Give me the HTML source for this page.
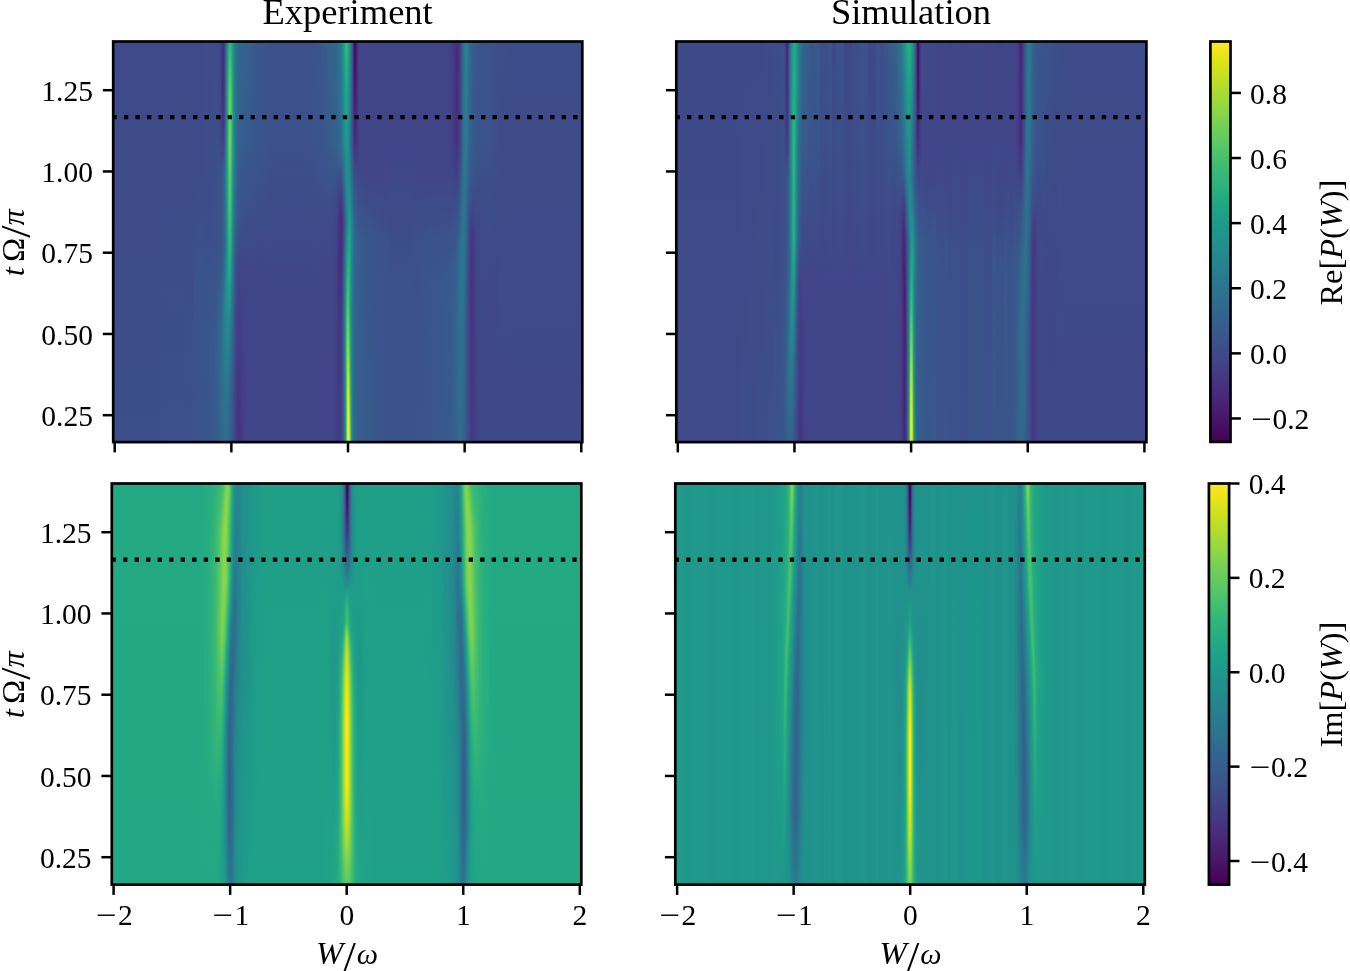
<!DOCTYPE html>
<html lang="en"><head><meta charset="utf-8"><title>P(W) experiment vs simulation</title>
<style>
html,body{margin:0;padding:0;background:#fff;}
body{width:1350px;height:971px;overflow:hidden;}
svg{display:block;}
text{font-family:"Liberation Serif","DejaVu Serif",serif;fill:#000;}
.tk{font-size:29.5px;}
.ti{font-size:36.5px;}
.lb{font-size:31px;}
.it{font-style:italic;}
</style></head>
<body>
<svg width="1350" height="971" viewBox="0 0 1350 971">
<rect width="1350" height="971" fill="#fff"/>
<!-- heat map p1 -->
<defs><linearGradient id="a0" x1="0" y1="0" x2="0" y2="1"><stop offset="0" stop-color="#3e4a89"/><stop offset="1" stop-color="#3c4f8a"/></linearGradient><linearGradient id="a1" x1="0" y1="0" x2="0" y2="1"><stop offset="0" stop-color="#3e4a89"/><stop offset="1" stop-color="#3c4f8a"/></linearGradient><linearGradient id="a2" x1="0" y1="0" x2="0" y2="1"><stop offset="0" stop-color="#3e4a89"/><stop offset="1" stop-color="#3c4f8a"/></linearGradient><linearGradient id="a3" x1="0" y1="0" x2="0" y2="1"><stop offset="0" stop-color="#3e4a89"/><stop offset="1" stop-color="#3c4f8a"/></linearGradient><linearGradient id="a4" x1="0" y1="0" x2="0" y2="1"><stop offset="0" stop-color="#3e4a89"/><stop offset="1" stop-color="#3c4f8a"/></linearGradient><linearGradient id="a5" x1="0" y1="0" x2="0" y2="1"><stop offset="0" stop-color="#3e4a89"/><stop offset="1" stop-color="#3c4f8a"/></linearGradient><linearGradient id="a6" x1="0" y1="0" x2="0" y2="1"><stop offset="0" stop-color="#3e4a89"/><stop offset="1" stop-color="#3c508b"/></linearGradient><linearGradient id="a7" x1="0" y1="0" x2="0" y2="1"><stop offset="0" stop-color="#3e4a89"/><stop offset="1" stop-color="#3c508b"/></linearGradient><linearGradient id="a8" x1="0" y1="0" x2="0" y2="1"><stop offset="0" stop-color="#3e4a89"/><stop offset="1" stop-color="#3c508b"/></linearGradient><linearGradient id="a9" x1="0" y1="0" x2="0" y2="1"><stop offset="0" stop-color="#3e4a89"/><stop offset="1" stop-color="#3b518b"/></linearGradient><linearGradient id="a10" x1="0" y1="0" x2="0" y2="1"><stop offset="0" stop-color="#3e4a89"/><stop offset="0.25" stop-color="#3e4a89"/><stop offset="0.62" stop-color="#3b528b"/><stop offset="1" stop-color="#3a538b"/></linearGradient><linearGradient id="a11" x1="0" y1="0" x2="0" y2="1"><stop offset="0" stop-color="#3e4a89"/><stop offset="0.25" stop-color="#3e4a89"/><stop offset="0.62" stop-color="#3a538b"/><stop offset="1" stop-color="#3a548c"/></linearGradient><linearGradient id="a12" x1="0" y1="0" x2="0" y2="1"><stop offset="0" stop-color="#3e4a89"/><stop offset="0.25" stop-color="#3e4a89"/><stop offset="0.62" stop-color="#3a538b"/><stop offset="1" stop-color="#39558c"/></linearGradient><linearGradient id="a13" x1="0" y1="0" x2="0" y2="1"><stop offset="0" stop-color="#3e4c8a"/><stop offset="0.25" stop-color="#3e4c8a"/><stop offset="0.43" stop-color="#3d4d8a"/><stop offset="0.71" stop-color="#39558c"/><stop offset="1" stop-color="#39568c"/></linearGradient><linearGradient id="a14" x1="0" y1="0" x2="0" y2="1"><stop offset="0" stop-color="#3e4c8a"/><stop offset="0.5" stop-color="#3c4f8a"/><stop offset="0.75" stop-color="#38588c"/><stop offset="1" stop-color="#38588c"/></linearGradient><linearGradient id="a15" x1="0" y1="0" x2="0" y2="1"><stop offset="0" stop-color="#3e4c8a"/><stop offset="0.5" stop-color="#3c4f8a"/><stop offset="0.75" stop-color="#38598c"/><stop offset="1" stop-color="#38598c"/></linearGradient><linearGradient id="a16" x1="0" y1="0" x2="0" y2="1"><stop offset="0" stop-color="#3d4d8a"/><stop offset="0.5" stop-color="#3c4f8a"/><stop offset="0.75" stop-color="#375a8c"/><stop offset="1" stop-color="#375a8c"/></linearGradient><linearGradient id="a17" x1="0" y1="0" x2="0" y2="1"><stop offset="0" stop-color="#3d4d8a"/><stop offset="0.5" stop-color="#3c508b"/><stop offset="0.75" stop-color="#365d8d"/><stop offset="1" stop-color="#365c8d"/></linearGradient><linearGradient id="a18" x1="0" y1="0" x2="0" y2="1"><stop offset="0" stop-color="#3e4c8a"/><stop offset="0.5" stop-color="#3b518b"/><stop offset="0.75" stop-color="#34618d"/><stop offset="1" stop-color="#355f8d"/></linearGradient><linearGradient id="a19" x1="0" y1="0" x2="0" y2="1"><stop offset="0" stop-color="#404688"/><stop offset="0.25" stop-color="#3e4989"/><stop offset="0.34" stop-color="#3b528b"/><stop offset="0.5" stop-color="#3b528b"/><stop offset="0.62" stop-color="#365d8d"/><stop offset="0.71" stop-color="#31678e"/><stop offset="0.85" stop-color="#31688e"/><stop offset="1" stop-color="#33638d"/></linearGradient><linearGradient id="a20" x1="0" y1="0" x2="0" y2="1"><stop offset="0" stop-color="#453882"/><stop offset="0.12" stop-color="#453882"/><stop offset="0.23" stop-color="#424086"/><stop offset="0.32" stop-color="#3b528b"/><stop offset="0.37" stop-color="#39558c"/><stop offset="0.52" stop-color="#38588c"/><stop offset="0.58" stop-color="#365d8d"/><stop offset="0.68" stop-color="#2f6c8e"/><stop offset="0.84" stop-color="#2e6e8e"/><stop offset="1" stop-color="#31678e"/></linearGradient><linearGradient id="a21" x1="0" y1="0" x2="0" y2="1"><stop offset="0" stop-color="#472e7c"/><stop offset="0.12" stop-color="#472e7c"/><stop offset="0.23" stop-color="#443a83"/><stop offset="0.27" stop-color="#414487"/><stop offset="0.31" stop-color="#3b528b"/><stop offset="0.35" stop-color="#375b8d"/><stop offset="0.51" stop-color="#375b8d"/><stop offset="0.57" stop-color="#34608d"/><stop offset="0.67" stop-color="#2d718e"/><stop offset="0.75" stop-color="#2b748e"/><stop offset="1" stop-color="#30698e"/></linearGradient><linearGradient id="a22" x1="0" y1="0" x2="0" y2="1"><stop offset="0" stop-color="#472d7b"/><stop offset="0.12" stop-color="#472f7d"/><stop offset="0.23" stop-color="#433d84"/><stop offset="0.27" stop-color="#3f4889"/><stop offset="0.31" stop-color="#38598c"/><stop offset="0.35" stop-color="#33628d"/><stop offset="0.51" stop-color="#34618d"/><stop offset="0.57" stop-color="#31678e"/><stop offset="0.67" stop-color="#2a788e"/><stop offset="0.75" stop-color="#297a8e"/><stop offset="1" stop-color="#2f6b8e"/></linearGradient><linearGradient id="a23" x1="0" y1="0" x2="0" y2="1"><stop offset="0" stop-color="#423f85"/><stop offset="0.12" stop-color="#414287"/><stop offset="0.23" stop-color="#3d4e8a"/><stop offset="0.32" stop-color="#31688e"/><stop offset="0.36" stop-color="#2f6c8e"/><stop offset="0.44" stop-color="#306a8e"/><stop offset="0.51" stop-color="#30698e"/><stop offset="0.57" stop-color="#2d718e"/><stop offset="0.67" stop-color="#26818e"/><stop offset="0.83" stop-color="#2a788e"/><stop offset="1" stop-color="#2f6c8e"/></linearGradient><linearGradient id="a24" x1="0" y1="0" x2="0" y2="1"><stop offset="0" stop-color="#365c8d"/><stop offset="0.25" stop-color="#2f6c8e"/><stop offset="0.34" stop-color="#287c8e"/><stop offset="0.5" stop-color="#2b748e"/><stop offset="0.62" stop-color="#25848e"/><stop offset="0.66" stop-color="#23898e"/><stop offset="1" stop-color="#2f6c8e"/></linearGradient><linearGradient id="a25" x1="0" y1="0" x2="0" y2="1"><stop offset="0" stop-color="#29798e"/><stop offset="0.12" stop-color="#25848e"/><stop offset="0.34" stop-color="#21918c"/><stop offset="0.5" stop-color="#25858e"/><stop offset="0.62" stop-color="#20928c"/><stop offset="0.71" stop-color="#23898e"/><stop offset="0.85" stop-color="#2a778e"/><stop offset="1" stop-color="#2f6b8e"/></linearGradient><linearGradient id="a26" x1="0" y1="0" x2="0" y2="1"><stop offset="0" stop-color="#20938c"/><stop offset="0.12" stop-color="#20a486"/><stop offset="0.34" stop-color="#23a983"/><stop offset="0.5" stop-color="#1f9a8a"/><stop offset="0.62" stop-color="#1e9b8a"/><stop offset="0.81" stop-color="#287c8e"/><stop offset="1" stop-color="#31688e"/></linearGradient><linearGradient id="a27" x1="0" y1="0" x2="0" y2="1"><stop offset="0" stop-color="#23a983"/><stop offset="0.06" stop-color="#2fb47c"/><stop offset="0.11" stop-color="#3fbc73"/><stop offset="0.16" stop-color="#48c16e"/><stop offset="0.26" stop-color="#4ec36b"/><stop offset="0.35" stop-color="#42be71"/><stop offset="0.51" stop-color="#27ad81"/><stop offset="0.57" stop-color="#22a884"/><stop offset="0.67" stop-color="#20938c"/><stop offset="0.75" stop-color="#26828e"/><stop offset="0.87" stop-color="#2d718e"/><stop offset="1" stop-color="#32658e"/></linearGradient><linearGradient id="a28" x1="0" y1="0" x2="0" y2="1"><stop offset="0" stop-color="#2fb47c"/><stop offset="0.06" stop-color="#46c06f"/><stop offset="0.11" stop-color="#5ec962"/><stop offset="0.14" stop-color="#67cc5c"/><stop offset="0.24" stop-color="#70cf57"/><stop offset="0.28" stop-color="#6ccd5a"/><stop offset="0.37" stop-color="#5ac864"/><stop offset="0.52" stop-color="#2fb47c"/><stop offset="0.58" stop-color="#23a983"/><stop offset="0.63" stop-color="#1e9b8a"/><stop offset="0.72" stop-color="#26828e"/><stop offset="0.86" stop-color="#2e6d8e"/><stop offset="1" stop-color="#33628d"/></linearGradient><linearGradient id="a29" x1="0" y1="0" x2="0" y2="1"><stop offset="0" stop-color="#2fb47c"/><stop offset="0.06" stop-color="#46c06f"/><stop offset="0.11" stop-color="#5cc863"/><stop offset="0.15" stop-color="#65cb5e"/><stop offset="0.25" stop-color="#6ccd5a"/><stop offset="0.34" stop-color="#58c765"/><stop offset="0.5" stop-color="#2eb37c"/><stop offset="0.56" stop-color="#20a486"/><stop offset="0.61" stop-color="#1f978b"/><stop offset="0.7" stop-color="#287d8e"/><stop offset="0.85" stop-color="#31688e"/><stop offset="1" stop-color="#365d8d"/></linearGradient><linearGradient id="a30" x1="0" y1="0" x2="0" y2="1"><stop offset="0" stop-color="#25ab82"/><stop offset="0.06" stop-color="#2fb47c"/><stop offset="0.11" stop-color="#3dbc74"/><stop offset="0.15" stop-color="#42be71"/><stop offset="0.25" stop-color="#46c06f"/><stop offset="0.43" stop-color="#25ac82"/><stop offset="0.5" stop-color="#1fa287"/><stop offset="0.62" stop-color="#24868e"/><stop offset="0.71" stop-color="#2c728e"/><stop offset="0.85" stop-color="#34618d"/><stop offset="1" stop-color="#38598c"/></linearGradient><linearGradient id="a31" x1="0" y1="0" x2="0" y2="1"><stop offset="0" stop-color="#1e9c89"/><stop offset="0.12" stop-color="#23a983"/><stop offset="0.23" stop-color="#23a983"/><stop offset="0.42" stop-color="#1f968b"/><stop offset="0.56" stop-color="#26818e"/><stop offset="0.67" stop-color="#2e6f8e"/><stop offset="0.83" stop-color="#365c8d"/><stop offset="1" stop-color="#3a538b"/></linearGradient><linearGradient id="a32" x1="0" y1="0" x2="0" y2="1"><stop offset="0" stop-color="#228d8d"/><stop offset="0.12" stop-color="#1f948c"/><stop offset="0.23" stop-color="#20938c"/><stop offset="0.42" stop-color="#26828e"/><stop offset="0.71" stop-color="#355e8d"/><stop offset="0.85" stop-color="#3b528b"/><stop offset="1" stop-color="#3d4d8a"/></linearGradient><linearGradient id="a33" x1="0" y1="0" x2="0" y2="1"><stop offset="0" stop-color="#27808e"/><stop offset="0.25" stop-color="#26828e"/><stop offset="0.43" stop-color="#2d718e"/><stop offset="0.57" stop-color="#355f8d"/><stop offset="0.78" stop-color="#3c4f8a"/><stop offset="0.89" stop-color="#3f4889"/><stop offset="1" stop-color="#3f4788"/></linearGradient><linearGradient id="a34" x1="0" y1="0" x2="0" y2="1"><stop offset="0" stop-color="#2a768e"/><stop offset="0.25" stop-color="#2b758e"/><stop offset="0.43" stop-color="#32658e"/><stop offset="0.57" stop-color="#3a538b"/><stop offset="0.78" stop-color="#404688"/><stop offset="0.89" stop-color="#424186"/><stop offset="1" stop-color="#424186"/></linearGradient><linearGradient id="a35" x1="0" y1="0" x2="0" y2="1"><stop offset="0" stop-color="#2d708e"/><stop offset="0.25" stop-color="#2e6d8e"/><stop offset="0.43" stop-color="#355e8d"/><stop offset="0.57" stop-color="#3e4c8a"/><stop offset="0.67" stop-color="#404588"/><stop offset="0.83" stop-color="#443b84"/><stop offset="1" stop-color="#443a83"/></linearGradient><linearGradient id="a36" x1="0" y1="0" x2="0" y2="1"><stop offset="0" stop-color="#2f6b8e"/><stop offset="0.25" stop-color="#31678e"/><stop offset="0.43" stop-color="#38598c"/><stop offset="0.57" stop-color="#3f4788"/><stop offset="0.78" stop-color="#443b84"/><stop offset="0.89" stop-color="#453581"/><stop offset="1" stop-color="#453581"/></linearGradient><linearGradient id="a37" x1="0" y1="0" x2="0" y2="1"><stop offset="0" stop-color="#31688e"/><stop offset="0.25" stop-color="#32648e"/><stop offset="0.43" stop-color="#39558c"/><stop offset="0.57" stop-color="#404688"/><stop offset="0.67" stop-color="#423f85"/><stop offset="0.83" stop-color="#453781"/><stop offset="1" stop-color="#46337f"/></linearGradient><linearGradient id="a38" x1="0" y1="0" x2="0" y2="1"><stop offset="0" stop-color="#32658e"/><stop offset="0.25" stop-color="#33628d"/><stop offset="0.62" stop-color="#424186"/><stop offset="1" stop-color="#46327e"/></linearGradient><linearGradient id="a39" x1="0" y1="0" x2="0" y2="1"><stop offset="0" stop-color="#32648e"/><stop offset="0.25" stop-color="#34608d"/><stop offset="0.62" stop-color="#414287"/><stop offset="1" stop-color="#463480"/></linearGradient><linearGradient id="a40" x1="0" y1="0" x2="0" y2="1"><stop offset="0" stop-color="#33638d"/><stop offset="0.25" stop-color="#355f8d"/><stop offset="0.43" stop-color="#3b518b"/><stop offset="0.57" stop-color="#404688"/><stop offset="1" stop-color="#453882"/></linearGradient><linearGradient id="a41" x1="0" y1="0" x2="0" y2="1"><stop offset="0" stop-color="#33628d"/><stop offset="0.25" stop-color="#355e8d"/><stop offset="0.43" stop-color="#3c508b"/><stop offset="0.57" stop-color="#404688"/><stop offset="1" stop-color="#443b84"/></linearGradient><linearGradient id="a42" x1="0" y1="0" x2="0" y2="1"><stop offset="0" stop-color="#34618d"/><stop offset="0.25" stop-color="#365d8d"/><stop offset="0.43" stop-color="#3c508b"/><stop offset="0.57" stop-color="#404688"/><stop offset="1" stop-color="#424086"/></linearGradient><linearGradient id="a43" x1="0" y1="0" x2="0" y2="1"><stop offset="0" stop-color="#34608d"/><stop offset="0.25" stop-color="#365c8d"/><stop offset="0.43" stop-color="#3c4f8a"/><stop offset="0.57" stop-color="#404688"/><stop offset="1" stop-color="#414487"/></linearGradient><linearGradient id="a44" x1="0" y1="0" x2="0" y2="1"><stop offset="0" stop-color="#355f8d"/><stop offset="0.25" stop-color="#375b8d"/><stop offset="0.43" stop-color="#3c4f8a"/><stop offset="0.57" stop-color="#404688"/><stop offset="1" stop-color="#404588"/></linearGradient><linearGradient id="a45" x1="0" y1="0" x2="0" y2="1"><stop offset="0" stop-color="#365d8d"/><stop offset="0.25" stop-color="#375a8c"/><stop offset="0.43" stop-color="#3d4e8a"/><stop offset="0.57" stop-color="#404688"/><stop offset="1" stop-color="#404588"/></linearGradient><linearGradient id="a46" x1="0" y1="0" x2="0" y2="1"><stop offset="0" stop-color="#365c8d"/><stop offset="0.25" stop-color="#38598c"/><stop offset="0.43" stop-color="#3d4e8a"/><stop offset="0.57" stop-color="#404688"/><stop offset="1" stop-color="#404688"/></linearGradient><linearGradient id="a47" x1="0" y1="0" x2="0" y2="1"><stop offset="0" stop-color="#375a8c"/><stop offset="0.25" stop-color="#38588c"/><stop offset="0.43" stop-color="#3d4e8a"/><stop offset="0.57" stop-color="#404688"/><stop offset="1" stop-color="#404688"/></linearGradient><linearGradient id="a48" x1="0" y1="0" x2="0" y2="1"><stop offset="0" stop-color="#38598c"/><stop offset="0.25" stop-color="#39568c"/><stop offset="0.43" stop-color="#3d4d8a"/><stop offset="0.57" stop-color="#404688"/><stop offset="1" stop-color="#404688"/></linearGradient><linearGradient id="a49" x1="0" y1="0" x2="0" y2="1"><stop offset="0" stop-color="#39568c"/><stop offset="0.25" stop-color="#3a548c"/><stop offset="0.43" stop-color="#3d4d8a"/><stop offset="0.57" stop-color="#404688"/><stop offset="1" stop-color="#404688"/></linearGradient><linearGradient id="a50" x1="0" y1="0" x2="0" y2="1"><stop offset="0" stop-color="#3a548c"/><stop offset="0.25" stop-color="#3a538b"/><stop offset="0.43" stop-color="#3d4d8a"/><stop offset="0.57" stop-color="#404688"/><stop offset="1" stop-color="#404688"/></linearGradient><linearGradient id="a51" x1="0" y1="0" x2="0" y2="1"><stop offset="0" stop-color="#3b528b"/><stop offset="0.25" stop-color="#3b528b"/><stop offset="0.62" stop-color="#404688"/><stop offset="1" stop-color="#404688"/></linearGradient><linearGradient id="a52" x1="0" y1="0" x2="0" y2="1"><stop offset="0" stop-color="#3b518b"/><stop offset="0.25" stop-color="#3b518b"/><stop offset="0.62" stop-color="#404688"/><stop offset="1" stop-color="#404688"/></linearGradient><linearGradient id="a53" x1="0" y1="0" x2="0" y2="1"><stop offset="0" stop-color="#3b518b"/><stop offset="0.25" stop-color="#3c508b"/><stop offset="0.62" stop-color="#404688"/><stop offset="1" stop-color="#404688"/></linearGradient><linearGradient id="a54" x1="0" y1="0" x2="0" y2="1"><stop offset="0" stop-color="#3c508b"/><stop offset="0.25" stop-color="#3c508b"/><stop offset="0.62" stop-color="#404688"/><stop offset="1" stop-color="#404688"/></linearGradient><linearGradient id="a55" x1="0" y1="0" x2="0" y2="1"><stop offset="0" stop-color="#3c508b"/><stop offset="0.25" stop-color="#3c508b"/><stop offset="0.62" stop-color="#404688"/><stop offset="1" stop-color="#404688"/></linearGradient><linearGradient id="a56" x1="0" y1="0" x2="0" y2="1"><stop offset="0" stop-color="#3c508b"/><stop offset="0.25" stop-color="#3c508b"/><stop offset="0.62" stop-color="#404688"/><stop offset="1" stop-color="#404688"/></linearGradient><linearGradient id="a57" x1="0" y1="0" x2="0" y2="1"><stop offset="0" stop-color="#3b518b"/><stop offset="0.25" stop-color="#3b518b"/><stop offset="0.62" stop-color="#404688"/><stop offset="1" stop-color="#404688"/></linearGradient><linearGradient id="a58" x1="0" y1="0" x2="0" y2="1"><stop offset="0" stop-color="#3a538b"/><stop offset="0.25" stop-color="#3b528b"/><stop offset="0.62" stop-color="#404688"/><stop offset="1" stop-color="#404688"/></linearGradient><linearGradient id="a59" x1="0" y1="0" x2="0" y2="1"><stop offset="0" stop-color="#39568c"/><stop offset="0.25" stop-color="#3a548c"/><stop offset="0.43" stop-color="#3e4c8a"/><stop offset="0.57" stop-color="#404688"/><stop offset="1" stop-color="#404688"/></linearGradient><linearGradient id="a60" x1="0" y1="0" x2="0" y2="1"><stop offset="0" stop-color="#375a8c"/><stop offset="0.25" stop-color="#39568c"/><stop offset="0.43" stop-color="#3e4c8a"/><stop offset="0.57" stop-color="#404688"/><stop offset="1" stop-color="#404688"/></linearGradient><linearGradient id="a61" x1="0" y1="0" x2="0" y2="1"><stop offset="0" stop-color="#365d8d"/><stop offset="0.25" stop-color="#38598c"/><stop offset="0.43" stop-color="#3e4c8a"/><stop offset="0.57" stop-color="#404688"/><stop offset="1" stop-color="#404688"/></linearGradient><linearGradient id="a62" x1="0" y1="0" x2="0" y2="1"><stop offset="0" stop-color="#355f8d"/><stop offset="0.25" stop-color="#375a8c"/><stop offset="0.43" stop-color="#3e4c8a"/><stop offset="0.57" stop-color="#404688"/><stop offset="1" stop-color="#404688"/></linearGradient><linearGradient id="a63" x1="0" y1="0" x2="0" y2="1"><stop offset="0" stop-color="#34618d"/><stop offset="0.25" stop-color="#365c8d"/><stop offset="0.43" stop-color="#3e4c8a"/><stop offset="0.57" stop-color="#404688"/><stop offset="1" stop-color="#404688"/></linearGradient><linearGradient id="a64" x1="0" y1="0" x2="0" y2="1"><stop offset="0" stop-color="#33638d"/><stop offset="0.25" stop-color="#365d8d"/><stop offset="0.43" stop-color="#3e4a89"/><stop offset="0.57" stop-color="#404688"/><stop offset="1" stop-color="#404588"/></linearGradient><linearGradient id="a65" x1="0" y1="0" x2="0" y2="1"><stop offset="0" stop-color="#32658e"/><stop offset="0.25" stop-color="#355e8d"/><stop offset="0.43" stop-color="#3e4989"/><stop offset="0.57" stop-color="#414487"/><stop offset="1" stop-color="#414287"/></linearGradient><linearGradient id="a66" x1="0" y1="0" x2="0" y2="1"><stop offset="0" stop-color="#31688e"/><stop offset="0.25" stop-color="#34608d"/><stop offset="0.34" stop-color="#3b518b"/><stop offset="0.42" stop-color="#404688"/><stop offset="0.56" stop-color="#424086"/><stop offset="1" stop-color="#423f85"/></linearGradient><linearGradient id="a67" x1="0" y1="0" x2="0" y2="1"><stop offset="0" stop-color="#2f6c8e"/><stop offset="0.25" stop-color="#33628d"/><stop offset="0.29" stop-color="#365d8d"/><stop offset="0.37" stop-color="#3f4788"/><stop offset="0.52" stop-color="#443a83"/><stop offset="1" stop-color="#443b84"/></linearGradient><linearGradient id="a68" x1="0" y1="0" x2="0" y2="1"><stop offset="0" stop-color="#2e6f8e"/><stop offset="0.25" stop-color="#32648e"/><stop offset="0.29" stop-color="#355e8d"/><stop offset="0.37" stop-color="#414487"/><stop offset="0.44" stop-color="#443983"/><stop offset="0.58" stop-color="#463480"/><stop offset="0.79" stop-color="#443983"/><stop offset="1" stop-color="#443983"/></linearGradient><linearGradient id="a69" x1="0" y1="0" x2="0" y2="1"><stop offset="0" stop-color="#2c738e"/><stop offset="0.25" stop-color="#31678e"/><stop offset="0.29" stop-color="#34618d"/><stop offset="0.37" stop-color="#424086"/><stop offset="0.44" stop-color="#46327e"/><stop offset="0.58" stop-color="#472f7d"/><stop offset="0.79" stop-color="#453781"/><stop offset="1" stop-color="#443983"/></linearGradient><linearGradient id="a70" x1="0" y1="0" x2="0" y2="1"><stop offset="0" stop-color="#297a8e"/><stop offset="0.25" stop-color="#2f6b8e"/><stop offset="0.29" stop-color="#32648e"/><stop offset="0.37" stop-color="#424086"/><stop offset="0.44" stop-color="#472e7c"/><stop offset="0.51" stop-color="#472a7a"/><stop offset="0.75" stop-color="#453781"/><stop offset="1" stop-color="#433d84"/></linearGradient><linearGradient id="a71" x1="0" y1="0" x2="0" y2="1"><stop offset="0" stop-color="#26828e"/><stop offset="0.25" stop-color="#2c718e"/><stop offset="0.29" stop-color="#306a8e"/><stop offset="0.37" stop-color="#404588"/><stop offset="0.44" stop-color="#46307e"/><stop offset="0.49" stop-color="#472d7b"/><stop offset="0.74" stop-color="#433e85"/><stop offset="1" stop-color="#404588"/></linearGradient><linearGradient id="a72" x1="0" y1="0" x2="0" y2="1"><stop offset="0" stop-color="#218e8d"/><stop offset="0.25" stop-color="#29798e"/><stop offset="0.29" stop-color="#2d718e"/><stop offset="0.37" stop-color="#3c4f8a"/><stop offset="0.44" stop-color="#443983"/><stop offset="0.47" stop-color="#453781"/><stop offset="0.6" stop-color="#414487"/><stop offset="0.7" stop-color="#3e4c8a"/><stop offset="1" stop-color="#3c508b"/></linearGradient><linearGradient id="a73" x1="0" y1="0" x2="0" y2="1"><stop offset="0" stop-color="#1e9b8a"/><stop offset="0.25" stop-color="#26828e"/><stop offset="0.29" stop-color="#297a8e"/><stop offset="0.37" stop-color="#365d8d"/><stop offset="0.44" stop-color="#3f4788"/><stop offset="0.48" stop-color="#3f4788"/><stop offset="0.61" stop-color="#375a8c"/><stop offset="0.7" stop-color="#34608d"/><stop offset="1" stop-color="#34608d"/></linearGradient><linearGradient id="a74" x1="0" y1="0" x2="0" y2="1"><stop offset="0" stop-color="#22a884"/><stop offset="0.12" stop-color="#1f9a8a"/><stop offset="0.23" stop-color="#218f8d"/><stop offset="0.27" stop-color="#23898e"/><stop offset="0.45" stop-color="#39558c"/><stop offset="0.58" stop-color="#2f6c8e"/><stop offset="0.68" stop-color="#297a8e"/><stop offset="1" stop-color="#2a788e"/></linearGradient><linearGradient id="a75" x1="0" y1="0" x2="0" y2="1"><stop offset="0" stop-color="#2eb37c"/><stop offset="0.12" stop-color="#20a386"/><stop offset="0.23" stop-color="#1f968b"/><stop offset="0.32" stop-color="#23888e"/><stop offset="0.4" stop-color="#2c738e"/><stop offset="0.45" stop-color="#31678e"/><stop offset="0.58" stop-color="#25858e"/><stop offset="0.63" stop-color="#20928c"/><stop offset="0.72" stop-color="#1e9c89"/><stop offset="1" stop-color="#1e9c89"/></linearGradient><linearGradient id="a76" x1="0" y1="0" x2="0" y2="1"><stop offset="0" stop-color="#34b679"/><stop offset="0.12" stop-color="#22a785"/><stop offset="0.23" stop-color="#1f9a8a"/><stop offset="0.32" stop-color="#20928c"/><stop offset="0.4" stop-color="#25838e"/><stop offset="0.45" stop-color="#29798e"/><stop offset="0.58" stop-color="#1f9f88"/><stop offset="0.63" stop-color="#26ad81"/><stop offset="0.72" stop-color="#40bd72"/><stop offset="0.79" stop-color="#52c569"/><stop offset="0.89" stop-color="#5ec962"/><stop offset="1" stop-color="#60ca60"/></linearGradient><linearGradient id="a77" x1="0" y1="0" x2="0" y2="1"><stop offset="0" stop-color="#2eb37c"/><stop offset="0.12" stop-color="#20a386"/><stop offset="0.23" stop-color="#1f968b"/><stop offset="0.42" stop-color="#218e8d"/><stop offset="0.45" stop-color="#238a8d"/><stop offset="0.51" stop-color="#1f9e89"/><stop offset="0.57" stop-color="#28ae80"/><stop offset="0.62" stop-color="#3dbc74"/><stop offset="0.71" stop-color="#6ece58"/><stop offset="0.85" stop-color="#bddf26"/><stop offset="0.92" stop-color="#d5e21a"/><stop offset="1" stop-color="#e7e419"/></linearGradient><linearGradient id="a78" x1="0" y1="0" x2="0" y2="1"><stop offset="0" stop-color="#22a785"/><stop offset="0.12" stop-color="#1f998a"/><stop offset="0.23" stop-color="#228d8d"/><stop offset="0.42" stop-color="#1f978b"/><stop offset="0.46" stop-color="#1e9b8a"/><stop offset="0.52" stop-color="#24aa83"/><stop offset="0.64" stop-color="#48c16e"/><stop offset="0.68" stop-color="#5ac864"/><stop offset="0.76" stop-color="#8bd646"/><stop offset="0.82" stop-color="#b8de29"/><stop offset="0.86" stop-color="#d5e21a"/><stop offset="0.9" stop-color="#eae51a"/><stop offset="0.94" stop-color="#fde725"/><stop offset="1" stop-color="#fde725"/></linearGradient><linearGradient id="a79" x1="0" y1="0" x2="0" y2="1"><stop offset="0" stop-color="#1f958b"/><stop offset="0.25" stop-color="#277e8e"/><stop offset="0.34" stop-color="#24878e"/><stop offset="0.42" stop-color="#1f978b"/><stop offset="0.56" stop-color="#26ad81"/><stop offset="0.61" stop-color="#2ab07f"/><stop offset="0.65" stop-color="#2cb17e"/><stop offset="0.73" stop-color="#42be71"/><stop offset="0.79" stop-color="#5ec962"/><stop offset="0.89" stop-color="#98d83e"/><stop offset="0.94" stop-color="#b8de29"/><stop offset="1" stop-color="#dde318"/></linearGradient><linearGradient id="a80" x1="0" y1="0" x2="0" y2="1"><stop offset="0" stop-color="#26818e"/><stop offset="0.25" stop-color="#2d708e"/><stop offset="0.34" stop-color="#297b8e"/><stop offset="0.41" stop-color="#228c8d"/><stop offset="0.46" stop-color="#1f998a"/><stop offset="0.59" stop-color="#1e9d89"/><stop offset="0.64" stop-color="#1f9a8a"/><stop offset="0.73" stop-color="#1fa188"/><stop offset="0.79" stop-color="#23a983"/><stop offset="0.89" stop-color="#37b878"/><stop offset="1" stop-color="#5ac864"/></linearGradient><linearGradient id="a81" x1="0" y1="0" x2="0" y2="1"><stop offset="0" stop-color="#306a8e"/><stop offset="0.25" stop-color="#34608d"/><stop offset="0.34" stop-color="#2e6f8e"/><stop offset="0.41" stop-color="#277f8e"/><stop offset="0.46" stop-color="#228c8d"/><stop offset="0.59" stop-color="#23898e"/><stop offset="0.64" stop-color="#25858e"/><stop offset="0.82" stop-color="#218e8d"/><stop offset="1" stop-color="#1fa088"/></linearGradient><linearGradient id="a82" x1="0" y1="0" x2="0" y2="1"><stop offset="0" stop-color="#3d4d8a"/><stop offset="0.25" stop-color="#3c508b"/><stop offset="0.34" stop-color="#32648e"/><stop offset="0.42" stop-color="#2b758e"/><stop offset="0.45" stop-color="#277f8e"/><stop offset="0.58" stop-color="#297b8e"/><stop offset="0.68" stop-color="#2b758e"/><stop offset="1" stop-color="#26828e"/></linearGradient><linearGradient id="a83" x1="0" y1="0" x2="0" y2="1"><stop offset="0" stop-color="#482979"/><stop offset="0.12" stop-color="#46327e"/><stop offset="0.23" stop-color="#433d84"/><stop offset="0.27" stop-color="#404588"/><stop offset="0.31" stop-color="#3b528b"/><stop offset="0.39" stop-color="#33628d"/><stop offset="0.46" stop-color="#2c718e"/><stop offset="0.73" stop-color="#2f6c8e"/><stop offset="1" stop-color="#2c718e"/></linearGradient><linearGradient id="a84" x1="0" y1="0" x2="0" y2="1"><stop offset="0" stop-color="#460b5e"/><stop offset="0.25" stop-color="#46307e"/><stop offset="0.34" stop-color="#3a548c"/><stop offset="0.42" stop-color="#34618d"/><stop offset="0.48" stop-color="#30698e"/><stop offset="0.74" stop-color="#32658e"/><stop offset="1" stop-color="#30698e"/></linearGradient><linearGradient id="a85" x1="0" y1="0" x2="0" y2="1"><stop offset="0" stop-color="#460a5d"/><stop offset="0.25" stop-color="#472d7b"/><stop offset="0.34" stop-color="#3c508b"/><stop offset="0.42" stop-color="#375b8d"/><stop offset="0.49" stop-color="#32648e"/><stop offset="1" stop-color="#33638d"/></linearGradient><linearGradient id="a86" x1="0" y1="0" x2="0" y2="1"><stop offset="0" stop-color="#481d6f"/><stop offset="0.25" stop-color="#46327e"/><stop offset="0.34" stop-color="#3d4d8a"/><stop offset="0.5" stop-color="#34618d"/><stop offset="1" stop-color="#34618d"/></linearGradient><linearGradient id="a87" x1="0" y1="0" x2="0" y2="1"><stop offset="0" stop-color="#46307e"/><stop offset="0.25" stop-color="#443983"/><stop offset="0.34" stop-color="#3e4a89"/><stop offset="0.5" stop-color="#355e8d"/><stop offset="1" stop-color="#355f8d"/></linearGradient><linearGradient id="a88" x1="0" y1="0" x2="0" y2="1"><stop offset="0" stop-color="#433d84"/><stop offset="0.25" stop-color="#423f85"/><stop offset="0.43" stop-color="#3a538b"/><stop offset="0.5" stop-color="#365d8d"/><stop offset="1" stop-color="#355e8d"/></linearGradient><linearGradient id="a89" x1="0" y1="0" x2="0" y2="1"><stop offset="0" stop-color="#414487"/><stop offset="0.25" stop-color="#414487"/><stop offset="0.34" stop-color="#3f4889"/><stop offset="0.5" stop-color="#375b8d"/><stop offset="1" stop-color="#365d8d"/></linearGradient><linearGradient id="a90" x1="0" y1="0" x2="0" y2="1"><stop offset="0" stop-color="#404688"/><stop offset="0.25" stop-color="#404588"/><stop offset="0.34" stop-color="#3f4788"/><stop offset="0.5" stop-color="#375a8c"/><stop offset="1" stop-color="#365d8d"/></linearGradient><linearGradient id="a91" x1="0" y1="0" x2="0" y2="1"><stop offset="0" stop-color="#404688"/><stop offset="0.25" stop-color="#404588"/><stop offset="0.34" stop-color="#404688"/><stop offset="0.5" stop-color="#38598c"/><stop offset="1" stop-color="#365c8d"/></linearGradient><linearGradient id="a92" x1="0" y1="0" x2="0" y2="1"><stop offset="0" stop-color="#404688"/><stop offset="0.25" stop-color="#404588"/><stop offset="0.34" stop-color="#404688"/><stop offset="0.5" stop-color="#38588c"/><stop offset="1" stop-color="#375b8d"/></linearGradient><linearGradient id="a93" x1="0" y1="0" x2="0" y2="1"><stop offset="0" stop-color="#404688"/><stop offset="0.25" stop-color="#404588"/><stop offset="0.34" stop-color="#404688"/><stop offset="0.5" stop-color="#38588c"/><stop offset="1" stop-color="#375b8d"/></linearGradient><linearGradient id="a94" x1="0" y1="0" x2="0" y2="1"><stop offset="0" stop-color="#404588"/><stop offset="0.25" stop-color="#404588"/><stop offset="0.34" stop-color="#404688"/><stop offset="0.5" stop-color="#39568c"/><stop offset="1" stop-color="#375a8c"/></linearGradient><linearGradient id="a95" x1="0" y1="0" x2="0" y2="1"><stop offset="0" stop-color="#404588"/><stop offset="0.25" stop-color="#404588"/><stop offset="0.34" stop-color="#404688"/><stop offset="0.5" stop-color="#39558c"/><stop offset="1" stop-color="#38598c"/></linearGradient><linearGradient id="a96" x1="0" y1="0" x2="0" y2="1"><stop offset="0" stop-color="#404588"/><stop offset="0.25" stop-color="#404588"/><stop offset="0.34" stop-color="#404688"/><stop offset="0.5" stop-color="#3a548c"/><stop offset="1" stop-color="#38588c"/></linearGradient><linearGradient id="a97" x1="0" y1="0" x2="0" y2="1"><stop offset="0" stop-color="#404588"/><stop offset="0.25" stop-color="#404588"/><stop offset="0.34" stop-color="#404688"/><stop offset="0.5" stop-color="#3a538b"/><stop offset="1" stop-color="#39558c"/></linearGradient><linearGradient id="a98" x1="0" y1="0" x2="0" y2="1"><stop offset="0" stop-color="#404588"/><stop offset="0.25" stop-color="#404588"/><stop offset="0.34" stop-color="#404688"/><stop offset="0.5" stop-color="#3b518b"/><stop offset="1" stop-color="#3a548c"/></linearGradient><linearGradient id="a99" x1="0" y1="0" x2="0" y2="1"><stop offset="0" stop-color="#404588"/><stop offset="0.25" stop-color="#404588"/><stop offset="0.34" stop-color="#404688"/><stop offset="0.5" stop-color="#3b518b"/><stop offset="1" stop-color="#3a538b"/></linearGradient><linearGradient id="a100" x1="0" y1="0" x2="0" y2="1"><stop offset="0" stop-color="#404588"/><stop offset="0.25" stop-color="#404588"/><stop offset="0.62" stop-color="#3b528b"/><stop offset="1" stop-color="#3b528b"/></linearGradient><linearGradient id="a101" x1="0" y1="0" x2="0" y2="1"><stop offset="0" stop-color="#404588"/><stop offset="0.25" stop-color="#404588"/><stop offset="0.62" stop-color="#3b528b"/><stop offset="1" stop-color="#3b528b"/></linearGradient><linearGradient id="a102" x1="0" y1="0" x2="0" y2="1"><stop offset="0" stop-color="#404588"/><stop offset="0.25" stop-color="#404588"/><stop offset="0.62" stop-color="#3b528b"/><stop offset="1" stop-color="#3b528b"/></linearGradient><linearGradient id="a103" x1="0" y1="0" x2="0" y2="1"><stop offset="0" stop-color="#404588"/><stop offset="0.25" stop-color="#404588"/><stop offset="0.34" stop-color="#404688"/><stop offset="0.5" stop-color="#3c508b"/><stop offset="1" stop-color="#3a538b"/></linearGradient><linearGradient id="a104" x1="0" y1="0" x2="0" y2="1"><stop offset="0" stop-color="#404588"/><stop offset="0.25" stop-color="#404588"/><stop offset="0.34" stop-color="#404688"/><stop offset="0.5" stop-color="#3b518b"/><stop offset="1" stop-color="#3a548c"/></linearGradient><linearGradient id="a105" x1="0" y1="0" x2="0" y2="1"><stop offset="0" stop-color="#404588"/><stop offset="0.25" stop-color="#404588"/><stop offset="0.34" stop-color="#404688"/><stop offset="0.5" stop-color="#3b528b"/><stop offset="0.62" stop-color="#39568c"/><stop offset="1" stop-color="#39568c"/></linearGradient><linearGradient id="a106" x1="0" y1="0" x2="0" y2="1"><stop offset="0" stop-color="#404588"/><stop offset="0.25" stop-color="#404588"/><stop offset="0.34" stop-color="#404688"/><stop offset="0.5" stop-color="#3b528b"/><stop offset="0.62" stop-color="#38588c"/><stop offset="1" stop-color="#38588c"/></linearGradient><linearGradient id="a107" x1="0" y1="0" x2="0" y2="1"><stop offset="0" stop-color="#404588"/><stop offset="0.25" stop-color="#404588"/><stop offset="0.34" stop-color="#404688"/><stop offset="0.5" stop-color="#3b528b"/><stop offset="0.62" stop-color="#38588c"/><stop offset="1" stop-color="#38588c"/></linearGradient><linearGradient id="a108" x1="0" y1="0" x2="0" y2="1"><stop offset="0" stop-color="#404588"/><stop offset="0.25" stop-color="#404588"/><stop offset="0.34" stop-color="#404688"/><stop offset="0.5" stop-color="#3a538b"/><stop offset="0.62" stop-color="#38598c"/><stop offset="1" stop-color="#38598c"/></linearGradient><linearGradient id="a109" x1="0" y1="0" x2="0" y2="1"><stop offset="0" stop-color="#404588"/><stop offset="0.25" stop-color="#404588"/><stop offset="0.34" stop-color="#404688"/><stop offset="0.5" stop-color="#3a538b"/><stop offset="0.62" stop-color="#38598c"/><stop offset="1" stop-color="#38598c"/></linearGradient><linearGradient id="a110" x1="0" y1="0" x2="0" y2="1"><stop offset="0" stop-color="#414487"/><stop offset="0.25" stop-color="#404588"/><stop offset="0.34" stop-color="#404688"/><stop offset="0.5" stop-color="#3a538b"/><stop offset="0.62" stop-color="#38598c"/><stop offset="1" stop-color="#38598c"/></linearGradient><linearGradient id="a111" x1="0" y1="0" x2="0" y2="1"><stop offset="0" stop-color="#414487"/><stop offset="0.25" stop-color="#414487"/><stop offset="0.43" stop-color="#3e4c8a"/><stop offset="0.57" stop-color="#38598c"/><stop offset="1" stop-color="#375a8c"/></linearGradient><linearGradient id="a112" x1="0" y1="0" x2="0" y2="1"><stop offset="0" stop-color="#424186"/><stop offset="0.25" stop-color="#414287"/><stop offset="0.43" stop-color="#3e4c8a"/><stop offset="0.57" stop-color="#375a8c"/><stop offset="1" stop-color="#375b8d"/></linearGradient><linearGradient id="a113" x1="0" y1="0" x2="0" y2="1"><stop offset="0" stop-color="#433d84"/><stop offset="0.25" stop-color="#423f85"/><stop offset="0.43" stop-color="#3d4d8a"/><stop offset="0.57" stop-color="#375b8d"/><stop offset="1" stop-color="#365d8d"/></linearGradient><linearGradient id="a114" x1="0" y1="0" x2="0" y2="1"><stop offset="0" stop-color="#463480"/><stop offset="0.25" stop-color="#453882"/><stop offset="0.43" stop-color="#3d4e8a"/><stop offset="0.57" stop-color="#365d8d"/><stop offset="0.78" stop-color="#34618d"/><stop offset="1" stop-color="#34608d"/></linearGradient><linearGradient id="a115" x1="0" y1="0" x2="0" y2="1"><stop offset="0" stop-color="#472e7c"/><stop offset="0.25" stop-color="#46337f"/><stop offset="0.43" stop-color="#3c4f8a"/><stop offset="0.57" stop-color="#34608d"/><stop offset="0.78" stop-color="#32658e"/><stop offset="1" stop-color="#33638d"/></linearGradient><linearGradient id="a116" x1="0" y1="0" x2="0" y2="1"><stop offset="0" stop-color="#472a7a"/><stop offset="0.25" stop-color="#46307e"/><stop offset="0.43" stop-color="#3b518b"/><stop offset="0.57" stop-color="#33638d"/><stop offset="0.78" stop-color="#31688e"/><stop offset="1" stop-color="#32658e"/></linearGradient><linearGradient id="a117" x1="0" y1="0" x2="0" y2="1"><stop offset="0" stop-color="#472c7a"/><stop offset="0.25" stop-color="#46327e"/><stop offset="0.43" stop-color="#3a548c"/><stop offset="0.57" stop-color="#31678e"/><stop offset="0.78" stop-color="#2f6c8e"/><stop offset="1" stop-color="#31678e"/></linearGradient><linearGradient id="a118" x1="0" y1="0" x2="0" y2="1"><stop offset="0" stop-color="#46307e"/><stop offset="0.25" stop-color="#453781"/><stop offset="0.43" stop-color="#38588c"/><stop offset="0.57" stop-color="#2f6b8e"/><stop offset="0.78" stop-color="#2e6f8e"/><stop offset="1" stop-color="#30698e"/></linearGradient><linearGradient id="a119" x1="0" y1="0" x2="0" y2="1"><stop offset="0" stop-color="#443983"/><stop offset="0.25" stop-color="#423f85"/><stop offset="0.43" stop-color="#365d8d"/><stop offset="0.57" stop-color="#2d718e"/><stop offset="0.78" stop-color="#2d718e"/><stop offset="1" stop-color="#2f6b8e"/></linearGradient><linearGradient id="a120" x1="0" y1="0" x2="0" y2="1"><stop offset="0" stop-color="#404588"/><stop offset="0.25" stop-color="#3e4989"/><stop offset="0.43" stop-color="#32648e"/><stop offset="0.57" stop-color="#2b748e"/><stop offset="1" stop-color="#2f6b8e"/></linearGradient><linearGradient id="a121" x1="0" y1="0" x2="0" y2="1"><stop offset="0" stop-color="#3b528b"/><stop offset="0.25" stop-color="#39568c"/><stop offset="0.43" stop-color="#2f6c8e"/><stop offset="0.57" stop-color="#2a788e"/><stop offset="1" stop-color="#306a8e"/></linearGradient><linearGradient id="a122" x1="0" y1="0" x2="0" y2="1"><stop offset="0" stop-color="#34608d"/><stop offset="0.25" stop-color="#33638d"/><stop offset="0.43" stop-color="#2c718e"/><stop offset="0.5" stop-color="#2a788e"/><stop offset="1" stop-color="#31678e"/></linearGradient><linearGradient id="a123" x1="0" y1="0" x2="0" y2="1"><stop offset="0" stop-color="#2e6e8e"/><stop offset="0.25" stop-color="#2d708e"/><stop offset="0.43" stop-color="#2b758e"/><stop offset="0.57" stop-color="#2b758e"/><stop offset="0.78" stop-color="#30698e"/><stop offset="1" stop-color="#33638d"/></linearGradient><linearGradient id="a124" x1="0" y1="0" x2="0" y2="1"><stop offset="0" stop-color="#297a8e"/><stop offset="0.5" stop-color="#2c738e"/><stop offset="0.75" stop-color="#32658e"/><stop offset="1" stop-color="#355f8d"/></linearGradient><linearGradient id="a125" x1="0" y1="0" x2="0" y2="1"><stop offset="0" stop-color="#26828e"/><stop offset="0.25" stop-color="#287c8e"/><stop offset="0.62" stop-color="#32648e"/><stop offset="0.81" stop-color="#365d8d"/><stop offset="1" stop-color="#375b8d"/></linearGradient><linearGradient id="a126" x1="0" y1="0" x2="0" y2="1"><stop offset="0" stop-color="#26828e"/><stop offset="0.25" stop-color="#297a8e"/><stop offset="0.43" stop-color="#31678e"/><stop offset="0.71" stop-color="#38588c"/><stop offset="1" stop-color="#39558c"/></linearGradient><linearGradient id="a127" x1="0" y1="0" x2="0" y2="1"><stop offset="0" stop-color="#287d8e"/><stop offset="0.25" stop-color="#2c738e"/><stop offset="0.43" stop-color="#355e8d"/><stop offset="0.57" stop-color="#3a538b"/><stop offset="0.78" stop-color="#3c4f8a"/><stop offset="1" stop-color="#3c508b"/></linearGradient><linearGradient id="a128" x1="0" y1="0" x2="0" y2="1"><stop offset="0" stop-color="#2b758e"/><stop offset="0.25" stop-color="#2f6c8e"/><stop offset="0.34" stop-color="#33638d"/><stop offset="0.5" stop-color="#3e4c8a"/><stop offset="0.62" stop-color="#3f4788"/><stop offset="1" stop-color="#3e4a89"/></linearGradient><linearGradient id="a129" x1="0" y1="0" x2="0" y2="1"><stop offset="0" stop-color="#2e6d8e"/><stop offset="0.25" stop-color="#32658e"/><stop offset="0.34" stop-color="#365d8d"/><stop offset="0.42" stop-color="#3c508b"/><stop offset="0.49" stop-color="#414287"/><stop offset="0.61" stop-color="#433e85"/><stop offset="1" stop-color="#404588"/></linearGradient><linearGradient id="a130" x1="0" y1="0" x2="0" y2="1"><stop offset="0" stop-color="#31668e"/><stop offset="0.25" stop-color="#34608d"/><stop offset="0.34" stop-color="#38598c"/><stop offset="0.41" stop-color="#3d4d8a"/><stop offset="0.48" stop-color="#443b84"/><stop offset="0.54" stop-color="#453781"/><stop offset="0.77" stop-color="#453882"/><stop offset="1" stop-color="#423f85"/></linearGradient><linearGradient id="a131" x1="0" y1="0" x2="0" y2="1"><stop offset="0" stop-color="#34618d"/><stop offset="0.25" stop-color="#365c8d"/><stop offset="0.34" stop-color="#39558c"/><stop offset="0.4" stop-color="#3d4d8a"/><stop offset="0.47" stop-color="#443a83"/><stop offset="0.52" stop-color="#46337f"/><stop offset="0.76" stop-color="#463480"/><stop offset="1" stop-color="#443b84"/></linearGradient><linearGradient id="a132" x1="0" y1="0" x2="0" y2="1"><stop offset="0" stop-color="#355e8d"/><stop offset="0.25" stop-color="#375a8c"/><stop offset="0.34" stop-color="#3a548c"/><stop offset="0.4" stop-color="#3e4a89"/><stop offset="0.47" stop-color="#443a83"/><stop offset="0.52" stop-color="#46337f"/><stop offset="1" stop-color="#443a83"/></linearGradient><linearGradient id="a133" x1="0" y1="0" x2="0" y2="1"><stop offset="0" stop-color="#375b8d"/><stop offset="0.25" stop-color="#38588c"/><stop offset="0.34" stop-color="#3b528b"/><stop offset="0.4" stop-color="#3e4a89"/><stop offset="0.47" stop-color="#433d84"/><stop offset="0.52" stop-color="#453781"/><stop offset="1" stop-color="#443b84"/></linearGradient><linearGradient id="a134" x1="0" y1="0" x2="0" y2="1"><stop offset="0" stop-color="#375a8c"/><stop offset="0.25" stop-color="#39568c"/><stop offset="0.34" stop-color="#3b528b"/><stop offset="0.5" stop-color="#443b84"/><stop offset="1" stop-color="#423f85"/></linearGradient><linearGradient id="a135" x1="0" y1="0" x2="0" y2="1"><stop offset="0" stop-color="#38598c"/><stop offset="0.25" stop-color="#39568c"/><stop offset="0.34" stop-color="#3b518b"/><stop offset="0.5" stop-color="#424086"/><stop offset="1" stop-color="#414287"/></linearGradient><linearGradient id="a136" x1="0" y1="0" x2="0" y2="1"><stop offset="0" stop-color="#38588c"/><stop offset="0.25" stop-color="#39558c"/><stop offset="0.43" stop-color="#3e4989"/><stop offset="0.57" stop-color="#404588"/><stop offset="1" stop-color="#404588"/></linearGradient><linearGradient id="a137" x1="0" y1="0" x2="0" y2="1"><stop offset="0" stop-color="#39568c"/><stop offset="0.25" stop-color="#3a548c"/><stop offset="0.43" stop-color="#3e4989"/><stop offset="1" stop-color="#3f4788"/></linearGradient><linearGradient id="a138" x1="0" y1="0" x2="0" y2="1"><stop offset="0" stop-color="#39568c"/><stop offset="0.25" stop-color="#3a548c"/><stop offset="0.43" stop-color="#3e4a89"/><stop offset="1" stop-color="#3f4889"/></linearGradient><linearGradient id="a139" x1="0" y1="0" x2="0" y2="1"><stop offset="0" stop-color="#39558c"/><stop offset="0.25" stop-color="#3a538b"/><stop offset="0.43" stop-color="#3e4a89"/><stop offset="1" stop-color="#3f4889"/></linearGradient><linearGradient id="a140" x1="0" y1="0" x2="0" y2="1"><stop offset="0" stop-color="#3a548c"/><stop offset="0.25" stop-color="#3a538b"/><stop offset="0.43" stop-color="#3e4a89"/><stop offset="1" stop-color="#3f4889"/></linearGradient><linearGradient id="a141" x1="0" y1="0" x2="0" y2="1"><stop offset="0" stop-color="#3a538b"/><stop offset="0.25" stop-color="#3b528b"/><stop offset="0.43" stop-color="#3e4a89"/><stop offset="1" stop-color="#3f4889"/></linearGradient><linearGradient id="a142" x1="0" y1="0" x2="0" y2="1"><stop offset="0" stop-color="#3b528b"/><stop offset="0.25" stop-color="#3b518b"/><stop offset="0.62" stop-color="#3f4889"/><stop offset="1" stop-color="#3f4889"/></linearGradient><linearGradient id="a143" x1="0" y1="0" x2="0" y2="1"><stop offset="0" stop-color="#3b518b"/><stop offset="0.25" stop-color="#3c508b"/><stop offset="0.62" stop-color="#3f4889"/><stop offset="1" stop-color="#3f4889"/></linearGradient><linearGradient id="a144" x1="0" y1="0" x2="0" y2="1"><stop offset="0" stop-color="#3c4f8a"/><stop offset="0.25" stop-color="#3c4f8a"/><stop offset="0.62" stop-color="#3f4889"/><stop offset="1" stop-color="#3f4889"/></linearGradient><linearGradient id="a145" x1="0" y1="0" x2="0" y2="1"><stop offset="0" stop-color="#3d4e8a"/><stop offset="1" stop-color="#3f4889"/></linearGradient><linearGradient id="a146" x1="0" y1="0" x2="0" y2="1"><stop offset="0" stop-color="#3d4e8a"/><stop offset="1" stop-color="#3f4889"/></linearGradient><linearGradient id="a147" x1="0" y1="0" x2="0" y2="1"><stop offset="0" stop-color="#3d4d8a"/><stop offset="1" stop-color="#3f4889"/></linearGradient><linearGradient id="a148" x1="0" y1="0" x2="0" y2="1"><stop offset="0" stop-color="#3d4d8a"/><stop offset="1" stop-color="#3f4889"/></linearGradient><linearGradient id="a149" x1="0" y1="0" x2="0" y2="1"><stop offset="0" stop-color="#3d4d8a"/><stop offset="1" stop-color="#3f4889"/></linearGradient><linearGradient id="a150" x1="0" y1="0" x2="0" y2="1"><stop offset="0" stop-color="#3d4d8a"/><stop offset="1" stop-color="#3f4889"/></linearGradient><linearGradient id="a151" x1="0" y1="0" x2="0" y2="1"><stop offset="0" stop-color="#3d4d8a"/><stop offset="1" stop-color="#3f4889"/></linearGradient><linearGradient id="a152" x1="0" y1="0" x2="0" y2="1"><stop offset="0" stop-color="#3d4d8a"/><stop offset="1" stop-color="#3f4889"/></linearGradient><linearGradient id="a153" x1="0" y1="0" x2="0" y2="1"><stop offset="0" stop-color="#3d4d8a"/><stop offset="1" stop-color="#3f4889"/></linearGradient><linearGradient id="a154" x1="0" y1="0" x2="0" y2="1"><stop offset="0" stop-color="#3d4d8a"/><stop offset="1" stop-color="#3f4889"/></linearGradient><linearGradient id="a155" x1="0" y1="0" x2="0" y2="1"><stop offset="0" stop-color="#3d4d8a"/><stop offset="1" stop-color="#3f4889"/></linearGradient><linearGradient id="a156" x1="0" y1="0" x2="0" y2="1"><stop offset="0" stop-color="#3d4d8a"/><stop offset="1" stop-color="#3f4889"/></linearGradient></defs>
<g shape-rendering="crispEdges"><rect x="113.20" y="41.50" width="8.60" height="400.60" fill="url(#a0)"/><rect x="121.20" y="41.50" width="8.60" height="400.60" fill="url(#a1)"/><rect x="129.20" y="41.50" width="8.60" height="400.60" fill="url(#a2)"/><rect x="137.20" y="41.50" width="8.60" height="400.60" fill="url(#a3)"/><rect x="145.20" y="41.50" width="8.60" height="400.60" fill="url(#a4)"/><rect x="153.20" y="41.50" width="8.60" height="400.60" fill="url(#a5)"/><rect x="161.20" y="41.50" width="8.60" height="400.60" fill="url(#a6)"/><rect x="169.20" y="41.50" width="8.60" height="400.60" fill="url(#a7)"/><rect x="177.20" y="41.50" width="8.60" height="400.60" fill="url(#a8)"/><rect x="185.20" y="41.50" width="8.60" height="400.60" fill="url(#a9)"/><rect x="193.20" y="41.50" width="4.60" height="400.60" fill="url(#a10)"/><rect x="197.20" y="41.50" width="4.60" height="400.60" fill="url(#a11)"/><rect x="201.20" y="41.50" width="4.60" height="400.60" fill="url(#a12)"/><rect x="205.20" y="41.50" width="4.60" height="400.60" fill="url(#a13)"/><rect x="209.20" y="41.50" width="2.60" height="400.60" fill="url(#a14)"/><rect x="211.20" y="41.50" width="2.60" height="400.60" fill="url(#a15)"/><rect x="213.20" y="41.50" width="2.60" height="400.60" fill="url(#a16)"/><rect x="215.20" y="41.50" width="2.60" height="400.60" fill="url(#a17)"/><rect x="217.20" y="41.50" width="2.60" height="400.60" fill="url(#a18)"/><rect x="219.20" y="41.50" width="2.60" height="400.60" fill="url(#a19)"/><rect x="221.20" y="41.50" width="1.60" height="400.60" fill="url(#a20)"/><rect x="222.20" y="41.50" width="1.60" height="400.60" fill="url(#a21)"/><rect x="223.20" y="41.50" width="1.60" height="400.60" fill="url(#a22)"/><rect x="224.20" y="41.50" width="1.60" height="400.60" fill="url(#a23)"/><rect x="225.20" y="41.50" width="1.60" height="400.60" fill="url(#a24)"/><rect x="226.20" y="41.50" width="1.60" height="400.60" fill="url(#a25)"/><rect x="227.20" y="41.50" width="1.60" height="400.60" fill="url(#a26)"/><rect x="228.20" y="41.50" width="1.60" height="400.60" fill="url(#a27)"/><rect x="229.20" y="41.50" width="1.60" height="400.60" fill="url(#a28)"/><rect x="230.20" y="41.50" width="1.60" height="400.60" fill="url(#a29)"/><rect x="231.20" y="41.50" width="1.60" height="400.60" fill="url(#a30)"/><rect x="232.20" y="41.50" width="1.60" height="400.60" fill="url(#a31)"/><rect x="233.20" y="41.50" width="1.60" height="400.60" fill="url(#a32)"/><rect x="234.20" y="41.50" width="1.60" height="400.60" fill="url(#a33)"/><rect x="235.20" y="41.50" width="1.60" height="400.60" fill="url(#a34)"/><rect x="236.20" y="41.50" width="1.60" height="400.60" fill="url(#a35)"/><rect x="237.20" y="41.50" width="1.60" height="400.60" fill="url(#a36)"/><rect x="238.20" y="41.50" width="1.60" height="400.60" fill="url(#a37)"/><rect x="239.20" y="41.50" width="1.60" height="400.60" fill="url(#a38)"/><rect x="240.20" y="41.50" width="1.60" height="400.60" fill="url(#a39)"/><rect x="241.20" y="41.50" width="1.60" height="400.60" fill="url(#a40)"/><rect x="242.20" y="41.50" width="1.60" height="400.60" fill="url(#a41)"/><rect x="243.20" y="41.50" width="2.60" height="400.60" fill="url(#a42)"/><rect x="245.20" y="41.50" width="2.60" height="400.60" fill="url(#a43)"/><rect x="247.20" y="41.50" width="2.60" height="400.60" fill="url(#a44)"/><rect x="249.20" y="41.50" width="2.60" height="400.60" fill="url(#a45)"/><rect x="251.20" y="41.50" width="2.60" height="400.60" fill="url(#a46)"/><rect x="253.20" y="41.50" width="2.60" height="400.60" fill="url(#a47)"/><rect x="255.20" y="41.50" width="2.60" height="400.60" fill="url(#a48)"/><rect x="257.20" y="41.50" width="4.60" height="400.60" fill="url(#a49)"/><rect x="261.20" y="41.50" width="4.60" height="400.60" fill="url(#a50)"/><rect x="265.20" y="41.50" width="4.60" height="400.60" fill="url(#a51)"/><rect x="269.20" y="41.50" width="4.60" height="400.60" fill="url(#a52)"/><rect x="273.20" y="41.50" width="8.60" height="400.60" fill="url(#a53)"/><rect x="281.20" y="41.50" width="8.60" height="400.60" fill="url(#a54)"/><rect x="289.20" y="41.50" width="8.60" height="400.60" fill="url(#a55)"/><rect x="297.20" y="41.50" width="8.60" height="400.60" fill="url(#a56)"/><rect x="305.20" y="41.50" width="8.60" height="400.60" fill="url(#a57)"/><rect x="313.20" y="41.50" width="4.60" height="400.60" fill="url(#a58)"/><rect x="317.20" y="41.50" width="4.60" height="400.60" fill="url(#a59)"/><rect x="321.20" y="41.50" width="4.60" height="400.60" fill="url(#a60)"/><rect x="325.20" y="41.50" width="2.60" height="400.60" fill="url(#a61)"/><rect x="327.20" y="41.50" width="2.60" height="400.60" fill="url(#a62)"/><rect x="329.20" y="41.50" width="2.60" height="400.60" fill="url(#a63)"/><rect x="331.20" y="41.50" width="2.60" height="400.60" fill="url(#a64)"/><rect x="333.20" y="41.50" width="2.60" height="400.60" fill="url(#a65)"/><rect x="335.20" y="41.50" width="2.60" height="400.60" fill="url(#a66)"/><rect x="337.20" y="41.50" width="1.60" height="400.60" fill="url(#a67)"/><rect x="338.20" y="41.50" width="1.60" height="400.60" fill="url(#a68)"/><rect x="339.20" y="41.50" width="1.60" height="400.60" fill="url(#a69)"/><rect x="340.20" y="41.50" width="1.60" height="400.60" fill="url(#a70)"/><rect x="341.20" y="41.50" width="1.60" height="400.60" fill="url(#a71)"/><rect x="342.20" y="41.50" width="1.60" height="400.60" fill="url(#a72)"/><rect x="343.20" y="41.50" width="1.60" height="400.60" fill="url(#a73)"/><rect x="344.20" y="41.50" width="1.60" height="400.60" fill="url(#a74)"/><rect x="345.20" y="41.50" width="1.60" height="400.60" fill="url(#a75)"/><rect x="346.20" y="41.50" width="1.60" height="400.60" fill="url(#a76)"/><rect x="347.20" y="41.50" width="1.60" height="400.60" fill="url(#a77)"/><rect x="348.20" y="41.50" width="1.60" height="400.60" fill="url(#a78)"/><rect x="349.20" y="41.50" width="1.60" height="400.60" fill="url(#a79)"/><rect x="350.20" y="41.50" width="1.60" height="400.60" fill="url(#a80)"/><rect x="351.20" y="41.50" width="1.60" height="400.60" fill="url(#a81)"/><rect x="352.20" y="41.50" width="1.60" height="400.60" fill="url(#a82)"/><rect x="353.20" y="41.50" width="1.60" height="400.60" fill="url(#a83)"/><rect x="354.20" y="41.50" width="1.60" height="400.60" fill="url(#a84)"/><rect x="355.20" y="41.50" width="1.60" height="400.60" fill="url(#a85)"/><rect x="356.20" y="41.50" width="1.60" height="400.60" fill="url(#a86)"/><rect x="357.20" y="41.50" width="1.60" height="400.60" fill="url(#a87)"/><rect x="358.20" y="41.50" width="1.60" height="400.60" fill="url(#a88)"/><rect x="359.20" y="41.50" width="2.60" height="400.60" fill="url(#a89)"/><rect x="361.20" y="41.50" width="2.60" height="400.60" fill="url(#a90)"/><rect x="363.20" y="41.50" width="2.60" height="400.60" fill="url(#a91)"/><rect x="365.20" y="41.50" width="2.60" height="400.60" fill="url(#a92)"/><rect x="367.20" y="41.50" width="2.60" height="400.60" fill="url(#a93)"/><rect x="369.20" y="41.50" width="2.60" height="400.60" fill="url(#a94)"/><rect x="371.20" y="41.50" width="2.60" height="400.60" fill="url(#a95)"/><rect x="373.20" y="41.50" width="4.60" height="400.60" fill="url(#a96)"/><rect x="377.20" y="41.50" width="4.60" height="400.60" fill="url(#a97)"/><rect x="381.20" y="41.50" width="4.60" height="400.60" fill="url(#a98)"/><rect x="385.20" y="41.50" width="4.60" height="400.60" fill="url(#a99)"/><rect x="389.20" y="41.50" width="8.60" height="400.60" fill="url(#a100)"/><rect x="397.20" y="41.50" width="8.60" height="400.60" fill="url(#a101)"/><rect x="405.20" y="41.50" width="8.60" height="400.60" fill="url(#a102)"/><rect x="413.20" y="41.50" width="8.60" height="400.60" fill="url(#a103)"/><rect x="421.20" y="41.50" width="8.60" height="400.60" fill="url(#a104)"/><rect x="429.20" y="41.50" width="4.60" height="400.60" fill="url(#a105)"/><rect x="433.20" y="41.50" width="4.60" height="400.60" fill="url(#a106)"/><rect x="437.20" y="41.50" width="4.60" height="400.60" fill="url(#a107)"/><rect x="441.20" y="41.50" width="2.60" height="400.60" fill="url(#a108)"/><rect x="443.20" y="41.50" width="2.60" height="400.60" fill="url(#a109)"/><rect x="445.20" y="41.50" width="2.60" height="400.60" fill="url(#a110)"/><rect x="447.20" y="41.50" width="2.60" height="400.60" fill="url(#a111)"/><rect x="449.20" y="41.50" width="2.60" height="400.60" fill="url(#a112)"/><rect x="451.20" y="41.50" width="2.60" height="400.60" fill="url(#a113)"/><rect x="453.20" y="41.50" width="2.60" height="400.60" fill="url(#a114)"/><rect x="455.20" y="41.50" width="1.60" height="400.60" fill="url(#a115)"/><rect x="456.20" y="41.50" width="1.60" height="400.60" fill="url(#a116)"/><rect x="457.20" y="41.50" width="1.60" height="400.60" fill="url(#a117)"/><rect x="458.20" y="41.50" width="1.60" height="400.60" fill="url(#a118)"/><rect x="459.20" y="41.50" width="1.60" height="400.60" fill="url(#a119)"/><rect x="460.20" y="41.50" width="1.60" height="400.60" fill="url(#a120)"/><rect x="461.20" y="41.50" width="1.60" height="400.60" fill="url(#a121)"/><rect x="462.20" y="41.50" width="1.60" height="400.60" fill="url(#a122)"/><rect x="463.20" y="41.50" width="1.60" height="400.60" fill="url(#a123)"/><rect x="464.20" y="41.50" width="1.60" height="400.60" fill="url(#a124)"/><rect x="465.20" y="41.50" width="1.60" height="400.60" fill="url(#a125)"/><rect x="466.20" y="41.50" width="1.60" height="400.60" fill="url(#a126)"/><rect x="467.20" y="41.50" width="1.60" height="400.60" fill="url(#a127)"/><rect x="468.20" y="41.50" width="1.60" height="400.60" fill="url(#a128)"/><rect x="469.20" y="41.50" width="1.60" height="400.60" fill="url(#a129)"/><rect x="470.20" y="41.50" width="1.60" height="400.60" fill="url(#a130)"/><rect x="471.20" y="41.50" width="1.60" height="400.60" fill="url(#a131)"/><rect x="472.20" y="41.50" width="1.60" height="400.60" fill="url(#a132)"/><rect x="473.20" y="41.50" width="1.60" height="400.60" fill="url(#a133)"/><rect x="474.20" y="41.50" width="1.60" height="400.60" fill="url(#a134)"/><rect x="475.20" y="41.50" width="1.60" height="400.60" fill="url(#a135)"/><rect x="476.20" y="41.50" width="2.60" height="400.60" fill="url(#a136)"/><rect x="478.20" y="41.50" width="2.60" height="400.60" fill="url(#a137)"/><rect x="480.20" y="41.50" width="2.60" height="400.60" fill="url(#a138)"/><rect x="482.20" y="41.50" width="2.60" height="400.60" fill="url(#a139)"/><rect x="484.20" y="41.50" width="2.60" height="400.60" fill="url(#a140)"/><rect x="486.20" y="41.50" width="2.60" height="400.60" fill="url(#a141)"/><rect x="488.20" y="41.50" width="2.60" height="400.60" fill="url(#a142)"/><rect x="490.20" y="41.50" width="4.60" height="400.60" fill="url(#a143)"/><rect x="494.20" y="41.50" width="4.60" height="400.60" fill="url(#a144)"/><rect x="498.20" y="41.50" width="4.60" height="400.60" fill="url(#a145)"/><rect x="502.20" y="41.50" width="4.60" height="400.60" fill="url(#a146)"/><rect x="506.20" y="41.50" width="8.60" height="400.60" fill="url(#a147)"/><rect x="514.20" y="41.50" width="8.60" height="400.60" fill="url(#a148)"/><rect x="522.20" y="41.50" width="8.60" height="400.60" fill="url(#a149)"/><rect x="530.20" y="41.50" width="8.60" height="400.60" fill="url(#a150)"/><rect x="538.20" y="41.50" width="8.60" height="400.60" fill="url(#a151)"/><rect x="546.20" y="41.50" width="8.60" height="400.60" fill="url(#a152)"/><rect x="554.20" y="41.50" width="8.60" height="400.60" fill="url(#a153)"/><rect x="562.20" y="41.50" width="8.60" height="400.60" fill="url(#a154)"/><rect x="570.20" y="41.50" width="8.60" height="400.60" fill="url(#a155)"/><rect x="578.20" y="41.50" width="4.10" height="400.60" fill="url(#a156)"/></g>
<!-- heat map p2 -->
<defs><linearGradient id="b0" x1="0" y1="0" x2="0" y2="1"><stop offset="0" stop-color="#3e4989"/><stop offset="1" stop-color="#3e4a89"/></linearGradient><linearGradient id="b1" x1="0" y1="0" x2="0" y2="1"><stop offset="0" stop-color="#3e4989"/><stop offset="1" stop-color="#3e4a89"/></linearGradient><linearGradient id="b2" x1="0" y1="0" x2="0" y2="1"><stop offset="0" stop-color="#3e4989"/><stop offset="1" stop-color="#3e4a89"/></linearGradient><linearGradient id="b3" x1="0" y1="0" x2="0" y2="1"><stop offset="0" stop-color="#3e4989"/><stop offset="1" stop-color="#3e4a89"/></linearGradient><linearGradient id="b4" x1="0" y1="0" x2="0" y2="1"><stop offset="0" stop-color="#3e4989"/><stop offset="1" stop-color="#3e4a89"/></linearGradient><linearGradient id="b5" x1="0" y1="0" x2="0" y2="1"><stop offset="0" stop-color="#3e4989"/><stop offset="1" stop-color="#3e4a89"/></linearGradient><linearGradient id="b6" x1="0" y1="0" x2="0" y2="1"><stop offset="0" stop-color="#3e4989"/><stop offset="1" stop-color="#3e4a89"/></linearGradient><linearGradient id="b7" x1="0" y1="0" x2="0" y2="1"><stop offset="0" stop-color="#3e4989"/><stop offset="1" stop-color="#3e4a89"/></linearGradient><linearGradient id="b8" x1="0" y1="0" x2="0" y2="1"><stop offset="0" stop-color="#3e4989"/><stop offset="1" stop-color="#3e4c8a"/></linearGradient><linearGradient id="b9" x1="0" y1="0" x2="0" y2="1"><stop offset="0" stop-color="#3e4989"/><stop offset="1" stop-color="#3d4d8a"/></linearGradient><linearGradient id="b10" x1="0" y1="0" x2="0" y2="1"><stop offset="0" stop-color="#3e4989"/><stop offset="1" stop-color="#3d4e8a"/></linearGradient><linearGradient id="b11" x1="0" y1="0" x2="0" y2="1"><stop offset="0" stop-color="#3e4989"/><stop offset="1" stop-color="#3d4e8a"/></linearGradient><linearGradient id="b12" x1="0" y1="0" x2="0" y2="1"><stop offset="0" stop-color="#3e4a89"/><stop offset="1" stop-color="#3c4f8a"/></linearGradient><linearGradient id="b13" x1="0" y1="0" x2="0" y2="1"><stop offset="0" stop-color="#3e4a89"/><stop offset="1" stop-color="#3c508b"/></linearGradient><linearGradient id="b14" x1="0" y1="0" x2="0" y2="1"><stop offset="0" stop-color="#3e4a89"/><stop offset="1" stop-color="#3c508b"/></linearGradient><linearGradient id="b15" x1="0" y1="0" x2="0" y2="1"><stop offset="0" stop-color="#3e4c8a"/><stop offset="0.5" stop-color="#3e4a89"/><stop offset="0.75" stop-color="#3c508b"/><stop offset="1" stop-color="#3c508b"/></linearGradient><linearGradient id="b16" x1="0" y1="0" x2="0" y2="1"><stop offset="0" stop-color="#3d4d8a"/><stop offset="0.5" stop-color="#3e4a89"/><stop offset="0.75" stop-color="#3c508b"/><stop offset="1" stop-color="#3b518b"/></linearGradient><linearGradient id="b17" x1="0" y1="0" x2="0" y2="1"><stop offset="0" stop-color="#3d4e8a"/><stop offset="0.5" stop-color="#3e4c8a"/><stop offset="1" stop-color="#3b528b"/></linearGradient><linearGradient id="b18" x1="0" y1="0" x2="0" y2="1"><stop offset="0" stop-color="#3c4f8a"/><stop offset="0.5" stop-color="#3e4c8a"/><stop offset="0.75" stop-color="#3b528b"/><stop offset="1" stop-color="#3a538b"/></linearGradient><linearGradient id="b19" x1="0" y1="0" x2="0" y2="1"><stop offset="0" stop-color="#3c4f8a"/><stop offset="0.5" stop-color="#3d4d8a"/><stop offset="0.75" stop-color="#3a548c"/><stop offset="1" stop-color="#39558c"/></linearGradient><linearGradient id="b20" x1="0" y1="0" x2="0" y2="1"><stop offset="0" stop-color="#3e4989"/><stop offset="0.25" stop-color="#3e4989"/><stop offset="0.34" stop-color="#3c4f8a"/><stop offset="0.5" stop-color="#3d4e8a"/><stop offset="0.75" stop-color="#38588c"/><stop offset="1" stop-color="#38598c"/></linearGradient><linearGradient id="b21" x1="0" y1="0" x2="0" y2="1"><stop offset="0" stop-color="#423f85"/><stop offset="0.12" stop-color="#423f85"/><stop offset="0.23" stop-color="#414487"/><stop offset="0.32" stop-color="#3d4e8a"/><stop offset="0.4" stop-color="#3b528b"/><stop offset="0.55" stop-color="#3b518b"/><stop offset="0.77" stop-color="#365d8d"/><stop offset="1" stop-color="#365c8d"/></linearGradient><linearGradient id="b22" x1="0" y1="0" x2="0" y2="1"><stop offset="0" stop-color="#472e7c"/><stop offset="0.12" stop-color="#46307e"/><stop offset="0.23" stop-color="#443b84"/><stop offset="0.27" stop-color="#423f85"/><stop offset="0.36" stop-color="#39568c"/><stop offset="0.52" stop-color="#3a538b"/><stop offset="0.76" stop-color="#33628d"/><stop offset="0.88" stop-color="#32648e"/><stop offset="1" stop-color="#355e8d"/></linearGradient><linearGradient id="b23" x1="0" y1="0" x2="0" y2="1"><stop offset="0" stop-color="#472a7a"/><stop offset="0.12" stop-color="#472f7d"/><stop offset="0.17" stop-color="#46337f"/><stop offset="0.27" stop-color="#424186"/><stop offset="0.36" stop-color="#365c8d"/><stop offset="0.52" stop-color="#38598c"/><stop offset="0.64" stop-color="#34608d"/><stop offset="0.82" stop-color="#2f6b8e"/><stop offset="1" stop-color="#34618d"/></linearGradient><linearGradient id="b24" x1="0" y1="0" x2="0" y2="1"><stop offset="0" stop-color="#414287"/><stop offset="0.12" stop-color="#404588"/><stop offset="0.23" stop-color="#3d4e8a"/><stop offset="0.27" stop-color="#3b518b"/><stop offset="0.31" stop-color="#375b8d"/><stop offset="0.36" stop-color="#32648e"/><stop offset="0.52" stop-color="#34608d"/><stop offset="0.58" stop-color="#33628d"/><stop offset="0.68" stop-color="#2e6d8e"/><stop offset="0.76" stop-color="#2c728e"/><stop offset="0.88" stop-color="#2e6e8e"/><stop offset="1" stop-color="#33638d"/></linearGradient><linearGradient id="b25" x1="0" y1="0" x2="0" y2="1"><stop offset="0" stop-color="#33638d"/><stop offset="0.12" stop-color="#33628d"/><stop offset="0.23" stop-color="#31678e"/><stop offset="0.32" stop-color="#2e6e8e"/><stop offset="0.4" stop-color="#2e6f8e"/><stop offset="0.55" stop-color="#2e6d8e"/><stop offset="0.6" stop-color="#2e6e8e"/><stop offset="0.7" stop-color="#297a8e"/><stop offset="0.77" stop-color="#297b8e"/><stop offset="1" stop-color="#32648e"/></linearGradient><linearGradient id="b26" x1="0" y1="0" x2="0" y2="1"><stop offset="0" stop-color="#297b8e"/><stop offset="0.25" stop-color="#27808e"/><stop offset="0.43" stop-color="#277f8e"/><stop offset="0.57" stop-color="#287d8e"/><stop offset="0.67" stop-color="#25858e"/><stop offset="0.75" stop-color="#25848e"/><stop offset="1" stop-color="#32648e"/></linearGradient><linearGradient id="b27" x1="0" y1="0" x2="0" y2="1"><stop offset="0" stop-color="#218e8d"/><stop offset="0.12" stop-color="#218f8d"/><stop offset="0.23" stop-color="#1f958b"/><stop offset="0.61" stop-color="#21908d"/><stop offset="0.7" stop-color="#218e8d"/><stop offset="0.85" stop-color="#2b758e"/><stop offset="1" stop-color="#33628d"/></linearGradient><linearGradient id="b28" x1="0" y1="0" x2="0" y2="1"><stop offset="0" stop-color="#1e9c89"/><stop offset="0.12" stop-color="#1fa088"/><stop offset="0.23" stop-color="#24aa83"/><stop offset="0.42" stop-color="#22a785"/><stop offset="0.56" stop-color="#1fa088"/><stop offset="0.67" stop-color="#20938c"/><stop offset="0.83" stop-color="#2b748e"/><stop offset="1" stop-color="#355e8d"/></linearGradient><linearGradient id="b29" x1="0" y1="0" x2="0" y2="1"><stop offset="0" stop-color="#21a585"/><stop offset="0.12" stop-color="#25ab82"/><stop offset="0.23" stop-color="#2fb47c"/><stop offset="0.32" stop-color="#2fb47c"/><stop offset="0.49" stop-color="#28ae80"/><stop offset="0.61" stop-color="#1f9a8a"/><stop offset="0.8" stop-color="#2c728e"/><stop offset="0.9" stop-color="#33638d"/><stop offset="1" stop-color="#375a8c"/></linearGradient><linearGradient id="b30" x1="0" y1="0" x2="0" y2="1"><stop offset="0" stop-color="#22a785"/><stop offset="0.25" stop-color="#2cb17e"/><stop offset="0.43" stop-color="#25ac82"/><stop offset="0.5" stop-color="#22a884"/><stop offset="0.56" stop-color="#1f998a"/><stop offset="0.67" stop-color="#277f8e"/><stop offset="0.83" stop-color="#32648e"/><stop offset="1" stop-color="#3a548c"/></linearGradient><linearGradient id="b31" x1="0" y1="0" x2="0" y2="1"><stop offset="0" stop-color="#20a386"/><stop offset="0.12" stop-color="#22a785"/><stop offset="0.34" stop-color="#1f9f88"/><stop offset="0.5" stop-color="#1f958b"/><stop offset="0.62" stop-color="#2a778e"/><stop offset="0.81" stop-color="#365c8d"/><stop offset="1" stop-color="#3c4f8a"/></linearGradient><linearGradient id="b32" x1="0" y1="0" x2="0" y2="1"><stop offset="0" stop-color="#1e9b8a"/><stop offset="0.12" stop-color="#1e9c89"/><stop offset="0.23" stop-color="#20928c"/><stop offset="0.42" stop-color="#25858e"/><stop offset="0.49" stop-color="#26818e"/><stop offset="0.61" stop-color="#31668e"/><stop offset="0.8" stop-color="#3b528b"/><stop offset="1" stop-color="#3f4889"/></linearGradient><linearGradient id="b33" x1="0" y1="0" x2="0" y2="1"><stop offset="0" stop-color="#21908d"/><stop offset="0.12" stop-color="#218e8d"/><stop offset="0.23" stop-color="#26818e"/><stop offset="0.42" stop-color="#2c738e"/><stop offset="0.49" stop-color="#2e6f8e"/><stop offset="0.61" stop-color="#39558c"/><stop offset="0.8" stop-color="#3f4889"/><stop offset="1" stop-color="#424186"/></linearGradient><linearGradient id="b34" x1="0" y1="0" x2="0" y2="1"><stop offset="0" stop-color="#25848e"/><stop offset="0.12" stop-color="#26818e"/><stop offset="0.23" stop-color="#2c738e"/><stop offset="0.42" stop-color="#31678e"/><stop offset="0.49" stop-color="#34618d"/><stop offset="0.61" stop-color="#3f4889"/><stop offset="1" stop-color="#443a83"/></linearGradient><linearGradient id="b35" x1="0" y1="0" x2="0" y2="1"><stop offset="0" stop-color="#297a8e"/><stop offset="0.12" stop-color="#2a768e"/><stop offset="0.23" stop-color="#2f6b8e"/><stop offset="0.42" stop-color="#355e8d"/><stop offset="0.49" stop-color="#38588c"/><stop offset="0.61" stop-color="#424186"/><stop offset="1" stop-color="#453581"/></linearGradient><linearGradient id="b36" x1="0" y1="0" x2="0" y2="1"><stop offset="0" stop-color="#2c728e"/><stop offset="0.12" stop-color="#2e6e8e"/><stop offset="0.34" stop-color="#355e8d"/><stop offset="0.5" stop-color="#3b518b"/><stop offset="0.62" stop-color="#423f85"/><stop offset="1" stop-color="#46337f"/></linearGradient><linearGradient id="b37" x1="0" y1="0" x2="0" y2="1"><stop offset="0" stop-color="#2f6c8e"/><stop offset="0.25" stop-color="#355f8d"/><stop offset="0.43" stop-color="#3a538b"/><stop offset="0.57" stop-color="#404588"/><stop offset="0.67" stop-color="#423f85"/><stop offset="1" stop-color="#453581"/></linearGradient><linearGradient id="b38" x1="0" y1="0" x2="0" y2="1"><stop offset="0" stop-color="#31688e"/><stop offset="0.25" stop-color="#365c8d"/><stop offset="0.62" stop-color="#414287"/><stop offset="1" stop-color="#443983"/></linearGradient><linearGradient id="b39" x1="0" y1="0" x2="0" y2="1"><stop offset="0" stop-color="#32648e"/><stop offset="0.25" stop-color="#375b8d"/><stop offset="0.62" stop-color="#414487"/><stop offset="1" stop-color="#433d84"/></linearGradient><linearGradient id="b40" x1="0" y1="0" x2="0" y2="1"><stop offset="0" stop-color="#33628d"/><stop offset="0.25" stop-color="#375a8c"/><stop offset="0.62" stop-color="#404588"/><stop offset="1" stop-color="#424086"/></linearGradient><linearGradient id="b41" x1="0" y1="0" x2="0" y2="1"><stop offset="0" stop-color="#34618d"/><stop offset="0.25" stop-color="#375a8c"/><stop offset="0.43" stop-color="#3c4f8a"/><stop offset="0.57" stop-color="#404688"/><stop offset="1" stop-color="#414287"/></linearGradient><linearGradient id="b42" x1="0" y1="0" x2="0" y2="1"><stop offset="0" stop-color="#355e8d"/><stop offset="0.25" stop-color="#38598c"/><stop offset="0.43" stop-color="#3d4e8a"/><stop offset="0.57" stop-color="#404688"/><stop offset="1" stop-color="#404588"/></linearGradient><linearGradient id="b43" x1="0" y1="0" x2="0" y2="1"><stop offset="0" stop-color="#375b8d"/><stop offset="0.25" stop-color="#39568c"/><stop offset="0.43" stop-color="#3d4d8a"/><stop offset="0.57" stop-color="#404688"/><stop offset="1" stop-color="#404588"/></linearGradient><linearGradient id="b44" x1="0" y1="0" x2="0" y2="1"><stop offset="0" stop-color="#38588c"/><stop offset="0.25" stop-color="#3a548c"/><stop offset="0.43" stop-color="#3e4c8a"/><stop offset="0.57" stop-color="#404688"/><stop offset="1" stop-color="#404588"/></linearGradient><linearGradient id="b45" x1="0" y1="0" x2="0" y2="1"><stop offset="0" stop-color="#39568c"/><stop offset="0.25" stop-color="#3a548c"/><stop offset="0.43" stop-color="#3e4c8a"/><stop offset="0.57" stop-color="#404688"/><stop offset="1" stop-color="#404688"/></linearGradient><linearGradient id="b46" x1="0" y1="0" x2="0" y2="1"><stop offset="0" stop-color="#38598c"/><stop offset="0.25" stop-color="#39558c"/><stop offset="0.43" stop-color="#3d4d8a"/><stop offset="0.57" stop-color="#404688"/><stop offset="1" stop-color="#404688"/></linearGradient><linearGradient id="b47" x1="0" y1="0" x2="0" y2="1"><stop offset="0" stop-color="#375a8c"/><stop offset="0.25" stop-color="#39558c"/><stop offset="0.43" stop-color="#3d4d8a"/><stop offset="0.57" stop-color="#3f4788"/><stop offset="1" stop-color="#3f4788"/></linearGradient><linearGradient id="b48" x1="0" y1="0" x2="0" y2="1"><stop offset="0" stop-color="#38588c"/><stop offset="0.25" stop-color="#3a548c"/><stop offset="0.43" stop-color="#3d4d8a"/><stop offset="0.57" stop-color="#3f4788"/><stop offset="1" stop-color="#3f4788"/></linearGradient><linearGradient id="b49" x1="0" y1="0" x2="0" y2="1"><stop offset="0" stop-color="#3d4e8a"/><stop offset="0.25" stop-color="#3c4f8a"/><stop offset="0.62" stop-color="#404588"/><stop offset="1" stop-color="#404588"/></linearGradient><linearGradient id="b50" x1="0" y1="0" x2="0" y2="1"><stop offset="0" stop-color="#3c4f8a"/><stop offset="0.25" stop-color="#3c4f8a"/><stop offset="0.62" stop-color="#404688"/><stop offset="1" stop-color="#404688"/></linearGradient><linearGradient id="b51" x1="0" y1="0" x2="0" y2="1"><stop offset="0" stop-color="#3a548c"/><stop offset="0.25" stop-color="#3b518b"/><stop offset="0.62" stop-color="#3f4788"/><stop offset="1" stop-color="#3f4788"/></linearGradient><linearGradient id="b52" x1="0" y1="0" x2="0" y2="1"><stop offset="0" stop-color="#3e4989"/><stop offset="0.25" stop-color="#3e4c8a"/><stop offset="0.62" stop-color="#404588"/><stop offset="1" stop-color="#404588"/></linearGradient><linearGradient id="b53" x1="0" y1="0" x2="0" y2="1"><stop offset="0" stop-color="#3b528b"/><stop offset="0.25" stop-color="#3c508b"/><stop offset="0.62" stop-color="#3f4788"/><stop offset="1" stop-color="#3f4788"/></linearGradient><linearGradient id="b54" x1="0" y1="0" x2="0" y2="1"><stop offset="0" stop-color="#3f4788"/><stop offset="0.25" stop-color="#3e4a89"/><stop offset="0.62" stop-color="#404588"/><stop offset="1" stop-color="#404588"/></linearGradient><linearGradient id="b55" x1="0" y1="0" x2="0" y2="1"><stop offset="0" stop-color="#3d4e8a"/><stop offset="0.25" stop-color="#3d4e8a"/><stop offset="0.62" stop-color="#404688"/><stop offset="1" stop-color="#404688"/></linearGradient><linearGradient id="b56" x1="0" y1="0" x2="0" y2="1"><stop offset="0" stop-color="#3b528b"/><stop offset="0.25" stop-color="#3c508b"/><stop offset="0.62" stop-color="#3f4788"/><stop offset="1" stop-color="#3f4788"/></linearGradient><linearGradient id="b57" x1="0" y1="0" x2="0" y2="1"><stop offset="0" stop-color="#3f4889"/><stop offset="0.25" stop-color="#3e4a89"/><stop offset="0.62" stop-color="#404588"/><stop offset="1" stop-color="#404588"/></linearGradient><linearGradient id="b58" x1="0" y1="0" x2="0" y2="1"><stop offset="0" stop-color="#39558c"/><stop offset="0.25" stop-color="#3b518b"/><stop offset="0.62" stop-color="#3f4788"/><stop offset="1" stop-color="#3f4788"/></linearGradient><linearGradient id="b59" x1="0" y1="0" x2="0" y2="1"><stop offset="0" stop-color="#3d4d8a"/><stop offset="0.25" stop-color="#3d4d8a"/><stop offset="0.62" stop-color="#404588"/><stop offset="1" stop-color="#404588"/></linearGradient><linearGradient id="b60" x1="0" y1="0" x2="0" y2="1"><stop offset="0" stop-color="#3a538b"/><stop offset="0.25" stop-color="#3b518b"/><stop offset="0.62" stop-color="#404688"/><stop offset="1" stop-color="#404688"/></linearGradient><linearGradient id="b61" x1="0" y1="0" x2="0" y2="1"><stop offset="0" stop-color="#365c8d"/><stop offset="0.25" stop-color="#39558c"/><stop offset="0.43" stop-color="#3e4c8a"/><stop offset="0.71" stop-color="#3f4788"/><stop offset="1" stop-color="#3f4788"/></linearGradient><linearGradient id="b62" x1="0" y1="0" x2="0" y2="1"><stop offset="0" stop-color="#365d8d"/><stop offset="0.5" stop-color="#3f4889"/><stop offset="1" stop-color="#3f4788"/></linearGradient><linearGradient id="b63" x1="0" y1="0" x2="0" y2="1"><stop offset="0" stop-color="#365d8d"/><stop offset="0.25" stop-color="#3a548c"/><stop offset="0.43" stop-color="#3e4989"/><stop offset="1" stop-color="#404688"/></linearGradient><linearGradient id="b64" x1="0" y1="0" x2="0" y2="1"><stop offset="0" stop-color="#355f8d"/><stop offset="0.25" stop-color="#39558c"/><stop offset="0.43" stop-color="#3e4989"/><stop offset="1" stop-color="#404688"/></linearGradient><linearGradient id="b65" x1="0" y1="0" x2="0" y2="1"><stop offset="0" stop-color="#32658e"/><stop offset="0.5" stop-color="#3f4788"/><stop offset="1" stop-color="#404688"/></linearGradient><linearGradient id="b66" x1="0" y1="0" x2="0" y2="1"><stop offset="0" stop-color="#2e6e8e"/><stop offset="0.25" stop-color="#365d8d"/><stop offset="0.43" stop-color="#3f4889"/><stop offset="0.57" stop-color="#414487"/><stop offset="1" stop-color="#404588"/></linearGradient><linearGradient id="b67" x1="0" y1="0" x2="0" y2="1"><stop offset="0" stop-color="#2b758e"/><stop offset="0.12" stop-color="#30698e"/><stop offset="0.23" stop-color="#33628d"/><stop offset="0.32" stop-color="#38598c"/><stop offset="0.4" stop-color="#3f4889"/><stop offset="0.47" stop-color="#424086"/><stop offset="1" stop-color="#424186"/></linearGradient><linearGradient id="b68" x1="0" y1="0" x2="0" y2="1"><stop offset="0" stop-color="#287c8e"/><stop offset="0.25" stop-color="#32648e"/><stop offset="0.34" stop-color="#39558c"/><stop offset="0.42" stop-color="#424186"/><stop offset="0.48" stop-color="#443983"/><stop offset="1" stop-color="#433d84"/></linearGradient><linearGradient id="b69" x1="0" y1="0" x2="0" y2="1"><stop offset="0" stop-color="#26828e"/><stop offset="0.12" stop-color="#2c738e"/><stop offset="0.23" stop-color="#2f6b8e"/><stop offset="0.32" stop-color="#355e8d"/><stop offset="0.4" stop-color="#414287"/><stop offset="0.47" stop-color="#46307e"/><stop offset="0.73" stop-color="#46327e"/><stop offset="1" stop-color="#463480"/></linearGradient><linearGradient id="b70" x1="0" y1="0" x2="0" y2="1"><stop offset="0" stop-color="#228b8d"/><stop offset="0.12" stop-color="#297a8e"/><stop offset="0.23" stop-color="#2d718e"/><stop offset="0.32" stop-color="#32648e"/><stop offset="0.4" stop-color="#414287"/><stop offset="0.46" stop-color="#472d7b"/><stop offset="0.52" stop-color="#482576"/><stop offset="1" stop-color="#472c7a"/></linearGradient><linearGradient id="b71" x1="0" y1="0" x2="0" y2="1"><stop offset="0" stop-color="#1f948c"/><stop offset="0.12" stop-color="#26828e"/><stop offset="0.23" stop-color="#29798e"/><stop offset="0.32" stop-color="#2f6b8e"/><stop offset="0.4" stop-color="#3e4989"/><stop offset="0.47" stop-color="#472f7d"/><stop offset="0.53" stop-color="#482677"/><stop offset="0.64" stop-color="#481f70"/><stop offset="1" stop-color="#482677"/></linearGradient><linearGradient id="b72" x1="0" y1="0" x2="0" y2="1"><stop offset="0" stop-color="#1f9e89"/><stop offset="0.12" stop-color="#228c8d"/><stop offset="0.23" stop-color="#26828e"/><stop offset="0.32" stop-color="#2b748e"/><stop offset="0.4" stop-color="#39568c"/><stop offset="0.47" stop-color="#433e85"/><stop offset="0.53" stop-color="#46327e"/><stop offset="0.64" stop-color="#482878"/><stop offset="1" stop-color="#46307e"/></linearGradient><linearGradient id="b73" x1="0" y1="0" x2="0" y2="1"><stop offset="0" stop-color="#21a685"/><stop offset="0.12" stop-color="#1f948c"/><stop offset="0.23" stop-color="#238a8d"/><stop offset="0.32" stop-color="#277e8e"/><stop offset="0.49" stop-color="#3f4889"/><stop offset="0.61" stop-color="#423f85"/><stop offset="0.8" stop-color="#424086"/><stop offset="1" stop-color="#3f4788"/></linearGradient><linearGradient id="b74" x1="0" y1="0" x2="0" y2="1"><stop offset="0" stop-color="#26ad81"/><stop offset="0.12" stop-color="#1e9b8a"/><stop offset="0.23" stop-color="#20928c"/><stop offset="0.32" stop-color="#24868e"/><stop offset="0.4" stop-color="#2b758e"/><stop offset="0.47" stop-color="#34608d"/><stop offset="0.51" stop-color="#39558c"/><stop offset="0.75" stop-color="#375b8d"/><stop offset="1" stop-color="#31668e"/></linearGradient><linearGradient id="b75" x1="0" y1="0" x2="0" y2="1"><stop offset="0" stop-color="#29af7f"/><stop offset="0.12" stop-color="#1f9f88"/><stop offset="0.34" stop-color="#24878e"/><stop offset="0.42" stop-color="#277f8e"/><stop offset="0.49" stop-color="#30698e"/><stop offset="0.54" stop-color="#30698e"/><stop offset="0.77" stop-color="#287d8e"/><stop offset="1" stop-color="#218e8d"/></linearGradient><linearGradient id="b76" x1="0" y1="0" x2="0" y2="1"><stop offset="0" stop-color="#28ae80"/><stop offset="0.12" stop-color="#1f9e89"/><stop offset="0.34" stop-color="#23888e"/><stop offset="0.42" stop-color="#23898e"/><stop offset="0.48" stop-color="#277e8e"/><stop offset="0.51" stop-color="#2a788e"/><stop offset="0.63" stop-color="#21908d"/><stop offset="0.72" stop-color="#1fa088"/><stop offset="0.79" stop-color="#25ab82"/><stop offset="1" stop-color="#4ec36b"/></linearGradient><linearGradient id="b77" x1="0" y1="0" x2="0" y2="1"><stop offset="0" stop-color="#23a983"/><stop offset="0.12" stop-color="#1f998a"/><stop offset="0.34" stop-color="#26828e"/><stop offset="0.42" stop-color="#218e8d"/><stop offset="0.48" stop-color="#218e8d"/><stop offset="0.5" stop-color="#23898e"/><stop offset="0.56" stop-color="#1f988b"/><stop offset="0.61" stop-color="#21a685"/><stop offset="0.65" stop-color="#2cb17e"/><stop offset="0.73" stop-color="#52c569"/><stop offset="0.86" stop-color="#a5db36"/><stop offset="0.93" stop-color="#c5e021"/><stop offset="1" stop-color="#e5e419"/></linearGradient><linearGradient id="b78" x1="0" y1="0" x2="0" y2="1"><stop offset="0" stop-color="#1fa188"/><stop offset="0.25" stop-color="#27808e"/><stop offset="0.34" stop-color="#29798e"/><stop offset="0.42" stop-color="#228b8d"/><stop offset="0.49" stop-color="#1f978b"/><stop offset="0.55" stop-color="#20a486"/><stop offset="0.6" stop-color="#2ab07f"/><stop offset="0.65" stop-color="#3bbb75"/><stop offset="0.73" stop-color="#70cf57"/><stop offset="0.79" stop-color="#a0da39"/><stop offset="0.84" stop-color="#c8e020"/><stop offset="0.89" stop-color="#e5e419"/><stop offset="0.94" stop-color="#fbe723"/><stop offset="1" stop-color="#fde725"/></linearGradient><linearGradient id="b79" x1="0" y1="0" x2="0" y2="1"><stop offset="0" stop-color="#1f948c"/><stop offset="0.25" stop-color="#2b748e"/><stop offset="0.34" stop-color="#2d708e"/><stop offset="0.39" stop-color="#2a788e"/><stop offset="0.46" stop-color="#21908d"/><stop offset="0.52" stop-color="#1fa088"/><stop offset="0.64" stop-color="#26ad81"/><stop offset="0.68" stop-color="#2fb47c"/><stop offset="0.76" stop-color="#50c46a"/><stop offset="0.88" stop-color="#8bd646"/><stop offset="1" stop-color="#bade28"/></linearGradient><linearGradient id="b80" x1="0" y1="0" x2="0" y2="1"><stop offset="0" stop-color="#24868e"/><stop offset="0.25" stop-color="#30698e"/><stop offset="0.34" stop-color="#31668e"/><stop offset="0.41" stop-color="#2c738e"/><stop offset="0.48" stop-color="#228c8d"/><stop offset="0.53" stop-color="#1f958b"/><stop offset="0.64" stop-color="#20938c"/><stop offset="0.82" stop-color="#22a785"/><stop offset="1" stop-color="#37b878"/></linearGradient><linearGradient id="b81" x1="0" y1="0" x2="0" y2="1"><stop offset="0" stop-color="#2b758e"/><stop offset="0.25" stop-color="#365d8d"/><stop offset="0.34" stop-color="#365d8d"/><stop offset="0.42" stop-color="#2f6c8e"/><stop offset="0.49" stop-color="#26818e"/><stop offset="0.53" stop-color="#25858e"/><stop offset="0.64" stop-color="#287d8e"/><stop offset="1" stop-color="#218f8d"/></linearGradient><linearGradient id="b82" x1="0" y1="0" x2="0" y2="1"><stop offset="0" stop-color="#365d8d"/><stop offset="0.25" stop-color="#3d4e8a"/><stop offset="0.34" stop-color="#39558c"/><stop offset="0.42" stop-color="#33638d"/><stop offset="0.49" stop-color="#2c738e"/><stop offset="0.55" stop-color="#2b758e"/><stop offset="0.66" stop-color="#2e6d8e"/><stop offset="1" stop-color="#2a768e"/></linearGradient><linearGradient id="b83" x1="0" y1="0" x2="0" y2="1"><stop offset="0" stop-color="#453781"/><stop offset="0.12" stop-color="#453781"/><stop offset="0.23" stop-color="#443b84"/><stop offset="0.42" stop-color="#365d8d"/><stop offset="0.49" stop-color="#306a8e"/><stop offset="0.74" stop-color="#32648e"/><stop offset="1" stop-color="#30698e"/></linearGradient><linearGradient id="b84" x1="0" y1="0" x2="0" y2="1"><stop offset="0" stop-color="#470e61"/><stop offset="0.12" stop-color="#481a6c"/><stop offset="0.23" stop-color="#472a7a"/><stop offset="0.32" stop-color="#404588"/><stop offset="0.36" stop-color="#3c508b"/><stop offset="0.52" stop-color="#32648e"/><stop offset="0.76" stop-color="#355f8d"/><stop offset="1" stop-color="#33628d"/></linearGradient><linearGradient id="b85" x1="0" y1="0" x2="0" y2="1"><stop offset="0" stop-color="#460a5d"/><stop offset="0.12" stop-color="#481769"/><stop offset="0.23" stop-color="#482979"/><stop offset="0.32" stop-color="#414487"/><stop offset="0.37" stop-color="#3d4e8a"/><stop offset="0.52" stop-color="#355f8d"/><stop offset="1" stop-color="#355e8d"/></linearGradient><linearGradient id="b86" x1="0" y1="0" x2="0" y2="1"><stop offset="0" stop-color="#482576"/><stop offset="0.12" stop-color="#472a7a"/><stop offset="0.23" stop-color="#463480"/><stop offset="0.32" stop-color="#404588"/><stop offset="0.49" stop-color="#375b8d"/><stop offset="1" stop-color="#365d8d"/></linearGradient><linearGradient id="b87" x1="0" y1="0" x2="0" y2="1"><stop offset="0" stop-color="#443b84"/><stop offset="0.25" stop-color="#423f85"/><stop offset="0.43" stop-color="#3b528b"/><stop offset="0.5" stop-color="#375b8d"/><stop offset="1" stop-color="#365c8d"/></linearGradient><linearGradient id="b88" x1="0" y1="0" x2="0" y2="1"><stop offset="0" stop-color="#3f4788"/><stop offset="0.25" stop-color="#414487"/><stop offset="0.43" stop-color="#3b518b"/><stop offset="0.5" stop-color="#375a8c"/><stop offset="1" stop-color="#375b8d"/></linearGradient><linearGradient id="b89" x1="0" y1="0" x2="0" y2="1"><stop offset="0" stop-color="#3e4c8a"/><stop offset="0.25" stop-color="#3f4788"/><stop offset="0.34" stop-color="#3f4889"/><stop offset="0.5" stop-color="#38598c"/><stop offset="1" stop-color="#375b8d"/></linearGradient><linearGradient id="b90" x1="0" y1="0" x2="0" y2="1"><stop offset="0" stop-color="#3e4a89"/><stop offset="0.25" stop-color="#3f4788"/><stop offset="0.34" stop-color="#3f4788"/><stop offset="0.5" stop-color="#38588c"/><stop offset="1" stop-color="#375a8c"/></linearGradient><linearGradient id="b91" x1="0" y1="0" x2="0" y2="1"><stop offset="0" stop-color="#3f4889"/><stop offset="0.25" stop-color="#404688"/><stop offset="0.34" stop-color="#404688"/><stop offset="0.5" stop-color="#39558c"/><stop offset="1" stop-color="#38598c"/></linearGradient><linearGradient id="b92" x1="0" y1="0" x2="0" y2="1"><stop offset="0" stop-color="#3f4788"/><stop offset="0.25" stop-color="#404688"/><stop offset="0.34" stop-color="#404688"/><stop offset="0.5" stop-color="#3a548c"/><stop offset="1" stop-color="#38588c"/></linearGradient><linearGradient id="b93" x1="0" y1="0" x2="0" y2="1"><stop offset="0" stop-color="#3f4788"/><stop offset="0.25" stop-color="#404688"/><stop offset="0.34" stop-color="#3f4788"/><stop offset="0.5" stop-color="#39558c"/><stop offset="1" stop-color="#38588c"/></linearGradient><linearGradient id="b94" x1="0" y1="0" x2="0" y2="1"><stop offset="0" stop-color="#3f4889"/><stop offset="0.25" stop-color="#3f4788"/><stop offset="0.34" stop-color="#3f4788"/><stop offset="0.5" stop-color="#39568c"/><stop offset="1" stop-color="#375a8c"/></linearGradient><linearGradient id="b95" x1="0" y1="0" x2="0" y2="1"><stop offset="0" stop-color="#3f4889"/><stop offset="0.25" stop-color="#3f4788"/><stop offset="0.34" stop-color="#3f4788"/><stop offset="0.5" stop-color="#39568c"/><stop offset="1" stop-color="#38598c"/></linearGradient><linearGradient id="b96" x1="0" y1="0" x2="0" y2="1"><stop offset="0" stop-color="#404588"/><stop offset="0.25" stop-color="#404588"/><stop offset="0.43" stop-color="#3e4c8a"/><stop offset="0.57" stop-color="#3a538b"/><stop offset="1" stop-color="#3a538b"/></linearGradient><linearGradient id="b97" x1="0" y1="0" x2="0" y2="1"><stop offset="0" stop-color="#404588"/><stop offset="0.25" stop-color="#404588"/><stop offset="0.43" stop-color="#3e4c8a"/><stop offset="0.57" stop-color="#3b518b"/><stop offset="1" stop-color="#3b528b"/></linearGradient><linearGradient id="b98" x1="0" y1="0" x2="0" y2="1"><stop offset="0" stop-color="#3f4788"/><stop offset="0.25" stop-color="#3f4788"/><stop offset="0.34" stop-color="#3f4788"/><stop offset="0.5" stop-color="#3a538b"/><stop offset="1" stop-color="#39558c"/></linearGradient><linearGradient id="b99" x1="0" y1="0" x2="0" y2="1"><stop offset="0" stop-color="#404588"/><stop offset="0.25" stop-color="#404588"/><stop offset="0.62" stop-color="#3c508b"/><stop offset="1" stop-color="#3c508b"/></linearGradient><linearGradient id="b100" x1="0" y1="0" x2="0" y2="1"><stop offset="0" stop-color="#3f4788"/><stop offset="0.25" stop-color="#404688"/><stop offset="0.62" stop-color="#3a538b"/><stop offset="1" stop-color="#3a538b"/></linearGradient><linearGradient id="b101" x1="0" y1="0" x2="0" y2="1"><stop offset="0" stop-color="#414487"/><stop offset="0.25" stop-color="#404588"/><stop offset="0.62" stop-color="#3d4d8a"/><stop offset="1" stop-color="#3d4e8a"/></linearGradient><linearGradient id="b102" x1="0" y1="0" x2="0" y2="1"><stop offset="0" stop-color="#3f4788"/><stop offset="0.25" stop-color="#404688"/><stop offset="0.62" stop-color="#3a538b"/><stop offset="1" stop-color="#3a538b"/></linearGradient><linearGradient id="b103" x1="0" y1="0" x2="0" y2="1"><stop offset="0" stop-color="#3f4788"/><stop offset="0.25" stop-color="#404688"/><stop offset="0.62" stop-color="#3a538b"/><stop offset="1" stop-color="#3a538b"/></linearGradient><linearGradient id="b104" x1="0" y1="0" x2="0" y2="1"><stop offset="0" stop-color="#414487"/><stop offset="0.25" stop-color="#404588"/><stop offset="0.62" stop-color="#3c4f8a"/><stop offset="1" stop-color="#3c508b"/></linearGradient><linearGradient id="b105" x1="0" y1="0" x2="0" y2="1"><stop offset="0" stop-color="#3f4788"/><stop offset="0.25" stop-color="#3f4788"/><stop offset="0.43" stop-color="#3d4d8a"/><stop offset="0.57" stop-color="#38588c"/><stop offset="1" stop-color="#38588c"/></linearGradient><linearGradient id="b106" x1="0" y1="0" x2="0" y2="1"><stop offset="0" stop-color="#404588"/><stop offset="0.25" stop-color="#404588"/><stop offset="0.43" stop-color="#3e4a89"/><stop offset="0.57" stop-color="#3b528b"/><stop offset="1" stop-color="#3a538b"/></linearGradient><linearGradient id="b107" x1="0" y1="0" x2="0" y2="1"><stop offset="0" stop-color="#404588"/><stop offset="0.25" stop-color="#404588"/><stop offset="0.43" stop-color="#3e4a89"/><stop offset="0.57" stop-color="#3a538b"/><stop offset="1" stop-color="#3a548c"/></linearGradient><linearGradient id="b108" x1="0" y1="0" x2="0" y2="1"><stop offset="0" stop-color="#3f4788"/><stop offset="0.25" stop-color="#3f4788"/><stop offset="0.34" stop-color="#3f4788"/><stop offset="0.5" stop-color="#3a538b"/><stop offset="0.62" stop-color="#38598c"/><stop offset="1" stop-color="#38588c"/></linearGradient><linearGradient id="b109" x1="0" y1="0" x2="0" y2="1"><stop offset="0" stop-color="#3f4788"/><stop offset="0.25" stop-color="#3f4788"/><stop offset="0.34" stop-color="#3f4788"/><stop offset="0.5" stop-color="#3a538b"/><stop offset="0.75" stop-color="#38598c"/><stop offset="1" stop-color="#38588c"/></linearGradient><linearGradient id="b110" x1="0" y1="0" x2="0" y2="1"><stop offset="0" stop-color="#404688"/><stop offset="0.25" stop-color="#404688"/><stop offset="0.43" stop-color="#3e4c8a"/><stop offset="0.57" stop-color="#39558c"/><stop offset="1" stop-color="#39568c"/></linearGradient><linearGradient id="b111" x1="0" y1="0" x2="0" y2="1"><stop offset="0" stop-color="#404588"/><stop offset="0.25" stop-color="#404588"/><stop offset="0.43" stop-color="#3e4a89"/><stop offset="0.57" stop-color="#3a548c"/><stop offset="1" stop-color="#39568c"/></linearGradient><linearGradient id="b112" x1="0" y1="0" x2="0" y2="1"><stop offset="0" stop-color="#404588"/><stop offset="0.25" stop-color="#404588"/><stop offset="0.43" stop-color="#3e4c8a"/><stop offset="0.57" stop-color="#39558c"/><stop offset="1" stop-color="#38588c"/></linearGradient><linearGradient id="b113" x1="0" y1="0" x2="0" y2="1"><stop offset="0" stop-color="#404588"/><stop offset="0.25" stop-color="#404588"/><stop offset="0.43" stop-color="#3d4d8a"/><stop offset="0.57" stop-color="#38588c"/><stop offset="1" stop-color="#365c8d"/></linearGradient><linearGradient id="b114" x1="0" y1="0" x2="0" y2="1"><stop offset="0" stop-color="#424086"/><stop offset="0.25" stop-color="#424186"/><stop offset="0.62" stop-color="#365d8d"/><stop offset="1" stop-color="#34608d"/></linearGradient><linearGradient id="b115" x1="0" y1="0" x2="0" y2="1"><stop offset="0" stop-color="#453781"/><stop offset="0.25" stop-color="#443983"/><stop offset="0.43" stop-color="#3c4f8a"/><stop offset="0.57" stop-color="#355e8d"/><stop offset="0.78" stop-color="#32648e"/><stop offset="1" stop-color="#33638d"/></linearGradient><linearGradient id="b116" x1="0" y1="0" x2="0" y2="1"><stop offset="0" stop-color="#472d7b"/><stop offset="0.25" stop-color="#46327e"/><stop offset="0.43" stop-color="#3c508b"/><stop offset="0.57" stop-color="#34618d"/><stop offset="0.78" stop-color="#31678e"/><stop offset="1" stop-color="#32658e"/></linearGradient><linearGradient id="b117" x1="0" y1="0" x2="0" y2="1"><stop offset="0" stop-color="#482677"/><stop offset="0.25" stop-color="#472d7b"/><stop offset="0.34" stop-color="#424186"/><stop offset="0.42" stop-color="#3b528b"/><stop offset="0.56" stop-color="#33638d"/><stop offset="0.67" stop-color="#306a8e"/><stop offset="1" stop-color="#31678e"/></linearGradient><linearGradient id="b118" x1="0" y1="0" x2="0" y2="1"><stop offset="0" stop-color="#472a7a"/><stop offset="0.25" stop-color="#46307e"/><stop offset="0.34" stop-color="#414487"/><stop offset="0.42" stop-color="#39558c"/><stop offset="0.56" stop-color="#31688e"/><stop offset="0.67" stop-color="#2e6d8e"/><stop offset="1" stop-color="#31688e"/></linearGradient><linearGradient id="b119" x1="0" y1="0" x2="0" y2="1"><stop offset="0" stop-color="#453581"/><stop offset="0.25" stop-color="#443b84"/><stop offset="0.43" stop-color="#375b8d"/><stop offset="0.57" stop-color="#2e6d8e"/><stop offset="0.78" stop-color="#2e6d8e"/><stop offset="1" stop-color="#31678e"/></linearGradient><linearGradient id="b120" x1="0" y1="0" x2="0" y2="1"><stop offset="0" stop-color="#414487"/><stop offset="0.25" stop-color="#3f4889"/><stop offset="0.43" stop-color="#34618d"/><stop offset="0.57" stop-color="#2d718e"/><stop offset="1" stop-color="#32658e"/></linearGradient><linearGradient id="b121" x1="0" y1="0" x2="0" y2="1"><stop offset="0" stop-color="#3b518b"/><stop offset="0.25" stop-color="#39558c"/><stop offset="0.43" stop-color="#31688e"/><stop offset="0.57" stop-color="#2c728e"/><stop offset="1" stop-color="#33628d"/></linearGradient><linearGradient id="b122" x1="0" y1="0" x2="0" y2="1"><stop offset="0" stop-color="#355e8d"/><stop offset="0.25" stop-color="#33628d"/><stop offset="0.43" stop-color="#2e6e8e"/><stop offset="0.5" stop-color="#2c728e"/><stop offset="1" stop-color="#355e8d"/></linearGradient><linearGradient id="b123" x1="0" y1="0" x2="0" y2="1"><stop offset="0" stop-color="#306a8e"/><stop offset="0.5" stop-color="#2c728e"/><stop offset="0.75" stop-color="#33628d"/><stop offset="1" stop-color="#375a8c"/></linearGradient><linearGradient id="b124" x1="0" y1="0" x2="0" y2="1"><stop offset="0" stop-color="#2b748e"/><stop offset="0.25" stop-color="#2b758e"/><stop offset="0.43" stop-color="#2d708e"/><stop offset="0.57" stop-color="#30698e"/><stop offset="0.78" stop-color="#375b8d"/><stop offset="1" stop-color="#39558c"/></linearGradient><linearGradient id="b125" x1="0" y1="0" x2="0" y2="1"><stop offset="0" stop-color="#297b8e"/><stop offset="0.25" stop-color="#2a778e"/><stop offset="0.62" stop-color="#365d8d"/><stop offset="0.81" stop-color="#3a538b"/><stop offset="1" stop-color="#3b518b"/></linearGradient><linearGradient id="b126" x1="0" y1="0" x2="0" y2="1"><stop offset="0" stop-color="#297b8e"/><stop offset="0.25" stop-color="#2b748e"/><stop offset="0.62" stop-color="#3a548c"/><stop offset="0.81" stop-color="#3d4d8a"/><stop offset="1" stop-color="#3e4c8a"/></linearGradient><linearGradient id="b127" x1="0" y1="0" x2="0" y2="1"><stop offset="0" stop-color="#2b758e"/><stop offset="0.25" stop-color="#2e6e8e"/><stop offset="0.62" stop-color="#3e4a89"/><stop offset="1" stop-color="#404688"/></linearGradient><linearGradient id="b128" x1="0" y1="0" x2="0" y2="1"><stop offset="0" stop-color="#2e6e8e"/><stop offset="0.25" stop-color="#31668e"/><stop offset="0.34" stop-color="#355f8d"/><stop offset="0.5" stop-color="#3f4788"/><stop offset="0.75" stop-color="#433e85"/><stop offset="1" stop-color="#424086"/></linearGradient><linearGradient id="b129" x1="0" y1="0" x2="0" y2="1"><stop offset="0" stop-color="#31668e"/><stop offset="0.25" stop-color="#355f8d"/><stop offset="0.34" stop-color="#375a8c"/><stop offset="0.41" stop-color="#3c4f8a"/><stop offset="0.48" stop-color="#424186"/><stop offset="0.54" stop-color="#443b84"/><stop offset="0.77" stop-color="#453882"/><stop offset="1" stop-color="#443b84"/></linearGradient><linearGradient id="b130" x1="0" y1="0" x2="0" y2="1"><stop offset="0" stop-color="#34608d"/><stop offset="0.25" stop-color="#375b8d"/><stop offset="0.34" stop-color="#39558c"/><stop offset="0.4" stop-color="#3d4e8a"/><stop offset="0.47" stop-color="#433e85"/><stop offset="0.53" stop-color="#453781"/><stop offset="1" stop-color="#443a83"/></linearGradient><linearGradient id="b131" x1="0" y1="0" x2="0" y2="1"><stop offset="0" stop-color="#365c8d"/><stop offset="0.25" stop-color="#38588c"/><stop offset="0.34" stop-color="#3a538b"/><stop offset="0.4" stop-color="#3e4c8a"/><stop offset="0.47" stop-color="#433e85"/><stop offset="0.53" stop-color="#453882"/><stop offset="1" stop-color="#433d84"/></linearGradient><linearGradient id="b132" x1="0" y1="0" x2="0" y2="1"><stop offset="0" stop-color="#38598c"/><stop offset="0.25" stop-color="#39558c"/><stop offset="0.34" stop-color="#3b518b"/><stop offset="0.5" stop-color="#433d84"/><stop offset="1" stop-color="#424086"/></linearGradient><linearGradient id="b133" x1="0" y1="0" x2="0" y2="1"><stop offset="0" stop-color="#38588c"/><stop offset="0.25" stop-color="#3a548c"/><stop offset="0.34" stop-color="#3c508b"/><stop offset="0.5" stop-color="#424186"/><stop offset="1" stop-color="#414487"/></linearGradient><linearGradient id="b134" x1="0" y1="0" x2="0" y2="1"><stop offset="0" stop-color="#39568c"/><stop offset="0.25" stop-color="#3a538b"/><stop offset="0.43" stop-color="#3e4989"/><stop offset="0.57" stop-color="#404588"/><stop offset="1" stop-color="#404688"/></linearGradient><linearGradient id="b135" x1="0" y1="0" x2="0" y2="1"><stop offset="0" stop-color="#39558c"/><stop offset="0.25" stop-color="#3a538b"/><stop offset="0.43" stop-color="#3e4989"/><stop offset="1" stop-color="#3f4788"/></linearGradient><linearGradient id="b136" x1="0" y1="0" x2="0" y2="1"><stop offset="0" stop-color="#3a548c"/><stop offset="0.25" stop-color="#3b528b"/><stop offset="0.43" stop-color="#3e4a89"/><stop offset="1" stop-color="#3f4889"/></linearGradient><linearGradient id="b137" x1="0" y1="0" x2="0" y2="1"><stop offset="0" stop-color="#3a548c"/><stop offset="0.25" stop-color="#3b528b"/><stop offset="0.43" stop-color="#3e4a89"/><stop offset="1" stop-color="#3f4889"/></linearGradient><linearGradient id="b138" x1="0" y1="0" x2="0" y2="1"><stop offset="0" stop-color="#3a538b"/><stop offset="0.25" stop-color="#3b518b"/><stop offset="0.62" stop-color="#3f4889"/><stop offset="1" stop-color="#3f4889"/></linearGradient><linearGradient id="b139" x1="0" y1="0" x2="0" y2="1"><stop offset="0" stop-color="#3a538b"/><stop offset="0.5" stop-color="#3e4989"/><stop offset="1" stop-color="#3f4889"/></linearGradient><linearGradient id="b140" x1="0" y1="0" x2="0" y2="1"><stop offset="0" stop-color="#3b528b"/><stop offset="0.5" stop-color="#3e4989"/><stop offset="1" stop-color="#3f4889"/></linearGradient><linearGradient id="b141" x1="0" y1="0" x2="0" y2="1"><stop offset="0" stop-color="#3b518b"/><stop offset="0.5" stop-color="#3e4989"/><stop offset="1" stop-color="#3f4889"/></linearGradient><linearGradient id="b142" x1="0" y1="0" x2="0" y2="1"><stop offset="0" stop-color="#3c508b"/><stop offset="0.5" stop-color="#3e4989"/><stop offset="1" stop-color="#3f4889"/></linearGradient><linearGradient id="b143" x1="0" y1="0" x2="0" y2="1"><stop offset="0" stop-color="#3c4f8a"/><stop offset="0.5" stop-color="#3e4989"/><stop offset="1" stop-color="#3f4889"/></linearGradient><linearGradient id="b144" x1="0" y1="0" x2="0" y2="1"><stop offset="0" stop-color="#3d4e8a"/><stop offset="1" stop-color="#3f4889"/></linearGradient><linearGradient id="b145" x1="0" y1="0" x2="0" y2="1"><stop offset="0" stop-color="#3d4d8a"/><stop offset="1" stop-color="#3f4889"/></linearGradient><linearGradient id="b146" x1="0" y1="0" x2="0" y2="1"><stop offset="0" stop-color="#3e4c8a"/><stop offset="1" stop-color="#3f4889"/></linearGradient><linearGradient id="b147" x1="0" y1="0" x2="0" y2="1"><stop offset="0" stop-color="#3e4c8a"/><stop offset="1" stop-color="#3f4889"/></linearGradient><linearGradient id="b148" x1="0" y1="0" x2="0" y2="1"><stop offset="0" stop-color="#3e4c8a"/><stop offset="1" stop-color="#3f4889"/></linearGradient><linearGradient id="b149" x1="0" y1="0" x2="0" y2="1"><stop offset="0" stop-color="#3e4c8a"/><stop offset="1" stop-color="#3f4889"/></linearGradient><linearGradient id="b150" x1="0" y1="0" x2="0" y2="1"><stop offset="0" stop-color="#3e4c8a"/><stop offset="1" stop-color="#3f4889"/></linearGradient><linearGradient id="b151" x1="0" y1="0" x2="0" y2="1"><stop offset="0" stop-color="#3e4c8a"/><stop offset="1" stop-color="#3f4889"/></linearGradient><linearGradient id="b152" x1="0" y1="0" x2="0" y2="1"><stop offset="0" stop-color="#3e4c8a"/><stop offset="1" stop-color="#3f4889"/></linearGradient><linearGradient id="b153" x1="0" y1="0" x2="0" y2="1"><stop offset="0" stop-color="#3e4c8a"/><stop offset="1" stop-color="#3f4889"/></linearGradient><linearGradient id="b154" x1="0" y1="0" x2="0" y2="1"><stop offset="0" stop-color="#3e4c8a"/><stop offset="1" stop-color="#3f4889"/></linearGradient><linearGradient id="b155" x1="0" y1="0" x2="0" y2="1"><stop offset="0" stop-color="#3e4c8a"/><stop offset="1" stop-color="#3f4889"/></linearGradient><linearGradient id="b156" x1="0" y1="0" x2="0" y2="1"><stop offset="0" stop-color="#3e4c8a"/><stop offset="1" stop-color="#3f4889"/></linearGradient></defs>
<g shape-rendering="crispEdges"><rect x="676.30" y="41.50" width="8.60" height="400.60" fill="url(#b0)"/><rect x="684.30" y="41.50" width="8.60" height="400.60" fill="url(#b1)"/><rect x="692.30" y="41.50" width="8.60" height="400.60" fill="url(#b2)"/><rect x="700.30" y="41.50" width="8.60" height="400.60" fill="url(#b3)"/><rect x="708.30" y="41.50" width="8.60" height="400.60" fill="url(#b4)"/><rect x="716.30" y="41.50" width="8.60" height="400.60" fill="url(#b5)"/><rect x="724.30" y="41.50" width="8.60" height="400.60" fill="url(#b6)"/><rect x="732.30" y="41.50" width="8.60" height="400.60" fill="url(#b7)"/><rect x="740.30" y="41.50" width="8.60" height="400.60" fill="url(#b8)"/><rect x="748.30" y="41.50" width="8.60" height="400.60" fill="url(#b9)"/><rect x="756.30" y="41.50" width="4.60" height="400.60" fill="url(#b10)"/><rect x="760.30" y="41.50" width="4.60" height="400.60" fill="url(#b11)"/><rect x="764.30" y="41.50" width="4.60" height="400.60" fill="url(#b12)"/><rect x="768.30" y="41.50" width="4.60" height="400.60" fill="url(#b13)"/><rect x="772.30" y="41.50" width="2.60" height="400.60" fill="url(#b14)"/><rect x="774.30" y="41.50" width="2.60" height="400.60" fill="url(#b15)"/><rect x="776.30" y="41.50" width="2.60" height="400.60" fill="url(#b16)"/><rect x="778.30" y="41.50" width="2.60" height="400.60" fill="url(#b17)"/><rect x="780.30" y="41.50" width="2.60" height="400.60" fill="url(#b18)"/><rect x="782.30" y="41.50" width="2.60" height="400.60" fill="url(#b19)"/><rect x="784.30" y="41.50" width="1.60" height="400.60" fill="url(#b20)"/><rect x="785.30" y="41.50" width="1.60" height="400.60" fill="url(#b21)"/><rect x="786.30" y="41.50" width="1.60" height="400.60" fill="url(#b22)"/><rect x="787.30" y="41.50" width="1.60" height="400.60" fill="url(#b23)"/><rect x="788.30" y="41.50" width="1.60" height="400.60" fill="url(#b24)"/><rect x="789.30" y="41.50" width="1.60" height="400.60" fill="url(#b25)"/><rect x="790.30" y="41.50" width="1.60" height="400.60" fill="url(#b26)"/><rect x="791.30" y="41.50" width="1.60" height="400.60" fill="url(#b27)"/><rect x="792.30" y="41.50" width="1.60" height="400.60" fill="url(#b28)"/><rect x="793.30" y="41.50" width="1.60" height="400.60" fill="url(#b29)"/><rect x="794.30" y="41.50" width="1.60" height="400.60" fill="url(#b30)"/><rect x="795.30" y="41.50" width="1.60" height="400.60" fill="url(#b31)"/><rect x="796.30" y="41.50" width="1.60" height="400.60" fill="url(#b32)"/><rect x="797.30" y="41.50" width="1.60" height="400.60" fill="url(#b33)"/><rect x="798.30" y="41.50" width="1.60" height="400.60" fill="url(#b34)"/><rect x="799.30" y="41.50" width="1.60" height="400.60" fill="url(#b35)"/><rect x="800.30" y="41.50" width="1.60" height="400.60" fill="url(#b36)"/><rect x="801.30" y="41.50" width="1.60" height="400.60" fill="url(#b37)"/><rect x="802.30" y="41.50" width="1.60" height="400.60" fill="url(#b38)"/><rect x="803.30" y="41.50" width="1.60" height="400.60" fill="url(#b39)"/><rect x="804.30" y="41.50" width="1.60" height="400.60" fill="url(#b40)"/><rect x="805.30" y="41.50" width="1.60" height="400.60" fill="url(#b41)"/><rect x="806.30" y="41.50" width="2.60" height="400.60" fill="url(#b42)"/><rect x="808.30" y="41.50" width="2.60" height="400.60" fill="url(#b43)"/><rect x="810.30" y="41.50" width="2.60" height="400.60" fill="url(#b44)"/><rect x="812.30" y="41.50" width="2.60" height="400.60" fill="url(#b45)"/><rect x="814.30" y="41.50" width="2.60" height="400.60" fill="url(#b46)"/><rect x="816.30" y="41.50" width="2.60" height="400.60" fill="url(#b47)"/><rect x="818.30" y="41.50" width="2.60" height="400.60" fill="url(#b48)"/><rect x="820.30" y="41.50" width="4.60" height="400.60" fill="url(#b49)"/><rect x="824.30" y="41.50" width="4.60" height="400.60" fill="url(#b50)"/><rect x="828.30" y="41.50" width="4.60" height="400.60" fill="url(#b51)"/><rect x="832.30" y="41.50" width="4.60" height="400.60" fill="url(#b52)"/><rect x="836.30" y="41.50" width="8.60" height="400.60" fill="url(#b53)"/><rect x="844.30" y="41.50" width="8.60" height="400.60" fill="url(#b54)"/><rect x="852.30" y="41.50" width="8.60" height="400.60" fill="url(#b55)"/><rect x="860.30" y="41.50" width="8.60" height="400.60" fill="url(#b56)"/><rect x="868.30" y="41.50" width="8.60" height="400.60" fill="url(#b57)"/><rect x="876.30" y="41.50" width="4.60" height="400.60" fill="url(#b58)"/><rect x="880.30" y="41.50" width="4.60" height="400.60" fill="url(#b59)"/><rect x="884.30" y="41.50" width="4.60" height="400.60" fill="url(#b60)"/><rect x="888.30" y="41.50" width="2.60" height="400.60" fill="url(#b61)"/><rect x="890.30" y="41.50" width="2.60" height="400.60" fill="url(#b62)"/><rect x="892.30" y="41.50" width="2.60" height="400.60" fill="url(#b63)"/><rect x="894.30" y="41.50" width="2.60" height="400.60" fill="url(#b64)"/><rect x="896.30" y="41.50" width="2.60" height="400.60" fill="url(#b65)"/><rect x="898.30" y="41.50" width="2.60" height="400.60" fill="url(#b66)"/><rect x="900.30" y="41.50" width="1.60" height="400.60" fill="url(#b67)"/><rect x="901.30" y="41.50" width="1.60" height="400.60" fill="url(#b68)"/><rect x="902.30" y="41.50" width="1.60" height="400.60" fill="url(#b69)"/><rect x="903.30" y="41.50" width="1.60" height="400.60" fill="url(#b70)"/><rect x="904.30" y="41.50" width="1.60" height="400.60" fill="url(#b71)"/><rect x="905.30" y="41.50" width="1.60" height="400.60" fill="url(#b72)"/><rect x="906.30" y="41.50" width="1.60" height="400.60" fill="url(#b73)"/><rect x="907.30" y="41.50" width="1.60" height="400.60" fill="url(#b74)"/><rect x="908.30" y="41.50" width="1.60" height="400.60" fill="url(#b75)"/><rect x="909.30" y="41.50" width="1.60" height="400.60" fill="url(#b76)"/><rect x="910.30" y="41.50" width="1.60" height="400.60" fill="url(#b77)"/><rect x="911.30" y="41.50" width="1.60" height="400.60" fill="url(#b78)"/><rect x="912.30" y="41.50" width="1.60" height="400.60" fill="url(#b79)"/><rect x="913.30" y="41.50" width="1.60" height="400.60" fill="url(#b80)"/><rect x="914.30" y="41.50" width="1.60" height="400.60" fill="url(#b81)"/><rect x="915.30" y="41.50" width="1.60" height="400.60" fill="url(#b82)"/><rect x="916.30" y="41.50" width="1.60" height="400.60" fill="url(#b83)"/><rect x="917.30" y="41.50" width="1.60" height="400.60" fill="url(#b84)"/><rect x="918.30" y="41.50" width="1.60" height="400.60" fill="url(#b85)"/><rect x="919.30" y="41.50" width="1.60" height="400.60" fill="url(#b86)"/><rect x="920.30" y="41.50" width="1.60" height="400.60" fill="url(#b87)"/><rect x="921.30" y="41.50" width="1.60" height="400.60" fill="url(#b88)"/><rect x="922.30" y="41.50" width="2.60" height="400.60" fill="url(#b89)"/><rect x="924.30" y="41.50" width="2.60" height="400.60" fill="url(#b90)"/><rect x="926.30" y="41.50" width="2.60" height="400.60" fill="url(#b91)"/><rect x="928.30" y="41.50" width="2.60" height="400.60" fill="url(#b92)"/><rect x="930.30" y="41.50" width="2.60" height="400.60" fill="url(#b93)"/><rect x="932.30" y="41.50" width="2.60" height="400.60" fill="url(#b94)"/><rect x="934.30" y="41.50" width="2.60" height="400.60" fill="url(#b95)"/><rect x="936.30" y="41.50" width="4.60" height="400.60" fill="url(#b96)"/><rect x="940.30" y="41.50" width="4.60" height="400.60" fill="url(#b97)"/><rect x="944.30" y="41.50" width="4.60" height="400.60" fill="url(#b98)"/><rect x="948.30" y="41.50" width="4.60" height="400.60" fill="url(#b99)"/><rect x="952.30" y="41.50" width="8.60" height="400.60" fill="url(#b100)"/><rect x="960.30" y="41.50" width="8.60" height="400.60" fill="url(#b101)"/><rect x="968.30" y="41.50" width="8.60" height="400.60" fill="url(#b102)"/><rect x="976.30" y="41.50" width="8.60" height="400.60" fill="url(#b103)"/><rect x="984.30" y="41.50" width="8.60" height="400.60" fill="url(#b104)"/><rect x="992.30" y="41.50" width="4.60" height="400.60" fill="url(#b105)"/><rect x="996.30" y="41.50" width="4.60" height="400.60" fill="url(#b106)"/><rect x="1000.30" y="41.50" width="4.60" height="400.60" fill="url(#b107)"/><rect x="1004.30" y="41.50" width="2.60" height="400.60" fill="url(#b108)"/><rect x="1006.30" y="41.50" width="2.60" height="400.60" fill="url(#b109)"/><rect x="1008.30" y="41.50" width="2.60" height="400.60" fill="url(#b110)"/><rect x="1010.30" y="41.50" width="2.60" height="400.60" fill="url(#b111)"/><rect x="1012.30" y="41.50" width="2.60" height="400.60" fill="url(#b112)"/><rect x="1014.30" y="41.50" width="2.60" height="400.60" fill="url(#b113)"/><rect x="1016.30" y="41.50" width="2.60" height="400.60" fill="url(#b114)"/><rect x="1018.30" y="41.50" width="1.60" height="400.60" fill="url(#b115)"/><rect x="1019.30" y="41.50" width="1.60" height="400.60" fill="url(#b116)"/><rect x="1020.30" y="41.50" width="1.60" height="400.60" fill="url(#b117)"/><rect x="1021.30" y="41.50" width="1.60" height="400.60" fill="url(#b118)"/><rect x="1022.30" y="41.50" width="1.60" height="400.60" fill="url(#b119)"/><rect x="1023.30" y="41.50" width="1.60" height="400.60" fill="url(#b120)"/><rect x="1024.30" y="41.50" width="1.60" height="400.60" fill="url(#b121)"/><rect x="1025.30" y="41.50" width="1.60" height="400.60" fill="url(#b122)"/><rect x="1026.30" y="41.50" width="1.60" height="400.60" fill="url(#b123)"/><rect x="1027.30" y="41.50" width="1.60" height="400.60" fill="url(#b124)"/><rect x="1028.30" y="41.50" width="1.60" height="400.60" fill="url(#b125)"/><rect x="1029.30" y="41.50" width="1.60" height="400.60" fill="url(#b126)"/><rect x="1030.30" y="41.50" width="1.60" height="400.60" fill="url(#b127)"/><rect x="1031.30" y="41.50" width="1.60" height="400.60" fill="url(#b128)"/><rect x="1032.30" y="41.50" width="1.60" height="400.60" fill="url(#b129)"/><rect x="1033.30" y="41.50" width="1.60" height="400.60" fill="url(#b130)"/><rect x="1034.30" y="41.50" width="1.60" height="400.60" fill="url(#b131)"/><rect x="1035.30" y="41.50" width="1.60" height="400.60" fill="url(#b132)"/><rect x="1036.30" y="41.50" width="1.60" height="400.60" fill="url(#b133)"/><rect x="1037.30" y="41.50" width="1.60" height="400.60" fill="url(#b134)"/><rect x="1038.30" y="41.50" width="1.60" height="400.60" fill="url(#b135)"/><rect x="1039.30" y="41.50" width="2.60" height="400.60" fill="url(#b136)"/><rect x="1041.30" y="41.50" width="2.60" height="400.60" fill="url(#b137)"/><rect x="1043.30" y="41.50" width="2.60" height="400.60" fill="url(#b138)"/><rect x="1045.30" y="41.50" width="2.60" height="400.60" fill="url(#b139)"/><rect x="1047.30" y="41.50" width="2.60" height="400.60" fill="url(#b140)"/><rect x="1049.30" y="41.50" width="2.60" height="400.60" fill="url(#b141)"/><rect x="1051.30" y="41.50" width="2.60" height="400.60" fill="url(#b142)"/><rect x="1053.30" y="41.50" width="4.60" height="400.60" fill="url(#b143)"/><rect x="1057.30" y="41.50" width="4.60" height="400.60" fill="url(#b144)"/><rect x="1061.30" y="41.50" width="4.60" height="400.60" fill="url(#b145)"/><rect x="1065.30" y="41.50" width="4.60" height="400.60" fill="url(#b146)"/><rect x="1069.30" y="41.50" width="8.60" height="400.60" fill="url(#b147)"/><rect x="1077.30" y="41.50" width="8.60" height="400.60" fill="url(#b148)"/><rect x="1085.30" y="41.50" width="8.60" height="400.60" fill="url(#b149)"/><rect x="1093.30" y="41.50" width="8.60" height="400.60" fill="url(#b150)"/><rect x="1101.30" y="41.50" width="8.60" height="400.60" fill="url(#b151)"/><rect x="1109.30" y="41.50" width="8.60" height="400.60" fill="url(#b152)"/><rect x="1117.30" y="41.50" width="8.60" height="400.60" fill="url(#b153)"/><rect x="1125.30" y="41.50" width="8.60" height="400.60" fill="url(#b154)"/><rect x="1133.30" y="41.50" width="8.60" height="400.60" fill="url(#b155)"/><rect x="1141.30" y="41.50" width="5.10" height="400.60" fill="url(#b156)"/></g>
<!-- heat map p3 -->
<defs><linearGradient id="c0" x1="0" y1="0" x2="0" y2="1"><stop offset="0" stop-color="#23a983"/><stop offset="1" stop-color="#22a884"/></linearGradient><linearGradient id="c1" x1="0" y1="0" x2="0" y2="1"><stop offset="0" stop-color="#23a983"/><stop offset="1" stop-color="#22a884"/></linearGradient><linearGradient id="c2" x1="0" y1="0" x2="0" y2="1"><stop offset="0" stop-color="#23a983"/><stop offset="1" stop-color="#22a884"/></linearGradient><linearGradient id="c3" x1="0" y1="0" x2="0" y2="1"><stop offset="0" stop-color="#23a983"/><stop offset="1" stop-color="#22a884"/></linearGradient><linearGradient id="c4" x1="0" y1="0" x2="0" y2="1"><stop offset="0" stop-color="#23a983"/><stop offset="1" stop-color="#22a884"/></linearGradient><linearGradient id="c5" x1="0" y1="0" x2="0" y2="1"><stop offset="0" stop-color="#23a983"/><stop offset="1" stop-color="#22a884"/></linearGradient><linearGradient id="c6" x1="0" y1="0" x2="0" y2="1"><stop offset="0" stop-color="#23a983"/><stop offset="1" stop-color="#22a884"/></linearGradient><linearGradient id="c7" x1="0" y1="0" x2="0" y2="1"><stop offset="0" stop-color="#23a983"/><stop offset="1" stop-color="#22a884"/></linearGradient><linearGradient id="c8" x1="0" y1="0" x2="0" y2="1"><stop offset="0" stop-color="#23a983"/><stop offset="1" stop-color="#22a884"/></linearGradient><linearGradient id="c9" x1="0" y1="0" x2="0" y2="1"><stop offset="0" stop-color="#23a983"/><stop offset="1" stop-color="#22a884"/></linearGradient><linearGradient id="c10" x1="0" y1="0" x2="0" y2="1"><stop offset="0" stop-color="#23a983"/><stop offset="1" stop-color="#22a884"/></linearGradient><linearGradient id="c11" x1="0" y1="0" x2="0" y2="1"><stop offset="0" stop-color="#23a983"/><stop offset="1" stop-color="#22a884"/></linearGradient><linearGradient id="c12" x1="0" y1="0" x2="0" y2="1"><stop offset="0" stop-color="#24aa83"/><stop offset="1" stop-color="#22a884"/></linearGradient><linearGradient id="c13" x1="0" y1="0" x2="0" y2="1"><stop offset="0" stop-color="#25ac82"/><stop offset="0.5" stop-color="#27ad81"/><stop offset="1" stop-color="#22a884"/></linearGradient><linearGradient id="c14" x1="0" y1="0" x2="0" y2="1"><stop offset="0" stop-color="#27ad81"/><stop offset="0.5" stop-color="#29af7f"/><stop offset="1" stop-color="#22a884"/></linearGradient><linearGradient id="c15" x1="0" y1="0" x2="0" y2="1"><stop offset="0" stop-color="#28ae80"/><stop offset="0.25" stop-color="#2db27d"/><stop offset="0.62" stop-color="#2ab07f"/><stop offset="0.81" stop-color="#23a983"/><stop offset="1" stop-color="#22a884"/></linearGradient><linearGradient id="c16" x1="0" y1="0" x2="0" y2="1"><stop offset="0" stop-color="#2ab07f"/><stop offset="0.25" stop-color="#31b57b"/><stop offset="0.62" stop-color="#2eb37c"/><stop offset="0.81" stop-color="#24aa83"/><stop offset="1" stop-color="#22a785"/></linearGradient><linearGradient id="c17" x1="0" y1="0" x2="0" y2="1"><stop offset="0" stop-color="#2db27d"/><stop offset="0.12" stop-color="#35b779"/><stop offset="0.34" stop-color="#3aba76"/><stop offset="0.67" stop-color="#2eb37c"/><stop offset="0.83" stop-color="#23a983"/><stop offset="1" stop-color="#22a785"/></linearGradient><linearGradient id="c18" x1="0" y1="0" x2="0" y2="1"><stop offset="0" stop-color="#2fb47c"/><stop offset="0.12" stop-color="#3dbc74"/><stop offset="0.34" stop-color="#46c06f"/><stop offset="0.42" stop-color="#44bf70"/><stop offset="0.49" stop-color="#3dbc74"/><stop offset="0.61" stop-color="#37b878"/><stop offset="0.8" stop-color="#25ab82"/><stop offset="1" stop-color="#22a785"/></linearGradient><linearGradient id="c19" x1="0" y1="0" x2="0" y2="1"><stop offset="0" stop-color="#34b679"/><stop offset="0.06" stop-color="#3bbb75"/><stop offset="0.11" stop-color="#4ac16d"/><stop offset="0.22" stop-color="#50c46a"/><stop offset="0.31" stop-color="#56c667"/><stop offset="0.37" stop-color="#5ec962"/><stop offset="0.68" stop-color="#2eb37c"/><stop offset="0.76" stop-color="#25ab82"/><stop offset="1" stop-color="#21a685"/></linearGradient><linearGradient id="c20" x1="0" y1="0" x2="0" y2="1"><stop offset="0" stop-color="#37b878"/><stop offset="0.06" stop-color="#46c06f"/><stop offset="0.11" stop-color="#58c765"/><stop offset="0.15" stop-color="#60ca60"/><stop offset="0.25" stop-color="#60ca60"/><stop offset="0.34" stop-color="#6ece58"/><stop offset="0.39" stop-color="#6ece58"/><stop offset="0.46" stop-color="#5ac864"/><stop offset="0.59" stop-color="#3aba76"/><stop offset="0.69" stop-color="#28ae80"/><stop offset="0.84" stop-color="#20a486"/><stop offset="1" stop-color="#20a486"/></linearGradient><linearGradient id="c21" x1="0" y1="0" x2="0" y2="1"><stop offset="0" stop-color="#3aba76"/><stop offset="0.06" stop-color="#50c46a"/><stop offset="0.11" stop-color="#67cc5c"/><stop offset="0.14" stop-color="#6ece58"/><stop offset="0.24" stop-color="#6ece58"/><stop offset="0.33" stop-color="#7ad151"/><stop offset="0.38" stop-color="#7ad151"/><stop offset="0.53" stop-color="#44bf70"/><stop offset="0.58" stop-color="#37b878"/><stop offset="0.68" stop-color="#25ac82"/><stop offset="0.84" stop-color="#1fa187"/><stop offset="1" stop-color="#20a386"/></linearGradient><linearGradient id="c22" x1="0" y1="0" x2="0" y2="1"><stop offset="0" stop-color="#40bd72"/><stop offset="0.06" stop-color="#5cc863"/><stop offset="0.11" stop-color="#75d054"/><stop offset="0.14" stop-color="#7cd250"/><stop offset="0.35" stop-color="#81d34d"/><stop offset="0.39" stop-color="#77d153"/><stop offset="0.46" stop-color="#56c667"/><stop offset="0.52" stop-color="#3fbc73"/><stop offset="0.58" stop-color="#2eb37c"/><stop offset="0.68" stop-color="#21a685"/><stop offset="0.84" stop-color="#1f9e89"/><stop offset="1" stop-color="#1fa188"/></linearGradient><linearGradient id="c23" x1="0" y1="0" x2="0" y2="1"><stop offset="0" stop-color="#4ac16d"/><stop offset="0.06" stop-color="#6ccd5a"/><stop offset="0.11" stop-color="#84d44b"/><stop offset="0.15" stop-color="#89d548"/><stop offset="0.25" stop-color="#86d549"/><stop offset="0.29" stop-color="#86d549"/><stop offset="0.36" stop-color="#7ad151"/><stop offset="0.44" stop-color="#54c568"/><stop offset="0.51" stop-color="#34b679"/><stop offset="0.57" stop-color="#26ad81"/><stop offset="0.67" stop-color="#1fa088"/><stop offset="0.83" stop-color="#1f988b"/><stop offset="1" stop-color="#1f9e89"/></linearGradient><linearGradient id="c24" x1="0" y1="0" x2="0" y2="1"><stop offset="0" stop-color="#58c765"/><stop offset="0.06" stop-color="#7cd250"/><stop offset="0.11" stop-color="#8ed645"/><stop offset="0.22" stop-color="#8bd646"/><stop offset="0.26" stop-color="#89d548"/><stop offset="0.3" stop-color="#81d34d"/><stop offset="0.38" stop-color="#60ca60"/><stop offset="0.45" stop-color="#3bbb75"/><stop offset="0.51" stop-color="#26ad81"/><stop offset="0.63" stop-color="#1f9a8a"/><stop offset="0.72" stop-color="#20928c"/><stop offset="0.86" stop-color="#20928c"/><stop offset="1" stop-color="#1f9a8a"/></linearGradient><linearGradient id="c25" x1="0" y1="0" x2="0" y2="1"><stop offset="0" stop-color="#69cd5b"/><stop offset="0.05" stop-color="#86d549"/><stop offset="0.09" stop-color="#8ed645"/><stop offset="0.2" stop-color="#89d548"/><stop offset="0.25" stop-color="#86d549"/><stop offset="0.29" stop-color="#77d153"/><stop offset="0.37" stop-color="#4ec36b"/><stop offset="0.44" stop-color="#2eb37c"/><stop offset="0.5" stop-color="#1fa287"/><stop offset="0.62" stop-color="#21908d"/><stop offset="0.71" stop-color="#24878e"/><stop offset="0.85" stop-color="#23898e"/><stop offset="1" stop-color="#1f948c"/></linearGradient><linearGradient id="c26" x1="0" y1="0" x2="0" y2="1"><stop offset="0" stop-color="#7cd250"/><stop offset="0.04" stop-color="#8bd646"/><stop offset="0.1" stop-color="#89d548"/><stop offset="0.15" stop-color="#7fd34e"/><stop offset="0.25" stop-color="#77d153"/><stop offset="0.34" stop-color="#46c06f"/><stop offset="0.41" stop-color="#27ad81"/><stop offset="0.48" stop-color="#1f9a8a"/><stop offset="0.61" stop-color="#25838e"/><stop offset="0.7" stop-color="#297b8e"/><stop offset="0.77" stop-color="#297a8e"/><stop offset="0.88" stop-color="#26818e"/><stop offset="1" stop-color="#218e8d"/></linearGradient><linearGradient id="c27" x1="0" y1="0" x2="0" y2="1"><stop offset="0" stop-color="#89d548"/><stop offset="0.06" stop-color="#84d44b"/><stop offset="0.11" stop-color="#73d056"/><stop offset="0.22" stop-color="#65cb5e"/><stop offset="0.26" stop-color="#5cc863"/><stop offset="0.35" stop-color="#2cb17e"/><stop offset="0.41" stop-color="#1fa188"/><stop offset="0.48" stop-color="#228c8d"/><stop offset="0.61" stop-color="#2a768e"/><stop offset="0.7" stop-color="#2e6e8e"/><stop offset="0.77" stop-color="#2e6e8e"/><stop offset="0.88" stop-color="#2b758e"/><stop offset="1" stop-color="#24868e"/></linearGradient><linearGradient id="c28" x1="0" y1="0" x2="0" y2="1"><stop offset="0" stop-color="#81d34d"/><stop offset="0.12" stop-color="#5ac864"/><stop offset="0.23" stop-color="#4cc26c"/><stop offset="0.26" stop-color="#42be71"/><stop offset="0.3" stop-color="#2eb37c"/><stop offset="0.36" stop-color="#1fa188"/><stop offset="0.52" stop-color="#2a768e"/><stop offset="0.64" stop-color="#31668e"/><stop offset="0.73" stop-color="#33628d"/><stop offset="0.86" stop-color="#306a8e"/><stop offset="1" stop-color="#277e8e"/></linearGradient><linearGradient id="c29" x1="0" y1="0" x2="0" y2="1"><stop offset="0" stop-color="#6ccd5a"/><stop offset="0.06" stop-color="#54c568"/><stop offset="0.11" stop-color="#44bf70"/><stop offset="0.22" stop-color="#35b779"/><stop offset="0.26" stop-color="#2db27d"/><stop offset="0.3" stop-color="#21a685"/><stop offset="0.37" stop-color="#218f8d"/><stop offset="0.44" stop-color="#287c8e"/><stop offset="0.51" stop-color="#2e6e8e"/><stop offset="0.63" stop-color="#34618d"/><stop offset="0.72" stop-color="#355e8d"/><stop offset="0.86" stop-color="#33638d"/><stop offset="1" stop-color="#2a788e"/></linearGradient><linearGradient id="c30" x1="0" y1="0" x2="0" y2="1"><stop offset="0" stop-color="#4cc26c"/><stop offset="0.06" stop-color="#3aba76"/><stop offset="0.17" stop-color="#29af7f"/><stop offset="0.22" stop-color="#25ab82"/><stop offset="0.26" stop-color="#20a486"/><stop offset="0.35" stop-color="#24878e"/><stop offset="0.43" stop-color="#2c728e"/><stop offset="0.5" stop-color="#31688e"/><stop offset="0.75" stop-color="#34608d"/><stop offset="0.87" stop-color="#32648e"/><stop offset="1" stop-color="#2b758e"/></linearGradient><linearGradient id="c31" x1="0" y1="0" x2="0" y2="1"><stop offset="0" stop-color="#31b57b"/><stop offset="0.12" stop-color="#22a884"/><stop offset="0.23" stop-color="#1e9d89"/><stop offset="0.32" stop-color="#25838e"/><stop offset="0.4" stop-color="#2d708e"/><stop offset="0.47" stop-color="#31678e"/><stop offset="0.73" stop-color="#31688e"/><stop offset="0.86" stop-color="#30698e"/><stop offset="1" stop-color="#2a778e"/></linearGradient><linearGradient id="c32" x1="0" y1="0" x2="0" y2="1"><stop offset="0" stop-color="#22a785"/><stop offset="0.12" stop-color="#1e9c89"/><stop offset="0.23" stop-color="#218f8d"/><stop offset="0.27" stop-color="#24868e"/><stop offset="0.36" stop-color="#2d708e"/><stop offset="0.44" stop-color="#31688e"/><stop offset="0.72" stop-color="#2c718e"/><stop offset="0.86" stop-color="#2c718e"/><stop offset="1" stop-color="#287c8e"/></linearGradient><linearGradient id="c33" x1="0" y1="0" x2="0" y2="1"><stop offset="0" stop-color="#1e9b8a"/><stop offset="0.12" stop-color="#20928c"/><stop offset="0.23" stop-color="#25838e"/><stop offset="0.32" stop-color="#2c718e"/><stop offset="0.4" stop-color="#30698e"/><stop offset="0.55" stop-color="#2c728e"/><stop offset="0.66" stop-color="#297b8e"/><stop offset="0.83" stop-color="#297a8e"/><stop offset="1" stop-color="#26828e"/></linearGradient><linearGradient id="c34" x1="0" y1="0" x2="0" y2="1"><stop offset="0" stop-color="#21918c"/><stop offset="0.25" stop-color="#29798e"/><stop offset="0.34" stop-color="#2e6d8e"/><stop offset="0.42" stop-color="#2e6e8e"/><stop offset="0.56" stop-color="#297a8e"/><stop offset="0.67" stop-color="#26828e"/><stop offset="0.83" stop-color="#26828e"/><stop offset="1" stop-color="#23888e"/></linearGradient><linearGradient id="c35" x1="0" y1="0" x2="0" y2="1"><stop offset="0" stop-color="#238a8d"/><stop offset="0.25" stop-color="#2a768e"/><stop offset="0.34" stop-color="#2d708e"/><stop offset="0.67" stop-color="#24878e"/><stop offset="1" stop-color="#228d8d"/></linearGradient><linearGradient id="c36" x1="0" y1="0" x2="0" y2="1"><stop offset="0" stop-color="#24878e"/><stop offset="0.25" stop-color="#2a778e"/><stop offset="0.34" stop-color="#2b758e"/><stop offset="0.67" stop-color="#228b8d"/><stop offset="1" stop-color="#21918c"/></linearGradient><linearGradient id="c37" x1="0" y1="0" x2="0" y2="1"><stop offset="0" stop-color="#24868e"/><stop offset="0.25" stop-color="#297b8e"/><stop offset="0.34" stop-color="#297b8e"/><stop offset="0.67" stop-color="#218e8d"/><stop offset="1" stop-color="#20938c"/></linearGradient><linearGradient id="c38" x1="0" y1="0" x2="0" y2="1"><stop offset="0" stop-color="#23888e"/><stop offset="0.25" stop-color="#27808e"/><stop offset="0.34" stop-color="#27808e"/><stop offset="0.67" stop-color="#21908d"/><stop offset="1" stop-color="#1f968b"/></linearGradient><linearGradient id="c39" x1="0" y1="0" x2="0" y2="1"><stop offset="0" stop-color="#238a8d"/><stop offset="0.25" stop-color="#25838e"/><stop offset="0.43" stop-color="#24878e"/><stop offset="0.71" stop-color="#20928c"/><stop offset="1" stop-color="#1f978b"/></linearGradient><linearGradient id="c40" x1="0" y1="0" x2="0" y2="1"><stop offset="0" stop-color="#228c8d"/><stop offset="0.25" stop-color="#24878e"/><stop offset="1" stop-color="#1f988b"/></linearGradient><linearGradient id="c41" x1="0" y1="0" x2="0" y2="1"><stop offset="0" stop-color="#218e8d"/><stop offset="0.25" stop-color="#238a8d"/><stop offset="1" stop-color="#1f998a"/></linearGradient><linearGradient id="c42" x1="0" y1="0" x2="0" y2="1"><stop offset="0" stop-color="#21908d"/><stop offset="0.5" stop-color="#21908d"/><stop offset="1" stop-color="#1e9b8a"/></linearGradient><linearGradient id="c43" x1="0" y1="0" x2="0" y2="1"><stop offset="0" stop-color="#20928c"/><stop offset="0.25" stop-color="#218f8d"/><stop offset="1" stop-color="#1e9c89"/></linearGradient><linearGradient id="c44" x1="0" y1="0" x2="0" y2="1"><stop offset="0" stop-color="#20928c"/><stop offset="0.5" stop-color="#1f948c"/><stop offset="1" stop-color="#1e9d89"/></linearGradient><linearGradient id="c45" x1="0" y1="0" x2="0" y2="1"><stop offset="0" stop-color="#1f948c"/><stop offset="0.25" stop-color="#20928c"/><stop offset="1" stop-color="#1f9e89"/></linearGradient><linearGradient id="c46" x1="0" y1="0" x2="0" y2="1"><stop offset="0" stop-color="#1f968b"/><stop offset="0.5" stop-color="#1f998a"/><stop offset="1" stop-color="#1f9f88"/></linearGradient><linearGradient id="c47" x1="0" y1="0" x2="0" y2="1"><stop offset="0" stop-color="#1f978b"/><stop offset="1" stop-color="#1fa088"/></linearGradient><linearGradient id="c48" x1="0" y1="0" x2="0" y2="1"><stop offset="0" stop-color="#1f998a"/><stop offset="1" stop-color="#1fa188"/></linearGradient><linearGradient id="c49" x1="0" y1="0" x2="0" y2="1"><stop offset="0" stop-color="#1e9b8a"/><stop offset="1" stop-color="#1fa188"/></linearGradient><linearGradient id="c50" x1="0" y1="0" x2="0" y2="1"><stop offset="0" stop-color="#1f9e89"/><stop offset="1" stop-color="#1fa187"/></linearGradient><linearGradient id="c51" x1="0" y1="0" x2="0" y2="1"><stop offset="0" stop-color="#1f9f88"/><stop offset="1" stop-color="#1fa187"/></linearGradient><linearGradient id="c52" x1="0" y1="0" x2="0" y2="1"><stop offset="0" stop-color="#1f9f88"/><stop offset="1" stop-color="#1fa187"/></linearGradient><linearGradient id="c53" x1="0" y1="0" x2="0" y2="1"><stop offset="0" stop-color="#1f9f88"/><stop offset="1" stop-color="#1fa187"/></linearGradient><linearGradient id="c54" x1="0" y1="0" x2="0" y2="1"><stop offset="0" stop-color="#1f9f88"/><stop offset="1" stop-color="#1fa187"/></linearGradient><linearGradient id="c55" x1="0" y1="0" x2="0" y2="1"><stop offset="0" stop-color="#1f9f88"/><stop offset="1" stop-color="#1fa187"/></linearGradient><linearGradient id="c56" x1="0" y1="0" x2="0" y2="1"><stop offset="0" stop-color="#1f9f88"/><stop offset="1" stop-color="#1fa187"/></linearGradient><linearGradient id="c57" x1="0" y1="0" x2="0" y2="1"><stop offset="0" stop-color="#1f9f88"/><stop offset="1" stop-color="#1fa187"/></linearGradient><linearGradient id="c58" x1="0" y1="0" x2="0" y2="1"><stop offset="0" stop-color="#1f9f88"/><stop offset="1" stop-color="#1fa187"/></linearGradient><linearGradient id="c59" x1="0" y1="0" x2="0" y2="1"><stop offset="0" stop-color="#1f9f88"/><stop offset="1" stop-color="#1fa187"/></linearGradient><linearGradient id="c60" x1="0" y1="0" x2="0" y2="1"><stop offset="0" stop-color="#1f9f88"/><stop offset="1" stop-color="#1fa187"/></linearGradient><linearGradient id="c61" x1="0" y1="0" x2="0" y2="1"><stop offset="0" stop-color="#1f9f88"/><stop offset="1" stop-color="#1fa287"/></linearGradient><linearGradient id="c62" x1="0" y1="0" x2="0" y2="1"><stop offset="0" stop-color="#1f9f88"/><stop offset="1" stop-color="#1fa287"/></linearGradient><linearGradient id="c63" x1="0" y1="0" x2="0" y2="1"><stop offset="0" stop-color="#1f9f88"/><stop offset="0.5" stop-color="#1f9e89"/><stop offset="1" stop-color="#1fa287"/></linearGradient><linearGradient id="c64" x1="0" y1="0" x2="0" y2="1"><stop offset="0" stop-color="#1f9f88"/><stop offset="0.5" stop-color="#1e9b8a"/><stop offset="1" stop-color="#20a386"/></linearGradient><linearGradient id="c65" x1="0" y1="0" x2="0" y2="1"><stop offset="0" stop-color="#1f9f88"/><stop offset="0.25" stop-color="#1f9f88"/><stop offset="0.43" stop-color="#1f988b"/><stop offset="0.71" stop-color="#1e9c89"/><stop offset="1" stop-color="#20a486"/></linearGradient><linearGradient id="c66" x1="0" y1="0" x2="0" y2="1"><stop offset="0" stop-color="#1f9f88"/><stop offset="0.25" stop-color="#1f9f88"/><stop offset="0.43" stop-color="#1f988b"/><stop offset="1" stop-color="#21a685"/></linearGradient><linearGradient id="c67" x1="0" y1="0" x2="0" y2="1"><stop offset="0" stop-color="#1f9e89"/><stop offset="0.25" stop-color="#1f9f88"/><stop offset="0.43" stop-color="#1f998a"/><stop offset="1" stop-color="#23a983"/></linearGradient><linearGradient id="c68" x1="0" y1="0" x2="0" y2="1"><stop offset="0" stop-color="#1f9e89"/><stop offset="0.12" stop-color="#1e9c89"/><stop offset="0.34" stop-color="#1e9c89"/><stop offset="0.42" stop-color="#1e9b8a"/><stop offset="0.56" stop-color="#1fa287"/><stop offset="1" stop-color="#25ab82"/></linearGradient><linearGradient id="c69" x1="0" y1="0" x2="0" y2="1"><stop offset="0" stop-color="#1e9d89"/><stop offset="0.12" stop-color="#1f9a8a"/><stop offset="0.23" stop-color="#1e9d89"/><stop offset="0.42" stop-color="#1f9e89"/><stop offset="0.56" stop-color="#22a785"/><stop offset="1" stop-color="#28ae80"/></linearGradient><linearGradient id="c70" x1="0" y1="0" x2="0" y2="1"><stop offset="0" stop-color="#1e9b8a"/><stop offset="0.12" stop-color="#1f988b"/><stop offset="0.23" stop-color="#1e9c89"/><stop offset="0.42" stop-color="#1fa188"/><stop offset="0.56" stop-color="#27ad81"/><stop offset="0.78" stop-color="#2db27d"/><stop offset="0.89" stop-color="#2fb47c"/><stop offset="1" stop-color="#2cb17e"/></linearGradient><linearGradient id="c71" x1="0" y1="0" x2="0" y2="1"><stop offset="0" stop-color="#1f988b"/><stop offset="0.12" stop-color="#1f948c"/><stop offset="0.23" stop-color="#1e9b8a"/><stop offset="0.32" stop-color="#1f9f88"/><stop offset="0.4" stop-color="#1fa287"/><stop offset="0.47" stop-color="#28ae80"/><stop offset="0.6" stop-color="#35b779"/><stop offset="0.8" stop-color="#3aba76"/><stop offset="0.9" stop-color="#3aba76"/><stop offset="1" stop-color="#31b57b"/></linearGradient><linearGradient id="c72" x1="0" y1="0" x2="0" y2="1"><stop offset="0" stop-color="#20938c"/><stop offset="0.12" stop-color="#218e8d"/><stop offset="0.17" stop-color="#21908d"/><stop offset="0.27" stop-color="#1f9f88"/><stop offset="0.36" stop-color="#1fa188"/><stop offset="0.43" stop-color="#29af7f"/><stop offset="0.5" stop-color="#3dbc74"/><stop offset="0.56" stop-color="#46c06f"/><stop offset="0.78" stop-color="#4ec36b"/><stop offset="0.89" stop-color="#4ac16d"/><stop offset="1" stop-color="#38b977"/></linearGradient><linearGradient id="c73" x1="0" y1="0" x2="0" y2="1"><stop offset="0" stop-color="#238a8d"/><stop offset="0.12" stop-color="#25848e"/><stop offset="0.17" stop-color="#23888e"/><stop offset="0.27" stop-color="#1f9e89"/><stop offset="0.36" stop-color="#20a486"/><stop offset="0.41" stop-color="#2eb37c"/><stop offset="0.48" stop-color="#50c46a"/><stop offset="0.54" stop-color="#5ec962"/><stop offset="0.59" stop-color="#67cc5c"/><stop offset="0.69" stop-color="#69cd5b"/><stop offset="0.76" stop-color="#6ccd5a"/><stop offset="0.82" stop-color="#67cc5c"/><stop offset="0.86" stop-color="#63cb5f"/><stop offset="1" stop-color="#40bd72"/></linearGradient><linearGradient id="c74" x1="0" y1="0" x2="0" y2="1"><stop offset="0" stop-color="#297b8e"/><stop offset="0.12" stop-color="#2a778e"/><stop offset="0.16" stop-color="#297b8e"/><stop offset="0.26" stop-color="#1e9b8a"/><stop offset="0.3" stop-color="#20a386"/><stop offset="0.35" stop-color="#21a585"/><stop offset="0.41" stop-color="#42be71"/><stop offset="0.45" stop-color="#60ca60"/><stop offset="0.5" stop-color="#7ad151"/><stop offset="0.56" stop-color="#8bd646"/><stop offset="0.61" stop-color="#90d743"/><stop offset="0.7" stop-color="#93d741"/><stop offset="0.77" stop-color="#90d743"/><stop offset="0.82" stop-color="#86d549"/><stop offset="0.86" stop-color="#7fd34e"/><stop offset="1" stop-color="#48c16e"/></linearGradient><linearGradient id="c75" x1="0" y1="0" x2="0" y2="1"><stop offset="0" stop-color="#34618d"/><stop offset="0.12" stop-color="#32648e"/><stop offset="0.17" stop-color="#2d718e"/><stop offset="0.27" stop-color="#1f9e89"/><stop offset="0.31" stop-color="#23a983"/><stop offset="0.35" stop-color="#26ad81"/><stop offset="0.37" stop-color="#3bbb75"/><stop offset="0.43" stop-color="#7cd250"/><stop offset="0.49" stop-color="#a5db36"/><stop offset="0.55" stop-color="#b5de2b"/><stop offset="0.59" stop-color="#bddf26"/><stop offset="0.69" stop-color="#bddf26"/><stop offset="0.76" stop-color="#bade28"/><stop offset="0.82" stop-color="#a8db34"/><stop offset="0.86" stop-color="#98d83e"/><stop offset="1" stop-color="#50c46a"/></linearGradient><linearGradient id="c76" x1="0" y1="0" x2="0" y2="1"><stop offset="0" stop-color="#453781"/><stop offset="0.12" stop-color="#3d4e8a"/><stop offset="0.17" stop-color="#33638d"/><stop offset="0.22" stop-color="#277f8e"/><stop offset="0.26" stop-color="#1f988b"/><stop offset="0.3" stop-color="#28ae80"/><stop offset="0.35" stop-color="#34b679"/><stop offset="0.38" stop-color="#6ece58"/><stop offset="0.43" stop-color="#aadc32"/><stop offset="0.5" stop-color="#d0e11c"/><stop offset="0.56" stop-color="#dfe318"/><stop offset="0.67" stop-color="#e2e418"/><stop offset="0.75" stop-color="#dfe318"/><stop offset="0.81" stop-color="#c8e020"/><stop offset="0.85" stop-color="#b5de2b"/><stop offset="0.92" stop-color="#86d549"/><stop offset="1" stop-color="#56c667"/></linearGradient><linearGradient id="c77" x1="0" y1="0" x2="0" y2="1"><stop offset="0" stop-color="#460b5e"/><stop offset="0.06" stop-color="#481f70"/><stop offset="0.11" stop-color="#453781"/><stop offset="0.16" stop-color="#3b528b"/><stop offset="0.21" stop-color="#2c728e"/><stop offset="0.25" stop-color="#21908d"/><stop offset="0.27" stop-color="#1fa088"/><stop offset="0.3" stop-color="#2fb47c"/><stop offset="0.35" stop-color="#46c06f"/><stop offset="0.37" stop-color="#7ad151"/><stop offset="0.38" stop-color="#8ed645"/><stop offset="0.42" stop-color="#bddf26"/><stop offset="0.47" stop-color="#dae319"/><stop offset="0.53" stop-color="#ece51b"/><stop offset="0.58" stop-color="#f8e621"/><stop offset="0.68" stop-color="#f4e61e"/><stop offset="0.75" stop-color="#f1e51d"/><stop offset="0.81" stop-color="#d5e21a"/><stop offset="0.85" stop-color="#c2df23"/><stop offset="0.92" stop-color="#8ed645"/><stop offset="0.99" stop-color="#5ec962"/><stop offset="1" stop-color="#5ac864"/></linearGradient><linearGradient id="c78" x1="0" y1="0" x2="0" y2="1"><stop offset="0" stop-color="#440154"/><stop offset="0.06" stop-color="#48186a"/><stop offset="0.11" stop-color="#46327e"/><stop offset="0.16" stop-color="#3c508b"/><stop offset="0.21" stop-color="#2d718e"/><stop offset="0.25" stop-color="#21908d"/><stop offset="0.28" stop-color="#22a785"/><stop offset="0.3" stop-color="#2fb47c"/><stop offset="0.35" stop-color="#42be71"/><stop offset="0.37" stop-color="#75d054"/><stop offset="0.38" stop-color="#89d548"/><stop offset="0.42" stop-color="#bade28"/><stop offset="0.47" stop-color="#d8e219"/><stop offset="0.53" stop-color="#eae51a"/><stop offset="0.58" stop-color="#f6e620"/><stop offset="0.68" stop-color="#f1e51d"/><stop offset="0.75" stop-color="#efe51c"/><stop offset="0.81" stop-color="#d5e21a"/><stop offset="0.85" stop-color="#c2df23"/><stop offset="0.92" stop-color="#8ed645"/><stop offset="0.99" stop-color="#5ec962"/><stop offset="1" stop-color="#5ac864"/></linearGradient><linearGradient id="c79" x1="0" y1="0" x2="0" y2="1"><stop offset="0" stop-color="#482475"/><stop offset="0.06" stop-color="#46327e"/><stop offset="0.11" stop-color="#424186"/><stop offset="0.16" stop-color="#38598c"/><stop offset="0.21" stop-color="#2b758e"/><stop offset="0.25" stop-color="#21918c"/><stop offset="0.28" stop-color="#20a486"/><stop offset="0.32" stop-color="#29af7f"/><stop offset="0.35" stop-color="#31b57b"/><stop offset="0.38" stop-color="#65cb5e"/><stop offset="0.42" stop-color="#98d83e"/><stop offset="0.48" stop-color="#c0df25"/><stop offset="0.54" stop-color="#d2e21b"/><stop offset="0.59" stop-color="#dde318"/><stop offset="0.69" stop-color="#dae319"/><stop offset="0.75" stop-color="#dae319"/><stop offset="0.81" stop-color="#c2df23"/><stop offset="0.85" stop-color="#b2dd2d"/><stop offset="0.92" stop-color="#84d44b"/><stop offset="1" stop-color="#56c667"/></linearGradient><linearGradient id="c80" x1="0" y1="0" x2="0" y2="1"><stop offset="0" stop-color="#3b518b"/><stop offset="0.12" stop-color="#365c8d"/><stop offset="0.16" stop-color="#31678e"/><stop offset="0.26" stop-color="#1f998a"/><stop offset="0.3" stop-color="#21a685"/><stop offset="0.35" stop-color="#25ab82"/><stop offset="0.4" stop-color="#54c568"/><stop offset="0.44" stop-color="#7ad151"/><stop offset="0.49" stop-color="#9bd93c"/><stop offset="0.55" stop-color="#addc30"/><stop offset="0.6" stop-color="#b5de2b"/><stop offset="0.7" stop-color="#b5de2b"/><stop offset="0.76" stop-color="#b2dd2d"/><stop offset="0.82" stop-color="#a2da37"/><stop offset="0.86" stop-color="#93d741"/><stop offset="1" stop-color="#50c46a"/></linearGradient><linearGradient id="c81" x1="0" y1="0" x2="0" y2="1"><stop offset="0" stop-color="#2c718e"/><stop offset="0.12" stop-color="#2d718e"/><stop offset="0.16" stop-color="#2b758e"/><stop offset="0.26" stop-color="#1e9b8a"/><stop offset="0.3" stop-color="#1fa287"/><stop offset="0.36" stop-color="#22a884"/><stop offset="0.41" stop-color="#3dbc74"/><stop offset="0.48" stop-color="#6ccd5a"/><stop offset="0.54" stop-color="#7cd250"/><stop offset="0.59" stop-color="#86d549"/><stop offset="0.69" stop-color="#89d548"/><stop offset="0.76" stop-color="#89d548"/><stop offset="0.82" stop-color="#81d34d"/><stop offset="0.91" stop-color="#67cc5c"/><stop offset="1" stop-color="#46c06f"/></linearGradient><linearGradient id="c82" x1="0" y1="0" x2="0" y2="1"><stop offset="0" stop-color="#25858e"/><stop offset="0.12" stop-color="#27808e"/><stop offset="0.17" stop-color="#25848e"/><stop offset="0.27" stop-color="#1f9e89"/><stop offset="0.36" stop-color="#20a386"/><stop offset="0.41" stop-color="#2cb17e"/><stop offset="0.48" stop-color="#4ac16d"/><stop offset="0.54" stop-color="#58c765"/><stop offset="0.59" stop-color="#60ca60"/><stop offset="0.69" stop-color="#63cb5f"/><stop offset="0.76" stop-color="#65cb5e"/><stop offset="0.82" stop-color="#63cb5f"/><stop offset="0.91" stop-color="#56c667"/><stop offset="1" stop-color="#3fbc73"/></linearGradient><linearGradient id="c83" x1="0" y1="0" x2="0" y2="1"><stop offset="0" stop-color="#21918c"/><stop offset="0.12" stop-color="#228b8d"/><stop offset="0.17" stop-color="#228d8d"/><stop offset="0.27" stop-color="#1f9e89"/><stop offset="0.36" stop-color="#1fa188"/><stop offset="0.44" stop-color="#29af7f"/><stop offset="0.51" stop-color="#3aba76"/><stop offset="0.57" stop-color="#42be71"/><stop offset="0.78" stop-color="#4ac16d"/><stop offset="0.89" stop-color="#46c06f"/><stop offset="1" stop-color="#37b878"/></linearGradient><linearGradient id="c84" x1="0" y1="0" x2="0" y2="1"><stop offset="0" stop-color="#1f968b"/><stop offset="0.12" stop-color="#20928c"/><stop offset="0.17" stop-color="#20938c"/><stop offset="0.27" stop-color="#1f9f88"/><stop offset="0.36" stop-color="#1f9e89"/><stop offset="0.44" stop-color="#22a884"/><stop offset="0.58" stop-color="#31b57b"/><stop offset="0.79" stop-color="#37b878"/><stop offset="0.89" stop-color="#38b977"/><stop offset="1" stop-color="#31b57b"/></linearGradient><linearGradient id="c85" x1="0" y1="0" x2="0" y2="1"><stop offset="0" stop-color="#1f9a8a"/><stop offset="0.12" stop-color="#1f968b"/><stop offset="0.23" stop-color="#1e9c89"/><stop offset="0.42" stop-color="#1fa188"/><stop offset="0.56" stop-color="#26ad81"/><stop offset="0.78" stop-color="#2ab07f"/><stop offset="0.89" stop-color="#2eb37c"/><stop offset="1" stop-color="#2cb17e"/></linearGradient><linearGradient id="c86" x1="0" y1="0" x2="0" y2="1"><stop offset="0" stop-color="#1e9c89"/><stop offset="0.12" stop-color="#1f998a"/><stop offset="0.23" stop-color="#1e9d89"/><stop offset="0.42" stop-color="#1e9d89"/><stop offset="0.56" stop-color="#21a685"/><stop offset="1" stop-color="#27ad81"/></linearGradient><linearGradient id="c87" x1="0" y1="0" x2="0" y2="1"><stop offset="0" stop-color="#1e9d89"/><stop offset="0.25" stop-color="#1f9e89"/><stop offset="0.43" stop-color="#1e9b8a"/><stop offset="0.57" stop-color="#1fa287"/><stop offset="1" stop-color="#25ab82"/></linearGradient><linearGradient id="c88" x1="0" y1="0" x2="0" y2="1"><stop offset="0" stop-color="#1f9e89"/><stop offset="0.25" stop-color="#1f9f88"/><stop offset="0.43" stop-color="#1f998a"/><stop offset="1" stop-color="#22a884"/></linearGradient><linearGradient id="c89" x1="0" y1="0" x2="0" y2="1"><stop offset="0" stop-color="#1f9f88"/><stop offset="0.25" stop-color="#1f9f88"/><stop offset="0.43" stop-color="#1f978b"/><stop offset="1" stop-color="#21a685"/></linearGradient><linearGradient id="c90" x1="0" y1="0" x2="0" y2="1"><stop offset="0" stop-color="#1f9f88"/><stop offset="0.25" stop-color="#1f9f88"/><stop offset="0.43" stop-color="#1f988b"/><stop offset="0.71" stop-color="#1e9c89"/><stop offset="1" stop-color="#20a486"/></linearGradient><linearGradient id="c91" x1="0" y1="0" x2="0" y2="1"><stop offset="0" stop-color="#1f9f88"/><stop offset="0.5" stop-color="#1e9c89"/><stop offset="1" stop-color="#20a386"/></linearGradient><linearGradient id="c92" x1="0" y1="0" x2="0" y2="1"><stop offset="0" stop-color="#1f9f88"/><stop offset="0.5" stop-color="#1f9e89"/><stop offset="1" stop-color="#1fa287"/></linearGradient><linearGradient id="c93" x1="0" y1="0" x2="0" y2="1"><stop offset="0" stop-color="#1f9f88"/><stop offset="1" stop-color="#1fa287"/></linearGradient><linearGradient id="c94" x1="0" y1="0" x2="0" y2="1"><stop offset="0" stop-color="#1f9f88"/><stop offset="1" stop-color="#1fa287"/></linearGradient><linearGradient id="c95" x1="0" y1="0" x2="0" y2="1"><stop offset="0" stop-color="#1f9f88"/><stop offset="1" stop-color="#1fa287"/></linearGradient><linearGradient id="c96" x1="0" y1="0" x2="0" y2="1"><stop offset="0" stop-color="#1f9f88"/><stop offset="1" stop-color="#1fa187"/></linearGradient><linearGradient id="c97" x1="0" y1="0" x2="0" y2="1"><stop offset="0" stop-color="#1f9f88"/><stop offset="1" stop-color="#1fa187"/></linearGradient><linearGradient id="c98" x1="0" y1="0" x2="0" y2="1"><stop offset="0" stop-color="#1f9f88"/><stop offset="1" stop-color="#1fa187"/></linearGradient><linearGradient id="c99" x1="0" y1="0" x2="0" y2="1"><stop offset="0" stop-color="#1f9f88"/><stop offset="1" stop-color="#1fa187"/></linearGradient><linearGradient id="c100" x1="0" y1="0" x2="0" y2="1"><stop offset="0" stop-color="#1f9f88"/><stop offset="1" stop-color="#1fa187"/></linearGradient><linearGradient id="c101" x1="0" y1="0" x2="0" y2="1"><stop offset="0" stop-color="#1f9f88"/><stop offset="1" stop-color="#1fa187"/></linearGradient><linearGradient id="c102" x1="0" y1="0" x2="0" y2="1"><stop offset="0" stop-color="#1f9f88"/><stop offset="1" stop-color="#1fa187"/></linearGradient><linearGradient id="c103" x1="0" y1="0" x2="0" y2="1"><stop offset="0" stop-color="#1f9f88"/><stop offset="1" stop-color="#1fa187"/></linearGradient><linearGradient id="c104" x1="0" y1="0" x2="0" y2="1"><stop offset="0" stop-color="#1f9f88"/><stop offset="1" stop-color="#1fa187"/></linearGradient><linearGradient id="c105" x1="0" y1="0" x2="0" y2="1"><stop offset="0" stop-color="#1f9e89"/><stop offset="1" stop-color="#1fa187"/></linearGradient><linearGradient id="c106" x1="0" y1="0" x2="0" y2="1"><stop offset="0" stop-color="#1e9c89"/><stop offset="1" stop-color="#1fa187"/></linearGradient><linearGradient id="c107" x1="0" y1="0" x2="0" y2="1"><stop offset="0" stop-color="#1f9a8a"/><stop offset="1" stop-color="#1fa188"/></linearGradient><linearGradient id="c108" x1="0" y1="0" x2="0" y2="1"><stop offset="0" stop-color="#1f978b"/><stop offset="1" stop-color="#1fa088"/></linearGradient><linearGradient id="c109" x1="0" y1="0" x2="0" y2="1"><stop offset="0" stop-color="#1f958b"/><stop offset="0.5" stop-color="#1f998a"/><stop offset="1" stop-color="#1f9f88"/></linearGradient><linearGradient id="c110" x1="0" y1="0" x2="0" y2="1"><stop offset="0" stop-color="#1f948c"/><stop offset="0.25" stop-color="#20928c"/><stop offset="1" stop-color="#1f9e89"/></linearGradient><linearGradient id="c111" x1="0" y1="0" x2="0" y2="1"><stop offset="0" stop-color="#20928c"/><stop offset="0.25" stop-color="#21918c"/><stop offset="1" stop-color="#1e9d89"/></linearGradient><linearGradient id="c112" x1="0" y1="0" x2="0" y2="1"><stop offset="0" stop-color="#20928c"/><stop offset="0.25" stop-color="#218f8d"/><stop offset="1" stop-color="#1e9c89"/></linearGradient><linearGradient id="c113" x1="0" y1="0" x2="0" y2="1"><stop offset="0" stop-color="#21908d"/><stop offset="0.25" stop-color="#228c8d"/><stop offset="1" stop-color="#1f9a8a"/></linearGradient><linearGradient id="c114" x1="0" y1="0" x2="0" y2="1"><stop offset="0" stop-color="#228d8d"/><stop offset="0.25" stop-color="#23888e"/><stop offset="1" stop-color="#1f998a"/></linearGradient><linearGradient id="c115" x1="0" y1="0" x2="0" y2="1"><stop offset="0" stop-color="#238a8d"/><stop offset="0.25" stop-color="#25838e"/><stop offset="0.43" stop-color="#24868e"/><stop offset="0.71" stop-color="#20928c"/><stop offset="1" stop-color="#1f978b"/></linearGradient><linearGradient id="c116" x1="0" y1="0" x2="0" y2="1"><stop offset="0" stop-color="#24878e"/><stop offset="0.25" stop-color="#277f8e"/><stop offset="0.43" stop-color="#25838e"/><stop offset="0.71" stop-color="#21918c"/><stop offset="1" stop-color="#1f958b"/></linearGradient><linearGradient id="c117" x1="0" y1="0" x2="0" y2="1"><stop offset="0" stop-color="#24868e"/><stop offset="0.25" stop-color="#297a8e"/><stop offset="0.34" stop-color="#297a8e"/><stop offset="0.67" stop-color="#218e8d"/><stop offset="1" stop-color="#20938c"/></linearGradient><linearGradient id="c118" x1="0" y1="0" x2="0" y2="1"><stop offset="0" stop-color="#24878e"/><stop offset="0.25" stop-color="#2a768e"/><stop offset="0.34" stop-color="#2b748e"/><stop offset="0.67" stop-color="#228b8d"/><stop offset="1" stop-color="#21918c"/></linearGradient><linearGradient id="c119" x1="0" y1="0" x2="0" y2="1"><stop offset="0" stop-color="#228b8d"/><stop offset="0.25" stop-color="#2a768e"/><stop offset="0.34" stop-color="#2e6f8e"/><stop offset="0.67" stop-color="#24868e"/><stop offset="1" stop-color="#228c8d"/></linearGradient><linearGradient id="c120" x1="0" y1="0" x2="0" y2="1"><stop offset="0" stop-color="#20928c"/><stop offset="0.12" stop-color="#238a8d"/><stop offset="0.34" stop-color="#2e6d8e"/><stop offset="0.42" stop-color="#2e6d8e"/><stop offset="0.56" stop-color="#29798e"/><stop offset="0.67" stop-color="#26818e"/><stop offset="0.83" stop-color="#26818e"/><stop offset="1" stop-color="#24878e"/></linearGradient><linearGradient id="c121" x1="0" y1="0" x2="0" y2="1"><stop offset="0" stop-color="#1e9d89"/><stop offset="0.25" stop-color="#25838e"/><stop offset="0.34" stop-color="#2e6f8e"/><stop offset="0.42" stop-color="#30698e"/><stop offset="0.56" stop-color="#2c718e"/><stop offset="0.67" stop-color="#29798e"/><stop offset="0.83" stop-color="#2a788e"/><stop offset="1" stop-color="#26818e"/></linearGradient><linearGradient id="c122" x1="0" y1="0" x2="0" y2="1"><stop offset="0" stop-color="#24aa83"/><stop offset="0.12" stop-color="#1f9f88"/><stop offset="0.23" stop-color="#20928c"/><stop offset="0.32" stop-color="#297a8e"/><stop offset="0.4" stop-color="#2f6b8e"/><stop offset="0.47" stop-color="#31678e"/><stop offset="0.6" stop-color="#2e6d8e"/><stop offset="0.8" stop-color="#2e6f8e"/><stop offset="0.9" stop-color="#2c718e"/><stop offset="1" stop-color="#297b8e"/></linearGradient><linearGradient id="c123" x1="0" y1="0" x2="0" y2="1"><stop offset="0" stop-color="#35b779"/><stop offset="0.12" stop-color="#24aa83"/><stop offset="0.23" stop-color="#1f9f88"/><stop offset="0.27" stop-color="#1f968b"/><stop offset="0.36" stop-color="#297a8e"/><stop offset="0.44" stop-color="#2f6b8e"/><stop offset="0.58" stop-color="#32658e"/><stop offset="0.79" stop-color="#31668e"/><stop offset="0.89" stop-color="#306a8e"/><stop offset="1" stop-color="#2a768e"/></linearGradient><linearGradient id="c124" x1="0" y1="0" x2="0" y2="1"><stop offset="0" stop-color="#52c569"/><stop offset="0.06" stop-color="#3fbc73"/><stop offset="0.11" stop-color="#34b679"/><stop offset="0.22" stop-color="#27ad81"/><stop offset="0.26" stop-color="#22a785"/><stop offset="0.3" stop-color="#1f9a8a"/><stop offset="0.38" stop-color="#26818e"/><stop offset="0.45" stop-color="#2d718e"/><stop offset="0.58" stop-color="#33638d"/><stop offset="0.79" stop-color="#34608d"/><stop offset="0.89" stop-color="#31668e"/><stop offset="1" stop-color="#2b758e"/></linearGradient><linearGradient id="c125" x1="0" y1="0" x2="0" y2="1"><stop offset="0" stop-color="#70cf57"/><stop offset="0.06" stop-color="#58c765"/><stop offset="0.11" stop-color="#4ac16d"/><stop offset="0.22" stop-color="#3aba76"/><stop offset="0.26" stop-color="#31b57b"/><stop offset="0.3" stop-color="#23a983"/><stop offset="0.36" stop-color="#1f948c"/><stop offset="0.44" stop-color="#277f8e"/><stop offset="0.51" stop-color="#2d708e"/><stop offset="0.63" stop-color="#33628d"/><stop offset="0.72" stop-color="#355e8d"/><stop offset="0.86" stop-color="#32648e"/><stop offset="1" stop-color="#29798e"/></linearGradient><linearGradient id="c126" x1="0" y1="0" x2="0" y2="1"><stop offset="0" stop-color="#84d44b"/><stop offset="0.12" stop-color="#5ec962"/><stop offset="0.23" stop-color="#50c46a"/><stop offset="0.25" stop-color="#4ec36b"/><stop offset="0.29" stop-color="#38b977"/><stop offset="0.35" stop-color="#21a685"/><stop offset="0.43" stop-color="#218f8d"/><stop offset="0.5" stop-color="#287c8e"/><stop offset="0.62" stop-color="#2f6b8e"/><stop offset="0.71" stop-color="#32658e"/><stop offset="0.78" stop-color="#31668e"/><stop offset="0.89" stop-color="#2d708e"/><stop offset="1" stop-color="#27808e"/></linearGradient><linearGradient id="c127" x1="0" y1="0" x2="0" y2="1"><stop offset="0" stop-color="#86d549"/><stop offset="0.06" stop-color="#86d549"/><stop offset="0.11" stop-color="#77d153"/><stop offset="0.22" stop-color="#69cd5b"/><stop offset="0.26" stop-color="#60ca60"/><stop offset="0.35" stop-color="#2fb47c"/><stop offset="0.4" stop-color="#21a585"/><stop offset="0.47" stop-color="#20928c"/><stop offset="0.53" stop-color="#25858e"/><stop offset="0.64" stop-color="#2c738e"/><stop offset="0.73" stop-color="#2e6f8e"/><stop offset="0.86" stop-color="#2a768e"/><stop offset="1" stop-color="#24878e"/></linearGradient><linearGradient id="c128" x1="0" y1="0" x2="0" y2="1"><stop offset="0" stop-color="#7ad151"/><stop offset="0.05" stop-color="#8bd646"/><stop offset="0.09" stop-color="#8bd646"/><stop offset="0.2" stop-color="#7fd34e"/><stop offset="0.25" stop-color="#7ad151"/><stop offset="0.34" stop-color="#4cc26c"/><stop offset="0.42" stop-color="#27ad81"/><stop offset="0.49" stop-color="#1f9a8a"/><stop offset="0.61" stop-color="#24868e"/><stop offset="0.7" stop-color="#277e8e"/><stop offset="0.77" stop-color="#287c8e"/><stop offset="1" stop-color="#21908d"/></linearGradient><linearGradient id="c129" x1="0" y1="0" x2="0" y2="1"><stop offset="0" stop-color="#65cb5e"/><stop offset="0.05" stop-color="#84d44b"/><stop offset="0.1" stop-color="#8ed645"/><stop offset="0.21" stop-color="#8bd646"/><stop offset="0.25" stop-color="#89d548"/><stop offset="0.29" stop-color="#7ad151"/><stop offset="0.37" stop-color="#54c568"/><stop offset="0.44" stop-color="#31b57b"/><stop offset="0.51" stop-color="#20a386"/><stop offset="0.63" stop-color="#21918c"/><stop offset="0.72" stop-color="#23898e"/><stop offset="0.86" stop-color="#228b8d"/><stop offset="1" stop-color="#1f968b"/></linearGradient><linearGradient id="c130" x1="0" y1="0" x2="0" y2="1"><stop offset="0" stop-color="#54c568"/><stop offset="0.06" stop-color="#7ad151"/><stop offset="0.11" stop-color="#8bd646"/><stop offset="0.22" stop-color="#8bd646"/><stop offset="0.26" stop-color="#8bd646"/><stop offset="0.3" stop-color="#84d44b"/><stop offset="0.37" stop-color="#69cd5b"/><stop offset="0.44" stop-color="#44bf70"/><stop offset="0.51" stop-color="#29af7f"/><stop offset="0.57" stop-color="#21a585"/><stop offset="0.67" stop-color="#1f988b"/><stop offset="0.83" stop-color="#20928c"/><stop offset="1" stop-color="#1e9b8a"/></linearGradient><linearGradient id="c131" x1="0" y1="0" x2="0" y2="1"><stop offset="0" stop-color="#48c16e"/><stop offset="0.06" stop-color="#67cc5c"/><stop offset="0.11" stop-color="#81d34d"/><stop offset="0.16" stop-color="#86d549"/><stop offset="0.26" stop-color="#86d549"/><stop offset="0.3" stop-color="#86d549"/><stop offset="0.36" stop-color="#7cd250"/><stop offset="0.44" stop-color="#56c667"/><stop offset="0.51" stop-color="#37b878"/><stop offset="0.57" stop-color="#28ae80"/><stop offset="0.67" stop-color="#1fa187"/><stop offset="0.83" stop-color="#1f9a8a"/><stop offset="1" stop-color="#1f9f88"/></linearGradient><linearGradient id="c132" x1="0" y1="0" x2="0" y2="1"><stop offset="0" stop-color="#3fbc73"/><stop offset="0.06" stop-color="#58c765"/><stop offset="0.11" stop-color="#73d056"/><stop offset="0.14" stop-color="#7ad151"/><stop offset="0.24" stop-color="#7ad151"/><stop offset="0.33" stop-color="#81d34d"/><stop offset="0.38" stop-color="#7cd250"/><stop offset="0.53" stop-color="#3dbc74"/><stop offset="0.64" stop-color="#25ac82"/><stop offset="0.82" stop-color="#1f9f88"/><stop offset="1" stop-color="#1fa187"/></linearGradient><linearGradient id="c133" x1="0" y1="0" x2="0" y2="1"><stop offset="0" stop-color="#3aba76"/><stop offset="0.06" stop-color="#4cc26c"/><stop offset="0.11" stop-color="#63cb5f"/><stop offset="0.13" stop-color="#6ccd5a"/><stop offset="0.23" stop-color="#6ccd5a"/><stop offset="0.32" stop-color="#75d054"/><stop offset="0.37" stop-color="#7ad151"/><stop offset="0.52" stop-color="#48c16e"/><stop offset="0.64" stop-color="#2ab07f"/><stop offset="0.82" stop-color="#1fa287"/><stop offset="1" stop-color="#20a386"/></linearGradient><linearGradient id="c134" x1="0" y1="0" x2="0" y2="1"><stop offset="0" stop-color="#37b878"/><stop offset="0.06" stop-color="#44bf70"/><stop offset="0.11" stop-color="#56c667"/><stop offset="0.16" stop-color="#5ec962"/><stop offset="0.26" stop-color="#60ca60"/><stop offset="0.35" stop-color="#6ccd5a"/><stop offset="0.39" stop-color="#6ccd5a"/><stop offset="0.54" stop-color="#46c06f"/><stop offset="0.65" stop-color="#2eb37c"/><stop offset="0.73" stop-color="#25ab82"/><stop offset="0.86" stop-color="#20a486"/><stop offset="1" stop-color="#20a486"/></linearGradient><linearGradient id="c135" x1="0" y1="0" x2="0" y2="1"><stop offset="0" stop-color="#34b679"/><stop offset="0.06" stop-color="#3dbc74"/><stop offset="0.11" stop-color="#4cc26c"/><stop offset="0.15" stop-color="#52c569"/><stop offset="0.25" stop-color="#54c568"/><stop offset="0.34" stop-color="#5ec962"/><stop offset="0.4" stop-color="#5ec962"/><stop offset="0.47" stop-color="#50c46a"/><stop offset="0.6" stop-color="#3aba76"/><stop offset="0.7" stop-color="#2ab07f"/><stop offset="0.85" stop-color="#21a685"/><stop offset="1" stop-color="#21a585"/></linearGradient><linearGradient id="c136" x1="0" y1="0" x2="0" y2="1"><stop offset="0" stop-color="#31b57b"/><stop offset="0.06" stop-color="#37b878"/><stop offset="0.11" stop-color="#40bd72"/><stop offset="0.33" stop-color="#4cc26c"/><stop offset="0.4" stop-color="#4ec36b"/><stop offset="0.47" stop-color="#44bf70"/><stop offset="0.6" stop-color="#3aba76"/><stop offset="0.8" stop-color="#24aa83"/><stop offset="1" stop-color="#21a685"/></linearGradient><linearGradient id="c137" x1="0" y1="0" x2="0" y2="1"><stop offset="0" stop-color="#2eb37c"/><stop offset="0.12" stop-color="#38b977"/><stop offset="0.34" stop-color="#3dbc74"/><stop offset="0.42" stop-color="#3bbb75"/><stop offset="0.56" stop-color="#37b878"/><stop offset="0.78" stop-color="#25ac82"/><stop offset="1" stop-color="#22a785"/></linearGradient><linearGradient id="c138" x1="0" y1="0" x2="0" y2="1"><stop offset="0" stop-color="#2cb17e"/><stop offset="0.25" stop-color="#34b679"/><stop offset="0.43" stop-color="#34b679"/><stop offset="0.71" stop-color="#29af7f"/><stop offset="0.85" stop-color="#23a983"/><stop offset="1" stop-color="#22a785"/></linearGradient><linearGradient id="c139" x1="0" y1="0" x2="0" y2="1"><stop offset="0" stop-color="#29af7f"/><stop offset="0.25" stop-color="#2eb37c"/><stop offset="0.62" stop-color="#2cb17e"/><stop offset="0.81" stop-color="#24aa83"/><stop offset="1" stop-color="#22a884"/></linearGradient><linearGradient id="c140" x1="0" y1="0" x2="0" y2="1"><stop offset="0" stop-color="#27ad81"/><stop offset="0.5" stop-color="#2ab07f"/><stop offset="1" stop-color="#22a884"/></linearGradient><linearGradient id="c141" x1="0" y1="0" x2="0" y2="1"><stop offset="0" stop-color="#26ad81"/><stop offset="0.5" stop-color="#28ae80"/><stop offset="1" stop-color="#22a884"/></linearGradient><linearGradient id="c142" x1="0" y1="0" x2="0" y2="1"><stop offset="0" stop-color="#25ac82"/><stop offset="0.5" stop-color="#26ad81"/><stop offset="1" stop-color="#22a884"/></linearGradient><linearGradient id="c143" x1="0" y1="0" x2="0" y2="1"><stop offset="0" stop-color="#24aa83"/><stop offset="1" stop-color="#22a884"/></linearGradient><linearGradient id="c144" x1="0" y1="0" x2="0" y2="1"><stop offset="0" stop-color="#23a983"/><stop offset="1" stop-color="#22a884"/></linearGradient><linearGradient id="c145" x1="0" y1="0" x2="0" y2="1"><stop offset="0" stop-color="#23a983"/><stop offset="1" stop-color="#22a884"/></linearGradient><linearGradient id="c146" x1="0" y1="0" x2="0" y2="1"><stop offset="0" stop-color="#23a983"/><stop offset="1" stop-color="#22a884"/></linearGradient><linearGradient id="c147" x1="0" y1="0" x2="0" y2="1"><stop offset="0" stop-color="#23a983"/><stop offset="1" stop-color="#22a884"/></linearGradient><linearGradient id="c148" x1="0" y1="0" x2="0" y2="1"><stop offset="0" stop-color="#23a983"/><stop offset="1" stop-color="#22a884"/></linearGradient><linearGradient id="c149" x1="0" y1="0" x2="0" y2="1"><stop offset="0" stop-color="#23a983"/><stop offset="1" stop-color="#22a884"/></linearGradient><linearGradient id="c150" x1="0" y1="0" x2="0" y2="1"><stop offset="0" stop-color="#23a983"/><stop offset="1" stop-color="#22a884"/></linearGradient><linearGradient id="c151" x1="0" y1="0" x2="0" y2="1"><stop offset="0" stop-color="#23a983"/><stop offset="1" stop-color="#22a884"/></linearGradient><linearGradient id="c152" x1="0" y1="0" x2="0" y2="1"><stop offset="0" stop-color="#23a983"/><stop offset="1" stop-color="#22a884"/></linearGradient><linearGradient id="c153" x1="0" y1="0" x2="0" y2="1"><stop offset="0" stop-color="#23a983"/><stop offset="1" stop-color="#22a884"/></linearGradient><linearGradient id="c154" x1="0" y1="0" x2="0" y2="1"><stop offset="0" stop-color="#23a983"/><stop offset="1" stop-color="#22a884"/></linearGradient><linearGradient id="c155" x1="0" y1="0" x2="0" y2="1"><stop offset="0" stop-color="#23a983"/><stop offset="1" stop-color="#22a884"/></linearGradient><linearGradient id="c156" x1="0" y1="0" x2="0" y2="1"><stop offset="0" stop-color="#23a983"/><stop offset="1" stop-color="#22a884"/></linearGradient></defs>
<g shape-rendering="crispEdges"><rect x="111.80" y="483.50" width="8.60" height="401.10" fill="url(#c0)"/><rect x="119.80" y="483.50" width="8.60" height="401.10" fill="url(#c1)"/><rect x="127.80" y="483.50" width="8.60" height="401.10" fill="url(#c2)"/><rect x="135.80" y="483.50" width="8.60" height="401.10" fill="url(#c3)"/><rect x="143.80" y="483.50" width="8.60" height="401.10" fill="url(#c4)"/><rect x="151.80" y="483.50" width="8.60" height="401.10" fill="url(#c5)"/><rect x="159.80" y="483.50" width="8.60" height="401.10" fill="url(#c6)"/><rect x="167.80" y="483.50" width="8.60" height="401.10" fill="url(#c7)"/><rect x="175.80" y="483.50" width="8.60" height="401.10" fill="url(#c8)"/><rect x="183.80" y="483.50" width="8.60" height="401.10" fill="url(#c9)"/><rect x="191.80" y="483.50" width="4.60" height="401.10" fill="url(#c10)"/><rect x="195.80" y="483.50" width="4.60" height="401.10" fill="url(#c11)"/><rect x="199.80" y="483.50" width="4.60" height="401.10" fill="url(#c12)"/><rect x="203.80" y="483.50" width="4.60" height="401.10" fill="url(#c13)"/><rect x="207.80" y="483.50" width="2.60" height="401.10" fill="url(#c14)"/><rect x="209.80" y="483.50" width="2.60" height="401.10" fill="url(#c15)"/><rect x="211.80" y="483.50" width="2.60" height="401.10" fill="url(#c16)"/><rect x="213.80" y="483.50" width="2.60" height="401.10" fill="url(#c17)"/><rect x="215.80" y="483.50" width="2.60" height="401.10" fill="url(#c18)"/><rect x="217.80" y="483.50" width="2.60" height="401.10" fill="url(#c19)"/><rect x="219.80" y="483.50" width="1.60" height="401.10" fill="url(#c20)"/><rect x="220.80" y="483.50" width="1.60" height="401.10" fill="url(#c21)"/><rect x="221.80" y="483.50" width="1.60" height="401.10" fill="url(#c22)"/><rect x="222.80" y="483.50" width="1.60" height="401.10" fill="url(#c23)"/><rect x="223.80" y="483.50" width="1.60" height="401.10" fill="url(#c24)"/><rect x="224.80" y="483.50" width="1.60" height="401.10" fill="url(#c25)"/><rect x="225.80" y="483.50" width="1.60" height="401.10" fill="url(#c26)"/><rect x="226.80" y="483.50" width="1.60" height="401.10" fill="url(#c27)"/><rect x="227.80" y="483.50" width="1.60" height="401.10" fill="url(#c28)"/><rect x="228.80" y="483.50" width="1.60" height="401.10" fill="url(#c29)"/><rect x="229.80" y="483.50" width="1.60" height="401.10" fill="url(#c30)"/><rect x="230.80" y="483.50" width="1.60" height="401.10" fill="url(#c31)"/><rect x="231.80" y="483.50" width="1.60" height="401.10" fill="url(#c32)"/><rect x="232.80" y="483.50" width="1.60" height="401.10" fill="url(#c33)"/><rect x="233.80" y="483.50" width="1.60" height="401.10" fill="url(#c34)"/><rect x="234.80" y="483.50" width="1.60" height="401.10" fill="url(#c35)"/><rect x="235.80" y="483.50" width="1.60" height="401.10" fill="url(#c36)"/><rect x="236.80" y="483.50" width="1.60" height="401.10" fill="url(#c37)"/><rect x="237.80" y="483.50" width="1.60" height="401.10" fill="url(#c38)"/><rect x="238.80" y="483.50" width="1.60" height="401.10" fill="url(#c39)"/><rect x="239.80" y="483.50" width="1.60" height="401.10" fill="url(#c40)"/><rect x="240.80" y="483.50" width="1.60" height="401.10" fill="url(#c41)"/><rect x="241.80" y="483.50" width="2.60" height="401.10" fill="url(#c42)"/><rect x="243.80" y="483.50" width="2.60" height="401.10" fill="url(#c43)"/><rect x="245.80" y="483.50" width="2.60" height="401.10" fill="url(#c44)"/><rect x="247.80" y="483.50" width="2.60" height="401.10" fill="url(#c45)"/><rect x="249.80" y="483.50" width="2.60" height="401.10" fill="url(#c46)"/><rect x="251.80" y="483.50" width="2.60" height="401.10" fill="url(#c47)"/><rect x="253.80" y="483.50" width="2.60" height="401.10" fill="url(#c48)"/><rect x="255.80" y="483.50" width="4.60" height="401.10" fill="url(#c49)"/><rect x="259.80" y="483.50" width="4.60" height="401.10" fill="url(#c50)"/><rect x="263.80" y="483.50" width="4.60" height="401.10" fill="url(#c51)"/><rect x="267.80" y="483.50" width="4.60" height="401.10" fill="url(#c52)"/><rect x="271.80" y="483.50" width="8.60" height="401.10" fill="url(#c53)"/><rect x="279.80" y="483.50" width="8.60" height="401.10" fill="url(#c54)"/><rect x="287.80" y="483.50" width="8.60" height="401.10" fill="url(#c55)"/><rect x="295.80" y="483.50" width="8.60" height="401.10" fill="url(#c56)"/><rect x="303.80" y="483.50" width="8.60" height="401.10" fill="url(#c57)"/><rect x="311.80" y="483.50" width="4.60" height="401.10" fill="url(#c58)"/><rect x="315.80" y="483.50" width="4.60" height="401.10" fill="url(#c59)"/><rect x="319.80" y="483.50" width="4.60" height="401.10" fill="url(#c60)"/><rect x="323.80" y="483.50" width="2.60" height="401.10" fill="url(#c61)"/><rect x="325.80" y="483.50" width="2.60" height="401.10" fill="url(#c62)"/><rect x="327.80" y="483.50" width="2.60" height="401.10" fill="url(#c63)"/><rect x="329.80" y="483.50" width="2.60" height="401.10" fill="url(#c64)"/><rect x="331.80" y="483.50" width="2.60" height="401.10" fill="url(#c65)"/><rect x="333.80" y="483.50" width="2.60" height="401.10" fill="url(#c66)"/><rect x="335.80" y="483.50" width="1.60" height="401.10" fill="url(#c67)"/><rect x="336.80" y="483.50" width="1.60" height="401.10" fill="url(#c68)"/><rect x="337.80" y="483.50" width="1.60" height="401.10" fill="url(#c69)"/><rect x="338.80" y="483.50" width="1.60" height="401.10" fill="url(#c70)"/><rect x="339.80" y="483.50" width="1.60" height="401.10" fill="url(#c71)"/><rect x="340.80" y="483.50" width="1.60" height="401.10" fill="url(#c72)"/><rect x="341.80" y="483.50" width="1.60" height="401.10" fill="url(#c73)"/><rect x="342.80" y="483.50" width="1.60" height="401.10" fill="url(#c74)"/><rect x="343.80" y="483.50" width="1.60" height="401.10" fill="url(#c75)"/><rect x="344.80" y="483.50" width="1.60" height="401.10" fill="url(#c76)"/><rect x="345.80" y="483.50" width="1.60" height="401.10" fill="url(#c77)"/><rect x="346.80" y="483.50" width="1.60" height="401.10" fill="url(#c78)"/><rect x="347.80" y="483.50" width="1.60" height="401.10" fill="url(#c79)"/><rect x="348.80" y="483.50" width="1.60" height="401.10" fill="url(#c80)"/><rect x="349.80" y="483.50" width="1.60" height="401.10" fill="url(#c81)"/><rect x="350.80" y="483.50" width="1.60" height="401.10" fill="url(#c82)"/><rect x="351.80" y="483.50" width="1.60" height="401.10" fill="url(#c83)"/><rect x="352.80" y="483.50" width="1.60" height="401.10" fill="url(#c84)"/><rect x="353.80" y="483.50" width="1.60" height="401.10" fill="url(#c85)"/><rect x="354.80" y="483.50" width="1.60" height="401.10" fill="url(#c86)"/><rect x="355.80" y="483.50" width="1.60" height="401.10" fill="url(#c87)"/><rect x="356.80" y="483.50" width="1.60" height="401.10" fill="url(#c88)"/><rect x="357.80" y="483.50" width="2.60" height="401.10" fill="url(#c89)"/><rect x="359.80" y="483.50" width="2.60" height="401.10" fill="url(#c90)"/><rect x="361.80" y="483.50" width="2.60" height="401.10" fill="url(#c91)"/><rect x="363.80" y="483.50" width="2.60" height="401.10" fill="url(#c92)"/><rect x="365.80" y="483.50" width="2.60" height="401.10" fill="url(#c93)"/><rect x="367.80" y="483.50" width="2.60" height="401.10" fill="url(#c94)"/><rect x="369.80" y="483.50" width="2.60" height="401.10" fill="url(#c95)"/><rect x="371.80" y="483.50" width="4.60" height="401.10" fill="url(#c96)"/><rect x="375.80" y="483.50" width="4.60" height="401.10" fill="url(#c97)"/><rect x="379.80" y="483.50" width="4.60" height="401.10" fill="url(#c98)"/><rect x="383.80" y="483.50" width="4.60" height="401.10" fill="url(#c99)"/><rect x="387.80" y="483.50" width="8.60" height="401.10" fill="url(#c100)"/><rect x="395.80" y="483.50" width="8.60" height="401.10" fill="url(#c101)"/><rect x="403.80" y="483.50" width="8.60" height="401.10" fill="url(#c102)"/><rect x="411.80" y="483.50" width="8.60" height="401.10" fill="url(#c103)"/><rect x="419.80" y="483.50" width="8.60" height="401.10" fill="url(#c104)"/><rect x="427.80" y="483.50" width="4.60" height="401.10" fill="url(#c105)"/><rect x="431.80" y="483.50" width="4.60" height="401.10" fill="url(#c106)"/><rect x="435.80" y="483.50" width="4.60" height="401.10" fill="url(#c107)"/><rect x="439.80" y="483.50" width="2.60" height="401.10" fill="url(#c108)"/><rect x="441.80" y="483.50" width="2.60" height="401.10" fill="url(#c109)"/><rect x="443.80" y="483.50" width="2.60" height="401.10" fill="url(#c110)"/><rect x="445.80" y="483.50" width="2.60" height="401.10" fill="url(#c111)"/><rect x="447.80" y="483.50" width="2.60" height="401.10" fill="url(#c112)"/><rect x="449.80" y="483.50" width="2.60" height="401.10" fill="url(#c113)"/><rect x="451.80" y="483.50" width="2.60" height="401.10" fill="url(#c114)"/><rect x="453.80" y="483.50" width="1.60" height="401.10" fill="url(#c115)"/><rect x="454.80" y="483.50" width="1.60" height="401.10" fill="url(#c116)"/><rect x="455.80" y="483.50" width="1.60" height="401.10" fill="url(#c117)"/><rect x="456.80" y="483.50" width="1.60" height="401.10" fill="url(#c118)"/><rect x="457.80" y="483.50" width="1.60" height="401.10" fill="url(#c119)"/><rect x="458.80" y="483.50" width="1.60" height="401.10" fill="url(#c120)"/><rect x="459.80" y="483.50" width="1.60" height="401.10" fill="url(#c121)"/><rect x="460.80" y="483.50" width="1.60" height="401.10" fill="url(#c122)"/><rect x="461.80" y="483.50" width="1.60" height="401.10" fill="url(#c123)"/><rect x="462.80" y="483.50" width="1.60" height="401.10" fill="url(#c124)"/><rect x="463.80" y="483.50" width="1.60" height="401.10" fill="url(#c125)"/><rect x="464.80" y="483.50" width="1.60" height="401.10" fill="url(#c126)"/><rect x="465.80" y="483.50" width="1.60" height="401.10" fill="url(#c127)"/><rect x="466.80" y="483.50" width="1.60" height="401.10" fill="url(#c128)"/><rect x="467.80" y="483.50" width="1.60" height="401.10" fill="url(#c129)"/><rect x="468.80" y="483.50" width="1.60" height="401.10" fill="url(#c130)"/><rect x="469.80" y="483.50" width="1.60" height="401.10" fill="url(#c131)"/><rect x="470.80" y="483.50" width="1.60" height="401.10" fill="url(#c132)"/><rect x="471.80" y="483.50" width="1.60" height="401.10" fill="url(#c133)"/><rect x="472.80" y="483.50" width="1.60" height="401.10" fill="url(#c134)"/><rect x="473.80" y="483.50" width="1.60" height="401.10" fill="url(#c135)"/><rect x="474.80" y="483.50" width="2.60" height="401.10" fill="url(#c136)"/><rect x="476.80" y="483.50" width="2.60" height="401.10" fill="url(#c137)"/><rect x="478.80" y="483.50" width="2.60" height="401.10" fill="url(#c138)"/><rect x="480.80" y="483.50" width="2.60" height="401.10" fill="url(#c139)"/><rect x="482.80" y="483.50" width="2.60" height="401.10" fill="url(#c140)"/><rect x="484.80" y="483.50" width="2.60" height="401.10" fill="url(#c141)"/><rect x="486.80" y="483.50" width="2.60" height="401.10" fill="url(#c142)"/><rect x="488.80" y="483.50" width="4.60" height="401.10" fill="url(#c143)"/><rect x="492.80" y="483.50" width="4.60" height="401.10" fill="url(#c144)"/><rect x="496.80" y="483.50" width="4.60" height="401.10" fill="url(#c145)"/><rect x="500.80" y="483.50" width="4.60" height="401.10" fill="url(#c146)"/><rect x="504.80" y="483.50" width="8.60" height="401.10" fill="url(#c147)"/><rect x="512.80" y="483.50" width="8.60" height="401.10" fill="url(#c148)"/><rect x="520.80" y="483.50" width="8.60" height="401.10" fill="url(#c149)"/><rect x="528.80" y="483.50" width="8.60" height="401.10" fill="url(#c150)"/><rect x="536.80" y="483.50" width="8.60" height="401.10" fill="url(#c151)"/><rect x="544.80" y="483.50" width="8.60" height="401.10" fill="url(#c152)"/><rect x="552.80" y="483.50" width="8.60" height="401.10" fill="url(#c153)"/><rect x="560.80" y="483.50" width="8.60" height="401.10" fill="url(#c154)"/><rect x="568.80" y="483.50" width="8.60" height="401.10" fill="url(#c155)"/><rect x="576.80" y="483.50" width="4.50" height="401.10" fill="url(#c156)"/></g>
<!-- heat map p4 -->
<defs><linearGradient id="d0" x1="0" y1="0" x2="0" y2="1"><stop offset="0" stop-color="#1f998a"/><stop offset="1" stop-color="#1f998a"/></linearGradient><linearGradient id="d1" x1="0" y1="0" x2="0" y2="1"><stop offset="0" stop-color="#1f988b"/><stop offset="1" stop-color="#1f988b"/></linearGradient><linearGradient id="d2" x1="0" y1="0" x2="0" y2="1"><stop offset="0" stop-color="#1f998a"/><stop offset="1" stop-color="#1f998a"/></linearGradient><linearGradient id="d3" x1="0" y1="0" x2="0" y2="1"><stop offset="0" stop-color="#1f9a8a"/><stop offset="1" stop-color="#1f9a8a"/></linearGradient><linearGradient id="d4" x1="0" y1="0" x2="0" y2="1"><stop offset="0" stop-color="#1f988b"/><stop offset="1" stop-color="#1f988b"/></linearGradient><linearGradient id="d5" x1="0" y1="0" x2="0" y2="1"><stop offset="0" stop-color="#1f998a"/><stop offset="1" stop-color="#1f998a"/></linearGradient><linearGradient id="d6" x1="0" y1="0" x2="0" y2="1"><stop offset="0" stop-color="#1f9a8a"/><stop offset="1" stop-color="#1f9a8a"/></linearGradient><linearGradient id="d7" x1="0" y1="0" x2="0" y2="1"><stop offset="0" stop-color="#1f988b"/><stop offset="1" stop-color="#1f988b"/></linearGradient><linearGradient id="d8" x1="0" y1="0" x2="0" y2="1"><stop offset="0" stop-color="#1f998a"/><stop offset="1" stop-color="#1f998a"/></linearGradient><linearGradient id="d9" x1="0" y1="0" x2="0" y2="1"><stop offset="0" stop-color="#1f9a8a"/><stop offset="1" stop-color="#1f9a8a"/></linearGradient><linearGradient id="d10" x1="0" y1="0" x2="0" y2="1"><stop offset="0" stop-color="#1f988b"/><stop offset="1" stop-color="#1f988b"/></linearGradient><linearGradient id="d11" x1="0" y1="0" x2="0" y2="1"><stop offset="0" stop-color="#1f998a"/><stop offset="1" stop-color="#1f998a"/></linearGradient><linearGradient id="d12" x1="0" y1="0" x2="0" y2="1"><stop offset="0" stop-color="#1f9a8a"/><stop offset="1" stop-color="#1f9a8a"/></linearGradient><linearGradient id="d13" x1="0" y1="0" x2="0" y2="1"><stop offset="0" stop-color="#1f988b"/><stop offset="1" stop-color="#1f988b"/></linearGradient><linearGradient id="d14" x1="0" y1="0" x2="0" y2="1"><stop offset="0" stop-color="#1f998a"/><stop offset="1" stop-color="#1f988b"/></linearGradient><linearGradient id="d15" x1="0" y1="0" x2="0" y2="1"><stop offset="0" stop-color="#1f9a8a"/><stop offset="0.5" stop-color="#1e9d89"/><stop offset="1" stop-color="#1f998a"/></linearGradient><linearGradient id="d16" x1="0" y1="0" x2="0" y2="1"><stop offset="0" stop-color="#1e9b8a"/><stop offset="0.5" stop-color="#1f9f88"/><stop offset="1" stop-color="#1f998a"/></linearGradient><linearGradient id="d17" x1="0" y1="0" x2="0" y2="1"><stop offset="0" stop-color="#1e9c89"/><stop offset="0.5" stop-color="#1fa188"/><stop offset="1" stop-color="#1f998a"/></linearGradient><linearGradient id="d18" x1="0" y1="0" x2="0" y2="1"><stop offset="0" stop-color="#1f9e89"/><stop offset="0.5" stop-color="#1fa287"/><stop offset="1" stop-color="#1f988b"/></linearGradient><linearGradient id="d19" x1="0" y1="0" x2="0" y2="1"><stop offset="0" stop-color="#1fa188"/><stop offset="0.5" stop-color="#21a585"/><stop offset="1" stop-color="#1f988b"/></linearGradient><linearGradient id="d20" x1="0" y1="0" x2="0" y2="1"><stop offset="0" stop-color="#20a386"/><stop offset="0.25" stop-color="#21a685"/><stop offset="0.62" stop-color="#25ac82"/><stop offset="0.81" stop-color="#1fa188"/><stop offset="1" stop-color="#1f978b"/></linearGradient><linearGradient id="d21" x1="0" y1="0" x2="0" y2="1"><stop offset="0" stop-color="#21a585"/><stop offset="0.25" stop-color="#22a884"/><stop offset="0.43" stop-color="#28ae80"/><stop offset="0.5" stop-color="#32b67a"/><stop offset="0.62" stop-color="#2db27d"/><stop offset="0.81" stop-color="#1fa187"/><stop offset="1" stop-color="#1f978b"/></linearGradient><linearGradient id="d22" x1="0" y1="0" x2="0" y2="1"><stop offset="0" stop-color="#22a785"/><stop offset="0.25" stop-color="#25ab82"/><stop offset="0.34" stop-color="#28ae80"/><stop offset="0.42" stop-color="#34b679"/><stop offset="0.49" stop-color="#3bbb75"/><stop offset="0.74" stop-color="#20a386"/><stop offset="0.87" stop-color="#1e9b8a"/><stop offset="1" stop-color="#1f968b"/></linearGradient><linearGradient id="d23" x1="0" y1="0" x2="0" y2="1"><stop offset="0" stop-color="#24aa83"/><stop offset="0.25" stop-color="#28ae80"/><stop offset="0.43" stop-color="#3fbc73"/><stop offset="0.49" stop-color="#32b67a"/><stop offset="0.61" stop-color="#22a884"/><stop offset="0.8" stop-color="#1f988b"/><stop offset="1" stop-color="#1f958b"/></linearGradient><linearGradient id="d24" x1="0" y1="0" x2="0" y2="1"><stop offset="0" stop-color="#27ad81"/><stop offset="0.12" stop-color="#28ae80"/><stop offset="0.23" stop-color="#2fb47c"/><stop offset="0.32" stop-color="#3fbc73"/><stop offset="0.38" stop-color="#40bd72"/><stop offset="0.45" stop-color="#2fb47c"/><stop offset="0.51" stop-color="#22a884"/><stop offset="0.75" stop-color="#1f958b"/><stop offset="1" stop-color="#1f948c"/></linearGradient><linearGradient id="d25" x1="0" y1="0" x2="0" y2="1"><stop offset="0" stop-color="#2eb37c"/><stop offset="0.12" stop-color="#31b57b"/><stop offset="0.17" stop-color="#34b679"/><stop offset="0.27" stop-color="#42be71"/><stop offset="0.31" stop-color="#44bf70"/><stop offset="0.37" stop-color="#38b977"/><stop offset="0.44" stop-color="#25ab82"/><stop offset="0.51" stop-color="#1fa088"/><stop offset="0.75" stop-color="#21908d"/><stop offset="0.87" stop-color="#218f8d"/><stop offset="1" stop-color="#20928c"/></linearGradient><linearGradient id="d26" x1="0" y1="0" x2="0" y2="1"><stop offset="0" stop-color="#3fbc73"/><stop offset="0.12" stop-color="#40bd72"/><stop offset="0.23" stop-color="#4ac16d"/><stop offset="0.27" stop-color="#46c06f"/><stop offset="0.36" stop-color="#2ab07f"/><stop offset="0.44" stop-color="#1fa187"/><stop offset="0.58" stop-color="#20928c"/><stop offset="0.79" stop-color="#23888e"/><stop offset="1" stop-color="#21908d"/></linearGradient><linearGradient id="d27" x1="0" y1="0" x2="0" y2="1"><stop offset="0" stop-color="#5cc863"/><stop offset="0.12" stop-color="#54c568"/><stop offset="0.17" stop-color="#52c569"/><stop offset="0.27" stop-color="#38b977"/><stop offset="0.31" stop-color="#2ab07f"/><stop offset="0.39" stop-color="#1fa188"/><stop offset="0.69" stop-color="#25848e"/><stop offset="0.84" stop-color="#26828e"/><stop offset="1" stop-color="#228c8d"/></linearGradient><linearGradient id="d28" x1="0" y1="0" x2="0" y2="1"><stop offset="0" stop-color="#7fd34e"/><stop offset="0.12" stop-color="#58c765"/><stop offset="0.23" stop-color="#34b679"/><stop offset="0.27" stop-color="#28ae80"/><stop offset="0.36" stop-color="#1f9e89"/><stop offset="0.52" stop-color="#238a8d"/><stop offset="0.64" stop-color="#277f8e"/><stop offset="0.82" stop-color="#29798e"/><stop offset="1" stop-color="#23888e"/></linearGradient><linearGradient id="d29" x1="0" y1="0" x2="0" y2="1"><stop offset="0" stop-color="#81d34d"/><stop offset="0.06" stop-color="#5ec962"/><stop offset="0.11" stop-color="#48c16e"/><stop offset="0.16" stop-color="#37b878"/><stop offset="0.21" stop-color="#28ae80"/><stop offset="0.3" stop-color="#1f9f88"/><stop offset="0.65" stop-color="#2b758e"/><stop offset="0.82" stop-color="#2c718e"/><stop offset="1" stop-color="#25838e"/></linearGradient><linearGradient id="d30" x1="0" y1="0" x2="0" y2="1"><stop offset="0" stop-color="#5ec962"/><stop offset="0.06" stop-color="#3fbc73"/><stop offset="0.11" stop-color="#2fb47c"/><stop offset="0.22" stop-color="#1fa287"/><stop offset="0.41" stop-color="#24878e"/><stop offset="0.55" stop-color="#2a768e"/><stop offset="0.66" stop-color="#2f6c8e"/><stop offset="0.83" stop-color="#2f6b8e"/><stop offset="1" stop-color="#277f8e"/></linearGradient><linearGradient id="d31" x1="0" y1="0" x2="0" y2="1"><stop offset="0" stop-color="#38b977"/><stop offset="0.06" stop-color="#28ae80"/><stop offset="0.17" stop-color="#1fa188"/><stop offset="0.37" stop-color="#25838e"/><stop offset="0.52" stop-color="#2d708e"/><stop offset="0.64" stop-color="#31668e"/><stop offset="0.82" stop-color="#32658e"/><stop offset="1" stop-color="#287c8e"/></linearGradient><linearGradient id="d32" x1="0" y1="0" x2="0" y2="1"><stop offset="0" stop-color="#24aa83"/><stop offset="0.12" stop-color="#1e9d89"/><stop offset="0.23" stop-color="#20928c"/><stop offset="0.42" stop-color="#2c738e"/><stop offset="0.56" stop-color="#31668e"/><stop offset="0.67" stop-color="#34618d"/><stop offset="0.83" stop-color="#32648e"/><stop offset="1" stop-color="#297a8e"/></linearGradient><linearGradient id="d33" x1="0" y1="0" x2="0" y2="1"><stop offset="0" stop-color="#1f9e89"/><stop offset="0.25" stop-color="#24868e"/><stop offset="0.43" stop-color="#2f6b8e"/><stop offset="0.57" stop-color="#33638d"/><stop offset="0.78" stop-color="#33638d"/><stop offset="0.89" stop-color="#2e6e8e"/><stop offset="1" stop-color="#287c8e"/></linearGradient><linearGradient id="d34" x1="0" y1="0" x2="0" y2="1"><stop offset="0" stop-color="#20928c"/><stop offset="0.25" stop-color="#287d8e"/><stop offset="0.34" stop-color="#2d708e"/><stop offset="0.5" stop-color="#32658e"/><stop offset="0.75" stop-color="#31678e"/><stop offset="0.81" stop-color="#30698e"/><stop offset="1" stop-color="#277f8e"/></linearGradient><linearGradient id="d35" x1="0" y1="0" x2="0" y2="1"><stop offset="0" stop-color="#23888e"/><stop offset="0.25" stop-color="#2b758e"/><stop offset="0.43" stop-color="#306a8e"/><stop offset="0.71" stop-color="#2e6d8e"/><stop offset="0.85" stop-color="#2c738e"/><stop offset="1" stop-color="#26828e"/></linearGradient><linearGradient id="d36" x1="0" y1="0" x2="0" y2="1"><stop offset="0" stop-color="#26828e"/><stop offset="0.25" stop-color="#2c728e"/><stop offset="0.62" stop-color="#2c718e"/><stop offset="0.81" stop-color="#2a768e"/><stop offset="1" stop-color="#24868e"/></linearGradient><linearGradient id="d37" x1="0" y1="0" x2="0" y2="1"><stop offset="0" stop-color="#27808e"/><stop offset="0.25" stop-color="#2b758e"/><stop offset="0.62" stop-color="#29798e"/><stop offset="0.81" stop-color="#287d8e"/><stop offset="1" stop-color="#238a8d"/></linearGradient><linearGradient id="d38" x1="0" y1="0" x2="0" y2="1"><stop offset="0" stop-color="#25838e"/><stop offset="0.25" stop-color="#297b8e"/><stop offset="0.62" stop-color="#27808e"/><stop offset="0.81" stop-color="#26828e"/><stop offset="1" stop-color="#228d8d"/></linearGradient><linearGradient id="d39" x1="0" y1="0" x2="0" y2="1"><stop offset="0" stop-color="#23898e"/><stop offset="0.25" stop-color="#26828e"/><stop offset="0.62" stop-color="#25848e"/><stop offset="1" stop-color="#218f8d"/></linearGradient><linearGradient id="d40" x1="0" y1="0" x2="0" y2="1"><stop offset="0" stop-color="#228d8d"/><stop offset="0.25" stop-color="#23888e"/><stop offset="0.62" stop-color="#23888e"/><stop offset="1" stop-color="#21918c"/></linearGradient><linearGradient id="d41" x1="0" y1="0" x2="0" y2="1"><stop offset="0" stop-color="#21918c"/><stop offset="0.5" stop-color="#228c8d"/><stop offset="1" stop-color="#20928c"/></linearGradient><linearGradient id="d42" x1="0" y1="0" x2="0" y2="1"><stop offset="0" stop-color="#20928c"/><stop offset="0.5" stop-color="#218f8d"/><stop offset="1" stop-color="#20928c"/></linearGradient><linearGradient id="d43" x1="0" y1="0" x2="0" y2="1"><stop offset="0" stop-color="#20928c"/><stop offset="1" stop-color="#20928c"/></linearGradient><linearGradient id="d44" x1="0" y1="0" x2="0" y2="1"><stop offset="0" stop-color="#20928c"/><stop offset="1" stop-color="#20928c"/></linearGradient><linearGradient id="d45" x1="0" y1="0" x2="0" y2="1"><stop offset="0" stop-color="#20928c"/><stop offset="1" stop-color="#20928c"/></linearGradient><linearGradient id="d46" x1="0" y1="0" x2="0" y2="1"><stop offset="0" stop-color="#20938c"/><stop offset="1" stop-color="#1f948c"/></linearGradient><linearGradient id="d47" x1="0" y1="0" x2="0" y2="1"><stop offset="0" stop-color="#1f958b"/><stop offset="1" stop-color="#1f958b"/></linearGradient><linearGradient id="d48" x1="0" y1="0" x2="0" y2="1"><stop offset="0" stop-color="#1f958b"/><stop offset="1" stop-color="#1f958b"/></linearGradient><linearGradient id="d49" x1="0" y1="0" x2="0" y2="1"><stop offset="0" stop-color="#20928c"/><stop offset="1" stop-color="#20928c"/></linearGradient><linearGradient id="d50" x1="0" y1="0" x2="0" y2="1"><stop offset="0" stop-color="#20928c"/><stop offset="1" stop-color="#20938c"/></linearGradient><linearGradient id="d51" x1="0" y1="0" x2="0" y2="1"><stop offset="0" stop-color="#1f968b"/><stop offset="1" stop-color="#1f968b"/></linearGradient><linearGradient id="d52" x1="0" y1="0" x2="0" y2="1"><stop offset="0" stop-color="#20928c"/><stop offset="1" stop-color="#20928c"/></linearGradient><linearGradient id="d53" x1="0" y1="0" x2="0" y2="1"><stop offset="0" stop-color="#1f958b"/><stop offset="1" stop-color="#1f958b"/></linearGradient><linearGradient id="d54" x1="0" y1="0" x2="0" y2="1"><stop offset="0" stop-color="#20928c"/><stop offset="1" stop-color="#20928c"/></linearGradient><linearGradient id="d55" x1="0" y1="0" x2="0" y2="1"><stop offset="0" stop-color="#1f948c"/><stop offset="1" stop-color="#1f948c"/></linearGradient><linearGradient id="d56" x1="0" y1="0" x2="0" y2="1"><stop offset="0" stop-color="#1f958b"/><stop offset="1" stop-color="#1f958b"/></linearGradient><linearGradient id="d57" x1="0" y1="0" x2="0" y2="1"><stop offset="0" stop-color="#20928c"/><stop offset="1" stop-color="#20928c"/></linearGradient><linearGradient id="d58" x1="0" y1="0" x2="0" y2="1"><stop offset="0" stop-color="#1f968b"/><stop offset="1" stop-color="#1f968b"/></linearGradient><linearGradient id="d59" x1="0" y1="0" x2="0" y2="1"><stop offset="0" stop-color="#20928c"/><stop offset="1" stop-color="#20928c"/></linearGradient><linearGradient id="d60" x1="0" y1="0" x2="0" y2="1"><stop offset="0" stop-color="#20938c"/><stop offset="1" stop-color="#20938c"/></linearGradient><linearGradient id="d61" x1="0" y1="0" x2="0" y2="1"><stop offset="0" stop-color="#1f958b"/><stop offset="1" stop-color="#1f958b"/></linearGradient><linearGradient id="d62" x1="0" y1="0" x2="0" y2="1"><stop offset="0" stop-color="#1f948c"/><stop offset="1" stop-color="#1f958b"/></linearGradient><linearGradient id="d63" x1="0" y1="0" x2="0" y2="1"><stop offset="0" stop-color="#20938c"/><stop offset="1" stop-color="#20938c"/></linearGradient><linearGradient id="d64" x1="0" y1="0" x2="0" y2="1"><stop offset="0" stop-color="#20928c"/><stop offset="1" stop-color="#20938c"/></linearGradient><linearGradient id="d65" x1="0" y1="0" x2="0" y2="1"><stop offset="0" stop-color="#20928c"/><stop offset="0.25" stop-color="#20938c"/><stop offset="0.43" stop-color="#218f8d"/><stop offset="1" stop-color="#20938c"/></linearGradient><linearGradient id="d66" x1="0" y1="0" x2="0" y2="1"><stop offset="0" stop-color="#20938c"/><stop offset="0.25" stop-color="#20938c"/><stop offset="0.43" stop-color="#228d8d"/><stop offset="0.71" stop-color="#218e8d"/><stop offset="1" stop-color="#1f948c"/></linearGradient><linearGradient id="d67" x1="0" y1="0" x2="0" y2="1"><stop offset="0" stop-color="#20938c"/><stop offset="0.25" stop-color="#20938c"/><stop offset="0.43" stop-color="#228d8d"/><stop offset="0.71" stop-color="#218e8d"/><stop offset="1" stop-color="#1f958b"/></linearGradient><linearGradient id="d68" x1="0" y1="0" x2="0" y2="1"><stop offset="0" stop-color="#20938c"/><stop offset="0.25" stop-color="#20938c"/><stop offset="0.43" stop-color="#228d8d"/><stop offset="0.71" stop-color="#218f8d"/><stop offset="1" stop-color="#1f968b"/></linearGradient><linearGradient id="d69" x1="0" y1="0" x2="0" y2="1"><stop offset="0" stop-color="#20928c"/><stop offset="0.25" stop-color="#20938c"/><stop offset="0.43" stop-color="#218e8d"/><stop offset="1" stop-color="#1f978b"/></linearGradient><linearGradient id="d70" x1="0" y1="0" x2="0" y2="1"><stop offset="0" stop-color="#20928c"/><stop offset="0.25" stop-color="#20938c"/><stop offset="0.43" stop-color="#218f8d"/><stop offset="1" stop-color="#1f9a8a"/></linearGradient><linearGradient id="d71" x1="0" y1="0" x2="0" y2="1"><stop offset="0" stop-color="#21918c"/><stop offset="0.25" stop-color="#20928c"/><stop offset="0.43" stop-color="#20928c"/><stop offset="0.57" stop-color="#1f988b"/><stop offset="1" stop-color="#1f9e89"/></linearGradient><linearGradient id="d72" x1="0" y1="0" x2="0" y2="1"><stop offset="0" stop-color="#228d8d"/><stop offset="0.25" stop-color="#20928c"/><stop offset="0.43" stop-color="#1f948c"/><stop offset="0.57" stop-color="#1f9f88"/><stop offset="1" stop-color="#20a386"/></linearGradient><linearGradient id="d73" x1="0" y1="0" x2="0" y2="1"><stop offset="0" stop-color="#24878e"/><stop offset="0.12" stop-color="#23888e"/><stop offset="0.23" stop-color="#218f8d"/><stop offset="0.42" stop-color="#1f988b"/><stop offset="0.49" stop-color="#20a386"/><stop offset="0.61" stop-color="#25ab82"/><stop offset="1" stop-color="#25ac82"/></linearGradient><linearGradient id="d74" x1="0" y1="0" x2="0" y2="1"><stop offset="0" stop-color="#297b8e"/><stop offset="0.12" stop-color="#277e8e"/><stop offset="0.17" stop-color="#26818e"/><stop offset="0.27" stop-color="#20928c"/><stop offset="0.36" stop-color="#1f968b"/><stop offset="0.44" stop-color="#20a486"/><stop offset="0.51" stop-color="#31b57b"/><stop offset="0.63" stop-color="#3fbc73"/><stop offset="0.81" stop-color="#3fbc73"/><stop offset="1" stop-color="#32b67a"/></linearGradient><linearGradient id="d75" x1="0" y1="0" x2="0" y2="1"><stop offset="0" stop-color="#33628d"/><stop offset="0.12" stop-color="#2f6b8e"/><stop offset="0.17" stop-color="#2c728e"/><stop offset="0.27" stop-color="#21918c"/><stop offset="0.36" stop-color="#1f9a8a"/><stop offset="0.42" stop-color="#25ab82"/><stop offset="0.49" stop-color="#4cc26c"/><stop offset="0.52" stop-color="#60ca60"/><stop offset="0.58" stop-color="#6ece58"/><stop offset="0.63" stop-color="#77d153"/><stop offset="0.72" stop-color="#77d153"/><stop offset="0.79" stop-color="#73d056"/><stop offset="0.89" stop-color="#65cb5e"/><stop offset="1" stop-color="#48c16e"/></linearGradient><linearGradient id="d76" x1="0" y1="0" x2="0" y2="1"><stop offset="0" stop-color="#463480"/><stop offset="0.06" stop-color="#433d84"/><stop offset="0.11" stop-color="#3f4889"/><stop offset="0.16" stop-color="#375a8c"/><stop offset="0.26" stop-color="#228d8d"/><stop offset="0.35" stop-color="#1f9e89"/><stop offset="0.39" stop-color="#28ae80"/><stop offset="0.42" stop-color="#3bbb75"/><stop offset="0.48" stop-color="#7ad151"/><stop offset="0.52" stop-color="#a0da39"/><stop offset="0.58" stop-color="#b8de29"/><stop offset="0.63" stop-color="#c5e021"/><stop offset="0.72" stop-color="#c5e021"/><stop offset="0.76" stop-color="#c2df23"/><stop offset="0.88" stop-color="#9dd93b"/><stop offset="1" stop-color="#63cb5f"/></linearGradient><linearGradient id="d77" x1="0" y1="0" x2="0" y2="1"><stop offset="0" stop-color="#450457"/><stop offset="0.06" stop-color="#471365"/><stop offset="0.09" stop-color="#481d6f"/><stop offset="0.14" stop-color="#443983"/><stop offset="0.19" stop-color="#355e8d"/><stop offset="0.24" stop-color="#277f8e"/><stop offset="0.28" stop-color="#20928c"/><stop offset="0.32" stop-color="#1e9d89"/><stop offset="0.36" stop-color="#23a983"/><stop offset="0.39" stop-color="#38b977"/><stop offset="0.43" stop-color="#65cb5e"/><stop offset="0.48" stop-color="#a5db36"/><stop offset="0.52" stop-color="#d0e11c"/><stop offset="0.55" stop-color="#dfe318"/><stop offset="0.6" stop-color="#f1e51d"/><stop offset="0.64" stop-color="#fbe723"/><stop offset="0.73" stop-color="#fbe723"/><stop offset="0.75" stop-color="#fbe723"/><stop offset="0.81" stop-color="#e2e418"/><stop offset="0.85" stop-color="#d2e21b"/><stop offset="0.89" stop-color="#bddf26"/><stop offset="0.94" stop-color="#9bd93c"/><stop offset="1" stop-color="#75d054"/></linearGradient><linearGradient id="d78" x1="0" y1="0" x2="0" y2="1"><stop offset="0" stop-color="#460b5e"/><stop offset="0.06" stop-color="#48186a"/><stop offset="0.11" stop-color="#472d7b"/><stop offset="0.16" stop-color="#3f4889"/><stop offset="0.21" stop-color="#2e6d8e"/><stop offset="0.25" stop-color="#25858e"/><stop offset="0.29" stop-color="#1f968b"/><stop offset="0.35" stop-color="#1fa287"/><stop offset="0.38" stop-color="#2db27d"/><stop offset="0.43" stop-color="#60ca60"/><stop offset="0.48" stop-color="#a0da39"/><stop offset="0.52" stop-color="#cae11f"/><stop offset="0.58" stop-color="#e5e419"/><stop offset="0.62" stop-color="#f4e61e"/><stop offset="0.71" stop-color="#f4e61e"/><stop offset="0.76" stop-color="#f1e51d"/><stop offset="0.82" stop-color="#d8e219"/><stop offset="0.86" stop-color="#c8e020"/><stop offset="0.9" stop-color="#b2dd2d"/><stop offset="0.95" stop-color="#90d743"/><stop offset="1" stop-color="#73d056"/></linearGradient><linearGradient id="d79" x1="0" y1="0" x2="0" y2="1"><stop offset="0" stop-color="#423f85"/><stop offset="0.12" stop-color="#3b528b"/><stop offset="0.17" stop-color="#33638d"/><stop offset="0.27" stop-color="#21908d"/><stop offset="0.36" stop-color="#1fa088"/><stop offset="0.4" stop-color="#29af7f"/><stop offset="0.45" stop-color="#52c569"/><stop offset="0.51" stop-color="#89d548"/><stop offset="0.53" stop-color="#98d83e"/><stop offset="0.58" stop-color="#a8db34"/><stop offset="0.63" stop-color="#b5de2b"/><stop offset="0.72" stop-color="#b5de2b"/><stop offset="0.76" stop-color="#b2dd2d"/><stop offset="0.88" stop-color="#93d741"/><stop offset="1" stop-color="#5ec962"/></linearGradient><linearGradient id="d80" x1="0" y1="0" x2="0" y2="1"><stop offset="0" stop-color="#30698e"/><stop offset="0.12" stop-color="#2e6f8e"/><stop offset="0.17" stop-color="#2a768e"/><stop offset="0.27" stop-color="#21918c"/><stop offset="0.36" stop-color="#1f998a"/><stop offset="0.42" stop-color="#22a884"/><stop offset="0.49" stop-color="#42be71"/><stop offset="0.53" stop-color="#58c765"/><stop offset="0.58" stop-color="#60ca60"/><stop offset="0.63" stop-color="#69cd5b"/><stop offset="0.72" stop-color="#69cd5b"/><stop offset="0.79" stop-color="#67cc5c"/><stop offset="0.89" stop-color="#5ac864"/><stop offset="1" stop-color="#44bf70"/></linearGradient><linearGradient id="d81" x1="0" y1="0" x2="0" y2="1"><stop offset="0" stop-color="#277e8e"/><stop offset="0.12" stop-color="#26818e"/><stop offset="0.17" stop-color="#25838e"/><stop offset="0.27" stop-color="#20928c"/><stop offset="0.36" stop-color="#1f958b"/><stop offset="0.44" stop-color="#1fa287"/><stop offset="0.51" stop-color="#2cb17e"/><stop offset="0.63" stop-color="#37b878"/><stop offset="0.81" stop-color="#37b878"/><stop offset="0.9" stop-color="#35b779"/><stop offset="1" stop-color="#2eb37c"/></linearGradient><linearGradient id="d82" x1="0" y1="0" x2="0" y2="1"><stop offset="0" stop-color="#23898e"/><stop offset="0.12" stop-color="#23898e"/><stop offset="0.34" stop-color="#20938c"/><stop offset="0.42" stop-color="#1f978b"/><stop offset="0.56" stop-color="#22a785"/><stop offset="1" stop-color="#24aa83"/></linearGradient><linearGradient id="d83" x1="0" y1="0" x2="0" y2="1"><stop offset="0" stop-color="#218e8d"/><stop offset="0.25" stop-color="#20928c"/><stop offset="0.43" stop-color="#20938c"/><stop offset="0.57" stop-color="#1e9d89"/><stop offset="1" stop-color="#1fa287"/></linearGradient><linearGradient id="d84" x1="0" y1="0" x2="0" y2="1"><stop offset="0" stop-color="#21918c"/><stop offset="0.25" stop-color="#20928c"/><stop offset="0.43" stop-color="#21918c"/><stop offset="0.57" stop-color="#1f978b"/><stop offset="1" stop-color="#1e9d89"/></linearGradient><linearGradient id="d85" x1="0" y1="0" x2="0" y2="1"><stop offset="0" stop-color="#20928c"/><stop offset="0.25" stop-color="#20938c"/><stop offset="0.43" stop-color="#218f8d"/><stop offset="1" stop-color="#1f998a"/></linearGradient><linearGradient id="d86" x1="0" y1="0" x2="0" y2="1"><stop offset="0" stop-color="#20928c"/><stop offset="0.25" stop-color="#20938c"/><stop offset="0.43" stop-color="#228d8d"/><stop offset="1" stop-color="#1f978b"/></linearGradient><linearGradient id="d87" x1="0" y1="0" x2="0" y2="1"><stop offset="0" stop-color="#20938c"/><stop offset="0.25" stop-color="#20938c"/><stop offset="0.43" stop-color="#228d8d"/><stop offset="0.71" stop-color="#218f8d"/><stop offset="1" stop-color="#1f958b"/></linearGradient><linearGradient id="d88" x1="0" y1="0" x2="0" y2="1"><stop offset="0" stop-color="#20938c"/><stop offset="0.25" stop-color="#20938c"/><stop offset="0.43" stop-color="#228d8d"/><stop offset="0.71" stop-color="#218e8d"/><stop offset="1" stop-color="#1f948c"/></linearGradient><linearGradient id="d89" x1="0" y1="0" x2="0" y2="1"><stop offset="0" stop-color="#20938c"/><stop offset="0.25" stop-color="#20938c"/><stop offset="0.43" stop-color="#218e8d"/><stop offset="1" stop-color="#1f948c"/></linearGradient><linearGradient id="d90" x1="0" y1="0" x2="0" y2="1"><stop offset="0" stop-color="#20938c"/><stop offset="0.5" stop-color="#21908d"/><stop offset="1" stop-color="#20938c"/></linearGradient><linearGradient id="d91" x1="0" y1="0" x2="0" y2="1"><stop offset="0" stop-color="#20928c"/><stop offset="1" stop-color="#20938c"/></linearGradient><linearGradient id="d92" x1="0" y1="0" x2="0" y2="1"><stop offset="0" stop-color="#20928c"/><stop offset="1" stop-color="#20938c"/></linearGradient><linearGradient id="d93" x1="0" y1="0" x2="0" y2="1"><stop offset="0" stop-color="#20938c"/><stop offset="1" stop-color="#1f948c"/></linearGradient><linearGradient id="d94" x1="0" y1="0" x2="0" y2="1"><stop offset="0" stop-color="#1f958b"/><stop offset="1" stop-color="#1f958b"/></linearGradient><linearGradient id="d95" x1="0" y1="0" x2="0" y2="1"><stop offset="0" stop-color="#1f958b"/><stop offset="1" stop-color="#1f958b"/></linearGradient><linearGradient id="d96" x1="0" y1="0" x2="0" y2="1"><stop offset="0" stop-color="#20928c"/><stop offset="1" stop-color="#20928c"/></linearGradient><linearGradient id="d97" x1="0" y1="0" x2="0" y2="1"><stop offset="0" stop-color="#20928c"/><stop offset="1" stop-color="#20928c"/></linearGradient><linearGradient id="d98" x1="0" y1="0" x2="0" y2="1"><stop offset="0" stop-color="#1f968b"/><stop offset="1" stop-color="#1f968b"/></linearGradient><linearGradient id="d99" x1="0" y1="0" x2="0" y2="1"><stop offset="0" stop-color="#20928c"/><stop offset="1" stop-color="#20928c"/></linearGradient><linearGradient id="d100" x1="0" y1="0" x2="0" y2="1"><stop offset="0" stop-color="#1f948c"/><stop offset="1" stop-color="#1f958b"/></linearGradient><linearGradient id="d101" x1="0" y1="0" x2="0" y2="1"><stop offset="0" stop-color="#20928c"/><stop offset="1" stop-color="#20928c"/></linearGradient><linearGradient id="d102" x1="0" y1="0" x2="0" y2="1"><stop offset="0" stop-color="#1f948c"/><stop offset="1" stop-color="#1f958b"/></linearGradient><linearGradient id="d103" x1="0" y1="0" x2="0" y2="1"><stop offset="0" stop-color="#1f948c"/><stop offset="1" stop-color="#1f958b"/></linearGradient><linearGradient id="d104" x1="0" y1="0" x2="0" y2="1"><stop offset="0" stop-color="#20928c"/><stop offset="1" stop-color="#20928c"/></linearGradient><linearGradient id="d105" x1="0" y1="0" x2="0" y2="1"><stop offset="0" stop-color="#1f968b"/><stop offset="1" stop-color="#1f968b"/></linearGradient><linearGradient id="d106" x1="0" y1="0" x2="0" y2="1"><stop offset="0" stop-color="#20928c"/><stop offset="1" stop-color="#20928c"/></linearGradient><linearGradient id="d107" x1="0" y1="0" x2="0" y2="1"><stop offset="0" stop-color="#20928c"/><stop offset="1" stop-color="#20928c"/></linearGradient><linearGradient id="d108" x1="0" y1="0" x2="0" y2="1"><stop offset="0" stop-color="#1f958b"/><stop offset="1" stop-color="#1f958b"/></linearGradient><linearGradient id="d109" x1="0" y1="0" x2="0" y2="1"><stop offset="0" stop-color="#1f948c"/><stop offset="1" stop-color="#1f958b"/></linearGradient><linearGradient id="d110" x1="0" y1="0" x2="0" y2="1"><stop offset="0" stop-color="#20938c"/><stop offset="1" stop-color="#20938c"/></linearGradient><linearGradient id="d111" x1="0" y1="0" x2="0" y2="1"><stop offset="0" stop-color="#20928c"/><stop offset="1" stop-color="#20928c"/></linearGradient><linearGradient id="d112" x1="0" y1="0" x2="0" y2="1"><stop offset="0" stop-color="#20928c"/><stop offset="1" stop-color="#20928c"/></linearGradient><linearGradient id="d113" x1="0" y1="0" x2="0" y2="1"><stop offset="0" stop-color="#20928c"/><stop offset="0.5" stop-color="#218f8d"/><stop offset="1" stop-color="#20928c"/></linearGradient><linearGradient id="d114" x1="0" y1="0" x2="0" y2="1"><stop offset="0" stop-color="#218f8d"/><stop offset="0.25" stop-color="#23898e"/><stop offset="0.62" stop-color="#238a8d"/><stop offset="1" stop-color="#21918c"/></linearGradient><linearGradient id="d115" x1="0" y1="0" x2="0" y2="1"><stop offset="0" stop-color="#24878e"/><stop offset="0.25" stop-color="#26818e"/><stop offset="0.62" stop-color="#25838e"/><stop offset="0.81" stop-color="#24868e"/><stop offset="1" stop-color="#218f8d"/></linearGradient><linearGradient id="d116" x1="0" y1="0" x2="0" y2="1"><stop offset="0" stop-color="#26828e"/><stop offset="0.25" stop-color="#297a8e"/><stop offset="0.62" stop-color="#277e8e"/><stop offset="0.81" stop-color="#26828e"/><stop offset="1" stop-color="#228c8d"/></linearGradient><linearGradient id="d117" x1="0" y1="0" x2="0" y2="1"><stop offset="0" stop-color="#27808e"/><stop offset="0.25" stop-color="#2b748e"/><stop offset="0.62" stop-color="#2a778e"/><stop offset="0.81" stop-color="#287c8e"/><stop offset="1" stop-color="#23898e"/></linearGradient><linearGradient id="d118" x1="0" y1="0" x2="0" y2="1"><stop offset="0" stop-color="#26828e"/><stop offset="0.25" stop-color="#2c728e"/><stop offset="0.43" stop-color="#2e6f8e"/><stop offset="0.71" stop-color="#2c728e"/><stop offset="0.85" stop-color="#2a788e"/><stop offset="1" stop-color="#25858e"/></linearGradient><linearGradient id="d119" x1="0" y1="0" x2="0" y2="1"><stop offset="0" stop-color="#238a8d"/><stop offset="0.12" stop-color="#26828e"/><stop offset="0.34" stop-color="#2e6d8e"/><stop offset="0.5" stop-color="#31688e"/><stop offset="0.75" stop-color="#2e6d8e"/><stop offset="0.87" stop-color="#2b748e"/><stop offset="1" stop-color="#26828e"/></linearGradient><linearGradient id="d120" x1="0" y1="0" x2="0" y2="1"><stop offset="0" stop-color="#1f948c"/><stop offset="0.25" stop-color="#277f8e"/><stop offset="0.34" stop-color="#2d718e"/><stop offset="0.5" stop-color="#32658e"/><stop offset="0.75" stop-color="#31668e"/><stop offset="0.81" stop-color="#31688e"/><stop offset="1" stop-color="#277e8e"/></linearGradient><linearGradient id="d121" x1="0" y1="0" x2="0" y2="1"><stop offset="0" stop-color="#1fa088"/><stop offset="0.25" stop-color="#23888e"/><stop offset="0.43" stop-color="#2f6c8e"/><stop offset="0.57" stop-color="#33638d"/><stop offset="0.78" stop-color="#33638d"/><stop offset="0.89" stop-color="#2e6d8e"/><stop offset="1" stop-color="#297b8e"/></linearGradient><linearGradient id="d122" x1="0" y1="0" x2="0" y2="1"><stop offset="0" stop-color="#26ad81"/><stop offset="0.12" stop-color="#1f9f88"/><stop offset="0.23" stop-color="#20928c"/><stop offset="0.42" stop-color="#2b758e"/><stop offset="0.56" stop-color="#31678e"/><stop offset="0.67" stop-color="#33628d"/><stop offset="0.83" stop-color="#32648e"/><stop offset="1" stop-color="#297b8e"/></linearGradient><linearGradient id="d123" x1="0" y1="0" x2="0" y2="1"><stop offset="0" stop-color="#3dbc74"/><stop offset="0.06" stop-color="#2cb17e"/><stop offset="0.17" stop-color="#1fa287"/><stop offset="0.37" stop-color="#25858e"/><stop offset="0.52" stop-color="#2c718e"/><stop offset="0.64" stop-color="#31678e"/><stop offset="0.82" stop-color="#32658e"/><stop offset="1" stop-color="#287c8e"/></linearGradient><linearGradient id="d124" x1="0" y1="0" x2="0" y2="1"><stop offset="0" stop-color="#65cb5e"/><stop offset="0.06" stop-color="#46c06f"/><stop offset="0.11" stop-color="#34b679"/><stop offset="0.22" stop-color="#20a486"/><stop offset="0.41" stop-color="#23898e"/><stop offset="0.55" stop-color="#2a788e"/><stop offset="0.66" stop-color="#2e6e8e"/><stop offset="0.83" stop-color="#2f6c8e"/><stop offset="1" stop-color="#27808e"/></linearGradient><linearGradient id="d125" x1="0" y1="0" x2="0" y2="1"><stop offset="0" stop-color="#84d44b"/><stop offset="0.06" stop-color="#63cb5f"/><stop offset="0.17" stop-color="#37b878"/><stop offset="0.27" stop-color="#21a685"/><stop offset="0.36" stop-color="#1f978b"/><stop offset="0.52" stop-color="#25848e"/><stop offset="0.64" stop-color="#2a778e"/><stop offset="0.82" stop-color="#2c728e"/><stop offset="1" stop-color="#25848e"/></linearGradient><linearGradient id="d126" x1="0" y1="0" x2="0" y2="1"><stop offset="0" stop-color="#7ad151"/><stop offset="0.12" stop-color="#5ac864"/><stop offset="0.23" stop-color="#37b878"/><stop offset="0.32" stop-color="#21a685"/><stop offset="0.49" stop-color="#218f8d"/><stop offset="0.61" stop-color="#25838e"/><stop offset="0.8" stop-color="#297b8e"/><stop offset="1" stop-color="#23898e"/></linearGradient><linearGradient id="d127" x1="0" y1="0" x2="0" y2="1"><stop offset="0" stop-color="#56c667"/><stop offset="0.12" stop-color="#52c569"/><stop offset="0.17" stop-color="#50c46a"/><stop offset="0.22" stop-color="#4ac16d"/><stop offset="0.31" stop-color="#2eb37c"/><stop offset="0.38" stop-color="#20a486"/><stop offset="0.53" stop-color="#20928c"/><stop offset="0.76" stop-color="#25838e"/><stop offset="0.88" stop-color="#24868e"/><stop offset="1" stop-color="#228d8d"/></linearGradient><linearGradient id="d128" x1="0" y1="0" x2="0" y2="1"><stop offset="0" stop-color="#3aba76"/><stop offset="0.12" stop-color="#3dbc74"/><stop offset="0.23" stop-color="#48c16e"/><stop offset="0.27" stop-color="#48c16e"/><stop offset="0.31" stop-color="#3fbc73"/><stop offset="0.39" stop-color="#25ac82"/><stop offset="0.46" stop-color="#1fa088"/><stop offset="0.59" stop-color="#20938c"/><stop offset="0.79" stop-color="#238a8d"/><stop offset="1" stop-color="#21918c"/></linearGradient><linearGradient id="d129" x1="0" y1="0" x2="0" y2="1"><stop offset="0" stop-color="#2db27d"/><stop offset="0.12" stop-color="#2eb37c"/><stop offset="0.23" stop-color="#3aba76"/><stop offset="0.27" stop-color="#40bd72"/><stop offset="0.31" stop-color="#44bf70"/><stop offset="0.37" stop-color="#3bbb75"/><stop offset="0.44" stop-color="#26ad81"/><stop offset="0.51" stop-color="#1fa188"/><stop offset="0.75" stop-color="#21918c"/><stop offset="0.87" stop-color="#21908d"/><stop offset="1" stop-color="#20928c"/></linearGradient><linearGradient id="d130" x1="0" y1="0" x2="0" y2="1"><stop offset="0" stop-color="#26ad81"/><stop offset="0.12" stop-color="#27ad81"/><stop offset="0.23" stop-color="#2db27d"/><stop offset="0.32" stop-color="#3bbb75"/><stop offset="0.39" stop-color="#40bd72"/><stop offset="0.46" stop-color="#2fb47c"/><stop offset="0.52" stop-color="#23a983"/><stop offset="0.76" stop-color="#1f958b"/><stop offset="1" stop-color="#1f948c"/></linearGradient><linearGradient id="d131" x1="0" y1="0" x2="0" y2="1"><stop offset="0" stop-color="#23a983"/><stop offset="0.25" stop-color="#27ad81"/><stop offset="0.43" stop-color="#3dbc74"/><stop offset="0.57" stop-color="#28ae80"/><stop offset="0.67" stop-color="#20a386"/><stop offset="0.83" stop-color="#1f988b"/><stop offset="1" stop-color="#1f958b"/></linearGradient><linearGradient id="d132" x1="0" y1="0" x2="0" y2="1"><stop offset="0" stop-color="#21a685"/><stop offset="0.25" stop-color="#24aa83"/><stop offset="0.34" stop-color="#27ad81"/><stop offset="0.5" stop-color="#3aba76"/><stop offset="0.75" stop-color="#20a486"/><stop offset="0.87" stop-color="#1e9b8a"/><stop offset="1" stop-color="#1f968b"/></linearGradient><linearGradient id="d133" x1="0" y1="0" x2="0" y2="1"><stop offset="0" stop-color="#20a486"/><stop offset="0.25" stop-color="#22a785"/><stop offset="0.43" stop-color="#27ad81"/><stop offset="0.5" stop-color="#2fb47c"/><stop offset="0.62" stop-color="#2cb17e"/><stop offset="0.81" stop-color="#1fa187"/><stop offset="1" stop-color="#1f978b"/></linearGradient><linearGradient id="d134" x1="0" y1="0" x2="0" y2="1"><stop offset="0" stop-color="#20a386"/><stop offset="0.5" stop-color="#25ac82"/><stop offset="0.75" stop-color="#20a486"/><stop offset="1" stop-color="#1f988b"/></linearGradient><linearGradient id="d135" x1="0" y1="0" x2="0" y2="1"><stop offset="0" stop-color="#1fa187"/><stop offset="0.5" stop-color="#22a785"/><stop offset="1" stop-color="#1f988b"/></linearGradient><linearGradient id="d136" x1="0" y1="0" x2="0" y2="1"><stop offset="0" stop-color="#1fa088"/><stop offset="0.5" stop-color="#20a386"/><stop offset="1" stop-color="#1f988b"/></linearGradient><linearGradient id="d137" x1="0" y1="0" x2="0" y2="1"><stop offset="0" stop-color="#1e9d89"/><stop offset="0.5" stop-color="#1fa188"/><stop offset="1" stop-color="#1f988b"/></linearGradient><linearGradient id="d138" x1="0" y1="0" x2="0" y2="1"><stop offset="0" stop-color="#1e9b8a"/><stop offset="0.5" stop-color="#1f9f88"/><stop offset="1" stop-color="#1f988b"/></linearGradient><linearGradient id="d139" x1="0" y1="0" x2="0" y2="1"><stop offset="0" stop-color="#1f9a8a"/><stop offset="0.5" stop-color="#1e9d89"/><stop offset="1" stop-color="#1f988b"/></linearGradient><linearGradient id="d140" x1="0" y1="0" x2="0" y2="1"><stop offset="0" stop-color="#1f9a8a"/><stop offset="1" stop-color="#1f998a"/></linearGradient><linearGradient id="d141" x1="0" y1="0" x2="0" y2="1"><stop offset="0" stop-color="#1f9a8a"/><stop offset="1" stop-color="#1f9a8a"/></linearGradient><linearGradient id="d142" x1="0" y1="0" x2="0" y2="1"><stop offset="0" stop-color="#1f9a8a"/><stop offset="1" stop-color="#1f998a"/></linearGradient><linearGradient id="d143" x1="0" y1="0" x2="0" y2="1"><stop offset="0" stop-color="#1f988b"/><stop offset="1" stop-color="#1f988b"/></linearGradient><linearGradient id="d144" x1="0" y1="0" x2="0" y2="1"><stop offset="0" stop-color="#1f988b"/><stop offset="1" stop-color="#1f988b"/></linearGradient><linearGradient id="d145" x1="0" y1="0" x2="0" y2="1"><stop offset="0" stop-color="#1f9a8a"/><stop offset="1" stop-color="#1f9a8a"/></linearGradient><linearGradient id="d146" x1="0" y1="0" x2="0" y2="1"><stop offset="0" stop-color="#1f988b"/><stop offset="1" stop-color="#1f988b"/></linearGradient><linearGradient id="d147" x1="0" y1="0" x2="0" y2="1"><stop offset="0" stop-color="#1f9a8a"/><stop offset="1" stop-color="#1f9a8a"/></linearGradient><linearGradient id="d148" x1="0" y1="0" x2="0" y2="1"><stop offset="0" stop-color="#1f978b"/><stop offset="1" stop-color="#1f978b"/></linearGradient><linearGradient id="d149" x1="0" y1="0" x2="0" y2="1"><stop offset="0" stop-color="#1f998a"/><stop offset="1" stop-color="#1f998a"/></linearGradient><linearGradient id="d150" x1="0" y1="0" x2="0" y2="1"><stop offset="0" stop-color="#1f9a8a"/><stop offset="1" stop-color="#1f9a8a"/></linearGradient><linearGradient id="d151" x1="0" y1="0" x2="0" y2="1"><stop offset="0" stop-color="#1f978b"/><stop offset="1" stop-color="#1f978b"/></linearGradient><linearGradient id="d152" x1="0" y1="0" x2="0" y2="1"><stop offset="0" stop-color="#1f998a"/><stop offset="1" stop-color="#1f998a"/></linearGradient><linearGradient id="d153" x1="0" y1="0" x2="0" y2="1"><stop offset="0" stop-color="#1f9a8a"/><stop offset="1" stop-color="#1f9a8a"/></linearGradient><linearGradient id="d154" x1="0" y1="0" x2="0" y2="1"><stop offset="0" stop-color="#1f988b"/><stop offset="1" stop-color="#1f988b"/></linearGradient><linearGradient id="d155" x1="0" y1="0" x2="0" y2="1"><stop offset="0" stop-color="#1f998a"/><stop offset="1" stop-color="#1f998a"/></linearGradient><linearGradient id="d156" x1="0" y1="0" x2="0" y2="1"><stop offset="0" stop-color="#1f998a"/><stop offset="1" stop-color="#1f998a"/></linearGradient></defs>
<g shape-rendering="crispEdges"><rect x="675.30" y="483.50" width="8.60" height="401.10" fill="url(#d0)"/><rect x="683.30" y="483.50" width="8.60" height="401.10" fill="url(#d1)"/><rect x="691.30" y="483.50" width="8.60" height="401.10" fill="url(#d2)"/><rect x="699.30" y="483.50" width="8.60" height="401.10" fill="url(#d3)"/><rect x="707.30" y="483.50" width="8.60" height="401.10" fill="url(#d4)"/><rect x="715.30" y="483.50" width="8.60" height="401.10" fill="url(#d5)"/><rect x="723.30" y="483.50" width="8.60" height="401.10" fill="url(#d6)"/><rect x="731.30" y="483.50" width="8.60" height="401.10" fill="url(#d7)"/><rect x="739.30" y="483.50" width="8.60" height="401.10" fill="url(#d8)"/><rect x="747.30" y="483.50" width="8.60" height="401.10" fill="url(#d9)"/><rect x="755.30" y="483.50" width="4.60" height="401.10" fill="url(#d10)"/><rect x="759.30" y="483.50" width="4.60" height="401.10" fill="url(#d11)"/><rect x="763.30" y="483.50" width="4.60" height="401.10" fill="url(#d12)"/><rect x="767.30" y="483.50" width="4.60" height="401.10" fill="url(#d13)"/><rect x="771.30" y="483.50" width="2.60" height="401.10" fill="url(#d14)"/><rect x="773.30" y="483.50" width="2.60" height="401.10" fill="url(#d15)"/><rect x="775.30" y="483.50" width="2.60" height="401.10" fill="url(#d16)"/><rect x="777.30" y="483.50" width="2.60" height="401.10" fill="url(#d17)"/><rect x="779.30" y="483.50" width="2.60" height="401.10" fill="url(#d18)"/><rect x="781.30" y="483.50" width="2.60" height="401.10" fill="url(#d19)"/><rect x="783.30" y="483.50" width="1.60" height="401.10" fill="url(#d20)"/><rect x="784.30" y="483.50" width="1.60" height="401.10" fill="url(#d21)"/><rect x="785.30" y="483.50" width="1.60" height="401.10" fill="url(#d22)"/><rect x="786.30" y="483.50" width="1.60" height="401.10" fill="url(#d23)"/><rect x="787.30" y="483.50" width="1.60" height="401.10" fill="url(#d24)"/><rect x="788.30" y="483.50" width="1.60" height="401.10" fill="url(#d25)"/><rect x="789.30" y="483.50" width="1.60" height="401.10" fill="url(#d26)"/><rect x="790.30" y="483.50" width="1.60" height="401.10" fill="url(#d27)"/><rect x="791.30" y="483.50" width="1.60" height="401.10" fill="url(#d28)"/><rect x="792.30" y="483.50" width="1.60" height="401.10" fill="url(#d29)"/><rect x="793.30" y="483.50" width="1.60" height="401.10" fill="url(#d30)"/><rect x="794.30" y="483.50" width="1.60" height="401.10" fill="url(#d31)"/><rect x="795.30" y="483.50" width="1.60" height="401.10" fill="url(#d32)"/><rect x="796.30" y="483.50" width="1.60" height="401.10" fill="url(#d33)"/><rect x="797.30" y="483.50" width="1.60" height="401.10" fill="url(#d34)"/><rect x="798.30" y="483.50" width="1.60" height="401.10" fill="url(#d35)"/><rect x="799.30" y="483.50" width="1.60" height="401.10" fill="url(#d36)"/><rect x="800.30" y="483.50" width="1.60" height="401.10" fill="url(#d37)"/><rect x="801.30" y="483.50" width="1.60" height="401.10" fill="url(#d38)"/><rect x="802.30" y="483.50" width="1.60" height="401.10" fill="url(#d39)"/><rect x="803.30" y="483.50" width="1.60" height="401.10" fill="url(#d40)"/><rect x="804.30" y="483.50" width="1.60" height="401.10" fill="url(#d41)"/><rect x="805.30" y="483.50" width="2.60" height="401.10" fill="url(#d42)"/><rect x="807.30" y="483.50" width="2.60" height="401.10" fill="url(#d43)"/><rect x="809.30" y="483.50" width="2.60" height="401.10" fill="url(#d44)"/><rect x="811.30" y="483.50" width="2.60" height="401.10" fill="url(#d45)"/><rect x="813.30" y="483.50" width="2.60" height="401.10" fill="url(#d46)"/><rect x="815.30" y="483.50" width="2.60" height="401.10" fill="url(#d47)"/><rect x="817.30" y="483.50" width="2.60" height="401.10" fill="url(#d48)"/><rect x="819.30" y="483.50" width="4.60" height="401.10" fill="url(#d49)"/><rect x="823.30" y="483.50" width="4.60" height="401.10" fill="url(#d50)"/><rect x="827.30" y="483.50" width="4.60" height="401.10" fill="url(#d51)"/><rect x="831.30" y="483.50" width="4.60" height="401.10" fill="url(#d52)"/><rect x="835.30" y="483.50" width="8.60" height="401.10" fill="url(#d53)"/><rect x="843.30" y="483.50" width="8.60" height="401.10" fill="url(#d54)"/><rect x="851.30" y="483.50" width="8.60" height="401.10" fill="url(#d55)"/><rect x="859.30" y="483.50" width="8.60" height="401.10" fill="url(#d56)"/><rect x="867.30" y="483.50" width="8.60" height="401.10" fill="url(#d57)"/><rect x="875.30" y="483.50" width="4.60" height="401.10" fill="url(#d58)"/><rect x="879.30" y="483.50" width="4.60" height="401.10" fill="url(#d59)"/><rect x="883.30" y="483.50" width="4.60" height="401.10" fill="url(#d60)"/><rect x="887.30" y="483.50" width="2.60" height="401.10" fill="url(#d61)"/><rect x="889.30" y="483.50" width="2.60" height="401.10" fill="url(#d62)"/><rect x="891.30" y="483.50" width="2.60" height="401.10" fill="url(#d63)"/><rect x="893.30" y="483.50" width="2.60" height="401.10" fill="url(#d64)"/><rect x="895.30" y="483.50" width="2.60" height="401.10" fill="url(#d65)"/><rect x="897.30" y="483.50" width="2.60" height="401.10" fill="url(#d66)"/><rect x="899.30" y="483.50" width="1.60" height="401.10" fill="url(#d67)"/><rect x="900.30" y="483.50" width="1.60" height="401.10" fill="url(#d68)"/><rect x="901.30" y="483.50" width="1.60" height="401.10" fill="url(#d69)"/><rect x="902.30" y="483.50" width="1.60" height="401.10" fill="url(#d70)"/><rect x="903.30" y="483.50" width="1.60" height="401.10" fill="url(#d71)"/><rect x="904.30" y="483.50" width="1.60" height="401.10" fill="url(#d72)"/><rect x="905.30" y="483.50" width="1.60" height="401.10" fill="url(#d73)"/><rect x="906.30" y="483.50" width="1.60" height="401.10" fill="url(#d74)"/><rect x="907.30" y="483.50" width="1.60" height="401.10" fill="url(#d75)"/><rect x="908.30" y="483.50" width="1.60" height="401.10" fill="url(#d76)"/><rect x="909.30" y="483.50" width="1.60" height="401.10" fill="url(#d77)"/><rect x="910.30" y="483.50" width="1.60" height="401.10" fill="url(#d78)"/><rect x="911.30" y="483.50" width="1.60" height="401.10" fill="url(#d79)"/><rect x="912.30" y="483.50" width="1.60" height="401.10" fill="url(#d80)"/><rect x="913.30" y="483.50" width="1.60" height="401.10" fill="url(#d81)"/><rect x="914.30" y="483.50" width="1.60" height="401.10" fill="url(#d82)"/><rect x="915.30" y="483.50" width="1.60" height="401.10" fill="url(#d83)"/><rect x="916.30" y="483.50" width="1.60" height="401.10" fill="url(#d84)"/><rect x="917.30" y="483.50" width="1.60" height="401.10" fill="url(#d85)"/><rect x="918.30" y="483.50" width="1.60" height="401.10" fill="url(#d86)"/><rect x="919.30" y="483.50" width="1.60" height="401.10" fill="url(#d87)"/><rect x="920.30" y="483.50" width="1.60" height="401.10" fill="url(#d88)"/><rect x="921.30" y="483.50" width="2.60" height="401.10" fill="url(#d89)"/><rect x="923.30" y="483.50" width="2.60" height="401.10" fill="url(#d90)"/><rect x="925.30" y="483.50" width="2.60" height="401.10" fill="url(#d91)"/><rect x="927.30" y="483.50" width="2.60" height="401.10" fill="url(#d92)"/><rect x="929.30" y="483.50" width="2.60" height="401.10" fill="url(#d93)"/><rect x="931.30" y="483.50" width="2.60" height="401.10" fill="url(#d94)"/><rect x="933.30" y="483.50" width="2.60" height="401.10" fill="url(#d95)"/><rect x="935.30" y="483.50" width="4.60" height="401.10" fill="url(#d96)"/><rect x="939.30" y="483.50" width="4.60" height="401.10" fill="url(#d97)"/><rect x="943.30" y="483.50" width="4.60" height="401.10" fill="url(#d98)"/><rect x="947.30" y="483.50" width="4.60" height="401.10" fill="url(#d99)"/><rect x="951.30" y="483.50" width="8.60" height="401.10" fill="url(#d100)"/><rect x="959.30" y="483.50" width="8.60" height="401.10" fill="url(#d101)"/><rect x="967.30" y="483.50" width="8.60" height="401.10" fill="url(#d102)"/><rect x="975.30" y="483.50" width="8.60" height="401.10" fill="url(#d103)"/><rect x="983.30" y="483.50" width="8.60" height="401.10" fill="url(#d104)"/><rect x="991.30" y="483.50" width="4.60" height="401.10" fill="url(#d105)"/><rect x="995.30" y="483.50" width="4.60" height="401.10" fill="url(#d106)"/><rect x="999.30" y="483.50" width="4.60" height="401.10" fill="url(#d107)"/><rect x="1003.30" y="483.50" width="2.60" height="401.10" fill="url(#d108)"/><rect x="1005.30" y="483.50" width="2.60" height="401.10" fill="url(#d109)"/><rect x="1007.30" y="483.50" width="2.60" height="401.10" fill="url(#d110)"/><rect x="1009.30" y="483.50" width="2.60" height="401.10" fill="url(#d111)"/><rect x="1011.30" y="483.50" width="2.60" height="401.10" fill="url(#d112)"/><rect x="1013.30" y="483.50" width="2.60" height="401.10" fill="url(#d113)"/><rect x="1015.30" y="483.50" width="2.60" height="401.10" fill="url(#d114)"/><rect x="1017.30" y="483.50" width="1.60" height="401.10" fill="url(#d115)"/><rect x="1018.30" y="483.50" width="1.60" height="401.10" fill="url(#d116)"/><rect x="1019.30" y="483.50" width="1.60" height="401.10" fill="url(#d117)"/><rect x="1020.30" y="483.50" width="1.60" height="401.10" fill="url(#d118)"/><rect x="1021.30" y="483.50" width="1.60" height="401.10" fill="url(#d119)"/><rect x="1022.30" y="483.50" width="1.60" height="401.10" fill="url(#d120)"/><rect x="1023.30" y="483.50" width="1.60" height="401.10" fill="url(#d121)"/><rect x="1024.30" y="483.50" width="1.60" height="401.10" fill="url(#d122)"/><rect x="1025.30" y="483.50" width="1.60" height="401.10" fill="url(#d123)"/><rect x="1026.30" y="483.50" width="1.60" height="401.10" fill="url(#d124)"/><rect x="1027.30" y="483.50" width="1.60" height="401.10" fill="url(#d125)"/><rect x="1028.30" y="483.50" width="1.60" height="401.10" fill="url(#d126)"/><rect x="1029.30" y="483.50" width="1.60" height="401.10" fill="url(#d127)"/><rect x="1030.30" y="483.50" width="1.60" height="401.10" fill="url(#d128)"/><rect x="1031.30" y="483.50" width="1.60" height="401.10" fill="url(#d129)"/><rect x="1032.30" y="483.50" width="1.60" height="401.10" fill="url(#d130)"/><rect x="1033.30" y="483.50" width="1.60" height="401.10" fill="url(#d131)"/><rect x="1034.30" y="483.50" width="1.60" height="401.10" fill="url(#d132)"/><rect x="1035.30" y="483.50" width="1.60" height="401.10" fill="url(#d133)"/><rect x="1036.30" y="483.50" width="1.60" height="401.10" fill="url(#d134)"/><rect x="1037.30" y="483.50" width="1.60" height="401.10" fill="url(#d135)"/><rect x="1038.30" y="483.50" width="2.60" height="401.10" fill="url(#d136)"/><rect x="1040.30" y="483.50" width="2.60" height="401.10" fill="url(#d137)"/><rect x="1042.30" y="483.50" width="2.60" height="401.10" fill="url(#d138)"/><rect x="1044.30" y="483.50" width="2.60" height="401.10" fill="url(#d139)"/><rect x="1046.30" y="483.50" width="2.60" height="401.10" fill="url(#d140)"/><rect x="1048.30" y="483.50" width="2.60" height="401.10" fill="url(#d141)"/><rect x="1050.30" y="483.50" width="2.60" height="401.10" fill="url(#d142)"/><rect x="1052.30" y="483.50" width="4.60" height="401.10" fill="url(#d143)"/><rect x="1056.30" y="483.50" width="4.60" height="401.10" fill="url(#d144)"/><rect x="1060.30" y="483.50" width="4.60" height="401.10" fill="url(#d145)"/><rect x="1064.30" y="483.50" width="4.60" height="401.10" fill="url(#d146)"/><rect x="1068.30" y="483.50" width="8.60" height="401.10" fill="url(#d147)"/><rect x="1076.30" y="483.50" width="8.60" height="401.10" fill="url(#d148)"/><rect x="1084.30" y="483.50" width="8.60" height="401.10" fill="url(#d149)"/><rect x="1092.30" y="483.50" width="8.60" height="401.10" fill="url(#d150)"/><rect x="1100.30" y="483.50" width="8.60" height="401.10" fill="url(#d151)"/><rect x="1108.30" y="483.50" width="8.60" height="401.10" fill="url(#d152)"/><rect x="1116.30" y="483.50" width="8.60" height="401.10" fill="url(#d153)"/><rect x="1124.30" y="483.50" width="8.60" height="401.10" fill="url(#d154)"/><rect x="1132.30" y="483.50" width="8.60" height="401.10" fill="url(#d155)"/><rect x="1140.30" y="483.50" width="4.50" height="401.10" fill="url(#d156)"/></g>
<line x1="112.40" y1="117.05" x2="581.30" y2="117.05" stroke="#000" stroke-width="4.35" stroke-dasharray="4.35 7.17" stroke-dashoffset="0"/>
<rect x="113.20" y="41.50" width="469.10" height="400.60" fill="none" stroke="#000" stroke-width="2.70"/>
<line x1="114.70" y1="442.10" x2="114.70" y2="452.40" stroke="#000" stroke-width="2.50"/>
<line x1="231.35" y1="442.10" x2="231.35" y2="452.40" stroke="#000" stroke-width="2.50"/>
<line x1="348.00" y1="442.10" x2="348.00" y2="452.40" stroke="#000" stroke-width="2.50"/>
<line x1="464.65" y1="442.10" x2="464.65" y2="452.40" stroke="#000" stroke-width="2.50"/>
<line x1="581.30" y1="442.10" x2="581.30" y2="452.40" stroke="#000" stroke-width="2.50"/>
<line x1="102.80" y1="90.20" x2="113.20" y2="90.20" stroke="#000" stroke-width="2.50"/>
<text x="92.90" y="100.80" text-anchor="end" class="tk">1.25</text>
<line x1="102.80" y1="171.45" x2="113.20" y2="171.45" stroke="#000" stroke-width="2.50"/>
<text x="92.90" y="182.05" text-anchor="end" class="tk">1.00</text>
<line x1="102.80" y1="252.70" x2="113.20" y2="252.70" stroke="#000" stroke-width="2.50"/>
<text x="92.90" y="263.30" text-anchor="end" class="tk">0.75</text>
<line x1="102.80" y1="333.95" x2="113.20" y2="333.95" stroke="#000" stroke-width="2.50"/>
<text x="92.90" y="344.55" text-anchor="end" class="tk">0.50</text>
<line x1="102.80" y1="415.20" x2="113.20" y2="415.20" stroke="#000" stroke-width="2.50"/>
<text x="92.90" y="425.80" text-anchor="end" class="tk">0.25</text>
<line x1="675.50" y1="117.05" x2="1145.40" y2="117.05" stroke="#000" stroke-width="4.35" stroke-dasharray="4.35 7.17" stroke-dashoffset="0"/>
<rect x="676.30" y="41.50" width="470.10" height="400.60" fill="none" stroke="#000" stroke-width="2.70"/>
<line x1="677.80" y1="442.10" x2="677.80" y2="452.40" stroke="#000" stroke-width="2.50"/>
<line x1="794.45" y1="442.10" x2="794.45" y2="452.40" stroke="#000" stroke-width="2.50"/>
<line x1="911.10" y1="442.10" x2="911.10" y2="452.40" stroke="#000" stroke-width="2.50"/>
<line x1="1027.75" y1="442.10" x2="1027.75" y2="452.40" stroke="#000" stroke-width="2.50"/>
<line x1="1144.40" y1="442.10" x2="1144.40" y2="452.40" stroke="#000" stroke-width="2.50"/>
<line x1="665.90" y1="90.20" x2="676.30" y2="90.20" stroke="#000" stroke-width="2.50"/>
<line x1="665.90" y1="171.45" x2="676.30" y2="171.45" stroke="#000" stroke-width="2.50"/>
<line x1="665.90" y1="252.70" x2="676.30" y2="252.70" stroke="#000" stroke-width="2.50"/>
<line x1="665.90" y1="333.95" x2="676.30" y2="333.95" stroke="#000" stroke-width="2.50"/>
<line x1="665.90" y1="415.20" x2="676.30" y2="415.20" stroke="#000" stroke-width="2.50"/>
<line x1="111.55" y1="559.60" x2="580.30" y2="559.60" stroke="#000" stroke-width="4.35" stroke-dasharray="4.35 7.17" stroke-dashoffset="0"/>
<rect x="111.80" y="483.50" width="469.50" height="401.10" fill="none" stroke="#000" stroke-width="2.70"/>
<line x1="113.60" y1="884.60" x2="113.60" y2="894.90" stroke="#000" stroke-width="2.50"/>
<text x="96.00" y="925.20" class="tk"><tspan textLength="20.7" lengthAdjust="spacingAndGlyphs">−</tspan><tspan x="118.00">2</tspan></text>
<line x1="230.15" y1="884.60" x2="230.15" y2="894.90" stroke="#000" stroke-width="2.50"/>
<text x="212.55" y="925.20" class="tk"><tspan textLength="20.7" lengthAdjust="spacingAndGlyphs">−</tspan><tspan x="234.55">1</tspan></text>
<line x1="346.70" y1="884.60" x2="346.70" y2="894.90" stroke="#000" stroke-width="2.50"/>
<text x="346.80" y="925.20" text-anchor="middle" class="tk">0</text>
<line x1="463.25" y1="884.60" x2="463.25" y2="894.90" stroke="#000" stroke-width="2.50"/>
<text x="463.35" y="925.20" text-anchor="middle" class="tk">1</text>
<line x1="579.80" y1="884.60" x2="579.80" y2="894.90" stroke="#000" stroke-width="2.50"/>
<text x="579.90" y="925.20" text-anchor="middle" class="tk">2</text>
<line x1="101.40" y1="532.20" x2="111.80" y2="532.20" stroke="#000" stroke-width="2.50"/>
<text x="91.50" y="542.80" text-anchor="end" class="tk">1.25</text>
<line x1="101.40" y1="613.45" x2="111.80" y2="613.45" stroke="#000" stroke-width="2.50"/>
<text x="91.50" y="624.05" text-anchor="end" class="tk">1.00</text>
<line x1="101.40" y1="694.70" x2="111.80" y2="694.70" stroke="#000" stroke-width="2.50"/>
<text x="91.50" y="705.30" text-anchor="end" class="tk">0.75</text>
<line x1="101.40" y1="775.95" x2="111.80" y2="775.95" stroke="#000" stroke-width="2.50"/>
<text x="91.50" y="786.55" text-anchor="end" class="tk">0.50</text>
<line x1="101.40" y1="857.20" x2="111.80" y2="857.20" stroke="#000" stroke-width="2.50"/>
<text x="91.50" y="867.80" text-anchor="end" class="tk">0.25</text>
<line x1="674.60" y1="559.60" x2="1143.80" y2="559.60" stroke="#000" stroke-width="4.35" stroke-dasharray="4.35 7.17" stroke-dashoffset="0"/>
<rect x="675.30" y="483.50" width="469.50" height="401.10" fill="none" stroke="#000" stroke-width="2.70"/>
<line x1="677.10" y1="884.60" x2="677.10" y2="894.90" stroke="#000" stroke-width="2.50"/>
<text x="659.50" y="925.20" class="tk"><tspan textLength="20.7" lengthAdjust="spacingAndGlyphs">−</tspan><tspan x="681.50">2</tspan></text>
<line x1="793.65" y1="884.60" x2="793.65" y2="894.90" stroke="#000" stroke-width="2.50"/>
<text x="776.05" y="925.20" class="tk"><tspan textLength="20.7" lengthAdjust="spacingAndGlyphs">−</tspan><tspan x="798.05">1</tspan></text>
<line x1="910.20" y1="884.60" x2="910.20" y2="894.90" stroke="#000" stroke-width="2.50"/>
<text x="910.30" y="925.20" text-anchor="middle" class="tk">0</text>
<line x1="1026.75" y1="884.60" x2="1026.75" y2="894.90" stroke="#000" stroke-width="2.50"/>
<text x="1026.85" y="925.20" text-anchor="middle" class="tk">1</text>
<line x1="1143.30" y1="884.60" x2="1143.30" y2="894.90" stroke="#000" stroke-width="2.50"/>
<text x="1143.40" y="925.20" text-anchor="middle" class="tk">2</text>
<line x1="664.90" y1="532.20" x2="675.30" y2="532.20" stroke="#000" stroke-width="2.50"/>
<line x1="664.90" y1="613.45" x2="675.30" y2="613.45" stroke="#000" stroke-width="2.50"/>
<line x1="664.90" y1="694.70" x2="675.30" y2="694.70" stroke="#000" stroke-width="2.50"/>
<line x1="664.90" y1="775.95" x2="675.30" y2="775.95" stroke="#000" stroke-width="2.50"/>
<line x1="664.90" y1="857.20" x2="675.30" y2="857.20" stroke="#000" stroke-width="2.50"/>
<defs><linearGradient id="cb1" x1="0" y1="0" x2="0" y2="1"><stop offset="0.0000" stop-color="#fde725"/><stop offset="0.0250" stop-color="#efe51c"/><stop offset="0.0500" stop-color="#dfe318"/><stop offset="0.0750" stop-color="#cde11d"/><stop offset="0.1000" stop-color="#bddf26"/><stop offset="0.1250" stop-color="#addc30"/><stop offset="0.1500" stop-color="#9bd93c"/><stop offset="0.1750" stop-color="#8bd646"/><stop offset="0.2000" stop-color="#7ad151"/><stop offset="0.2250" stop-color="#6ccd5a"/><stop offset="0.2500" stop-color="#5ec962"/><stop offset="0.2750" stop-color="#50c46a"/><stop offset="0.3000" stop-color="#44bf70"/><stop offset="0.3250" stop-color="#38b977"/><stop offset="0.3500" stop-color="#2fb47c"/><stop offset="0.3750" stop-color="#28ae80"/><stop offset="0.4000" stop-color="#22a884"/><stop offset="0.4250" stop-color="#1fa287"/><stop offset="0.4500" stop-color="#1e9c89"/><stop offset="0.4750" stop-color="#1f968b"/><stop offset="0.5000" stop-color="#21918c"/><stop offset="0.5250" stop-color="#238a8d"/><stop offset="0.5500" stop-color="#25848e"/><stop offset="0.5750" stop-color="#277e8e"/><stop offset="0.6000" stop-color="#2a788e"/><stop offset="0.6250" stop-color="#2c728e"/><stop offset="0.6500" stop-color="#2f6c8e"/><stop offset="0.6750" stop-color="#31668e"/><stop offset="0.7000" stop-color="#355f8d"/><stop offset="0.7250" stop-color="#38598c"/><stop offset="0.7500" stop-color="#3b528b"/><stop offset="0.7750" stop-color="#3e4a89"/><stop offset="0.8000" stop-color="#414487"/><stop offset="0.8250" stop-color="#443b84"/><stop offset="0.8500" stop-color="#463480"/><stop offset="0.8750" stop-color="#472d7b"/><stop offset="0.9000" stop-color="#482475"/><stop offset="0.9250" stop-color="#481c6e"/><stop offset="0.9500" stop-color="#471365"/><stop offset="0.9750" stop-color="#460a5d"/><stop offset="1.0000" stop-color="#440154"/></linearGradient></defs>
<rect x="1210.40" y="41.50" width="20.10" height="400.40" fill="url(#cb1)" stroke="#000" stroke-width="2.70"/>
<line x1="1230.50" y1="92.93" x2="1240.90" y2="92.93" stroke="#000" stroke-width="2.50"/>
<text x="1250.10" y="103.53" class="tk">0.8</text>
<line x1="1230.50" y1="158.04" x2="1240.90" y2="158.04" stroke="#000" stroke-width="2.50"/>
<text x="1250.10" y="168.64" class="tk">0.6</text>
<line x1="1230.50" y1="223.14" x2="1240.90" y2="223.14" stroke="#000" stroke-width="2.50"/>
<text x="1250.10" y="233.74" class="tk">0.4</text>
<line x1="1230.50" y1="288.25" x2="1240.90" y2="288.25" stroke="#000" stroke-width="2.50"/>
<text x="1250.10" y="298.85" class="tk">0.2</text>
<line x1="1230.50" y1="353.36" x2="1240.90" y2="353.36" stroke="#000" stroke-width="2.50"/>
<text x="1250.10" y="363.96" class="tk">0.0</text>
<line x1="1230.50" y1="418.46" x2="1240.90" y2="418.46" stroke="#000" stroke-width="2.50"/>
<text x="1251.20" y="429.06" class="tk"><tspan textLength="20.7" lengthAdjust="spacingAndGlyphs">−</tspan><tspan x="1272.40">0.2</tspan></text>
<defs><linearGradient id="cb2" x1="0" y1="0" x2="0" y2="1"><stop offset="0.0000" stop-color="#fde725"/><stop offset="0.0250" stop-color="#efe51c"/><stop offset="0.0500" stop-color="#dfe318"/><stop offset="0.0750" stop-color="#cde11d"/><stop offset="0.1000" stop-color="#bddf26"/><stop offset="0.1250" stop-color="#addc30"/><stop offset="0.1500" stop-color="#9bd93c"/><stop offset="0.1750" stop-color="#8bd646"/><stop offset="0.2000" stop-color="#7ad151"/><stop offset="0.2250" stop-color="#6ccd5a"/><stop offset="0.2500" stop-color="#5ec962"/><stop offset="0.2750" stop-color="#50c46a"/><stop offset="0.3000" stop-color="#44bf70"/><stop offset="0.3250" stop-color="#38b977"/><stop offset="0.3500" stop-color="#2fb47c"/><stop offset="0.3750" stop-color="#28ae80"/><stop offset="0.4000" stop-color="#22a884"/><stop offset="0.4250" stop-color="#1fa287"/><stop offset="0.4500" stop-color="#1e9c89"/><stop offset="0.4750" stop-color="#1f968b"/><stop offset="0.5000" stop-color="#21918c"/><stop offset="0.5250" stop-color="#238a8d"/><stop offset="0.5500" stop-color="#25848e"/><stop offset="0.5750" stop-color="#277e8e"/><stop offset="0.6000" stop-color="#2a788e"/><stop offset="0.6250" stop-color="#2c728e"/><stop offset="0.6500" stop-color="#2f6c8e"/><stop offset="0.6750" stop-color="#31668e"/><stop offset="0.7000" stop-color="#355f8d"/><stop offset="0.7250" stop-color="#38598c"/><stop offset="0.7500" stop-color="#3b528b"/><stop offset="0.7750" stop-color="#3e4a89"/><stop offset="0.8000" stop-color="#414487"/><stop offset="0.8250" stop-color="#443b84"/><stop offset="0.8500" stop-color="#463480"/><stop offset="0.8750" stop-color="#472d7b"/><stop offset="0.9000" stop-color="#482475"/><stop offset="0.9250" stop-color="#481c6e"/><stop offset="0.9500" stop-color="#471365"/><stop offset="0.9750" stop-color="#460a5d"/><stop offset="1.0000" stop-color="#440154"/></linearGradient></defs>
<rect x="1208.90" y="483.50" width="20.20" height="401.10" fill="url(#cb2)" stroke="#000" stroke-width="2.70"/>
<line x1="1229.10" y1="483.50" x2="1239.50" y2="483.50" stroke="#000" stroke-width="2.50"/>
<text x="1248.70" y="494.10" class="tk">0.4</text>
<line x1="1229.10" y1="577.88" x2="1239.50" y2="577.88" stroke="#000" stroke-width="2.50"/>
<text x="1248.70" y="588.48" class="tk">0.2</text>
<line x1="1229.10" y1="672.25" x2="1239.50" y2="672.25" stroke="#000" stroke-width="2.50"/>
<text x="1248.70" y="682.85" class="tk">0.0</text>
<line x1="1229.10" y1="766.63" x2="1239.50" y2="766.63" stroke="#000" stroke-width="2.50"/>
<text x="1249.80" y="777.23" class="tk"><tspan textLength="20.7" lengthAdjust="spacingAndGlyphs">−</tspan><tspan x="1271.00">0.2</tspan></text>
<line x1="1229.10" y1="861.01" x2="1239.50" y2="861.01" stroke="#000" stroke-width="2.50"/>
<text x="1249.80" y="871.61" class="tk"><tspan textLength="20.7" lengthAdjust="spacingAndGlyphs">−</tspan><tspan x="1271.00">0.4</tspan></text>
<text x="347.6" y="24.1" text-anchor="middle" class="ti">Experiment</text>
<text x="911.0" y="24.1" text-anchor="middle" class="ti">Simulation</text>
<text transform="translate(347.1 964) scale(1.06 1)" text-anchor="middle" class="lb"><tspan class="it">W</tspan><tspan font-size="42" dy="7">/</tspan><tspan class="it" font-size="28.5" dy="-7" dx="1">ω</tspan></text>
<text transform="translate(910.6 964) scale(1.06 1)" text-anchor="middle" class="lb"><tspan class="it">W</tspan><tspan font-size="42" dy="7">/</tspan><tspan class="it" font-size="28.5" dy="-7" dx="1">ω</tspan></text>
<text transform="translate(23.5 242.8) rotate(-90) scale(1.05 1)" text-anchor="middle" class="lb"><tspan class="it">t</tspan><tspan dx="5">Ω</tspan><tspan font-size="42" dy="6.5">/</tspan><tspan class="it" dy="-6.5">π</tspan></text>
<text transform="translate(23.5 684.8) rotate(-90) scale(1.05 1)" text-anchor="middle" class="lb"><tspan class="it">t</tspan><tspan dx="5">Ω</tspan><tspan font-size="42" dy="6.5">/</tspan><tspan class="it" dy="-6.5">π</tspan></text>
<text transform="translate(1342 242.6) rotate(-90) scale(1.045 1)" text-anchor="middle" class="lb">Re[<tspan class="it">P</tspan>(<tspan class="it">W</tspan>)]</text>
<text transform="translate(1342 684.6) rotate(-90) scale(1.045 1)" text-anchor="middle" class="lb">Im[<tspan class="it">P</tspan>(<tspan class="it">W</tspan>)]</text>
</svg>
</body></html>
